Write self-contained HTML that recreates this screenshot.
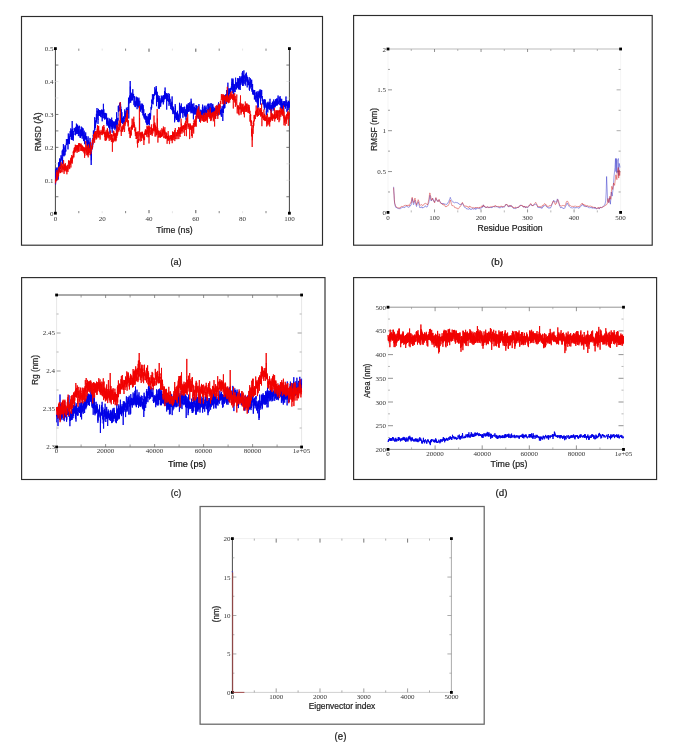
<!DOCTYPE html>
<html><head><meta charset="utf-8"><style>
html,body{margin:0;padding:0;background:#fff;}
body{width:685px;height:745px;overflow:hidden;font-family:"Liberation Sans",sans-serif;}
svg{display:block;will-change:transform;filter:blur(0.3px);}
</style></head><body>
<svg width="685" height="745" viewBox="0 0 685 745">
<rect x="21.5" y="16.5" width="301.0" height="228.7" fill="none" stroke="#2c2c2c" stroke-width="1.15"/>
<line x1="55.4" y1="48.6" x2="55.4" y2="213.2" stroke="#444" stroke-width="1"/>
<line x1="289.4" y1="48.6" x2="289.4" y2="213.2" stroke="#444" stroke-width="1"/>
<rect x="54.0" y="47.2" width="2.8" height="2.8" fill="#000"/>
<rect x="288.0" y="47.2" width="2.8" height="2.8" fill="#000"/>
<rect x="54.0" y="211.79999999999998" width="2.8" height="2.8" fill="#000"/>
<rect x="288.0" y="211.79999999999998" width="2.8" height="2.8" fill="#000"/>
<text x="53.4" y="215.7" font-family="Liberation Serif" font-size="7" text-anchor="end" fill="#333" font-weight="normal">0</text>
<text x="53.4" y="182.77999999999997" font-family="Liberation Serif" font-size="7" text-anchor="end" fill="#333" font-weight="normal">0.1</text>
<text x="53.4" y="149.85999999999999" font-family="Liberation Serif" font-size="7" text-anchor="end" fill="#333" font-weight="normal">0.2</text>
<text x="53.4" y="116.94" font-family="Liberation Serif" font-size="7" text-anchor="end" fill="#333" font-weight="normal">0.3</text>
<text x="53.4" y="84.01999999999998" font-family="Liberation Serif" font-size="7" text-anchor="end" fill="#333" font-weight="normal">0.4</text>
<text x="53.4" y="51.099999999999994" font-family="Liberation Serif" font-size="7" text-anchor="end" fill="#333" font-weight="normal">0.5</text>
<line x1="55.4" y1="196.73999999999998" x2="58.4" y2="196.73999999999998" stroke="#555" stroke-width="0.8"/>
<line x1="286.4" y1="196.73999999999998" x2="289.4" y2="196.73999999999998" stroke="#555" stroke-width="0.8"/>
<line x1="55.4" y1="180.27999999999997" x2="58.4" y2="180.27999999999997" stroke="#ddd" stroke-width="0.8"/>
<line x1="286.4" y1="180.27999999999997" x2="289.4" y2="180.27999999999997" stroke="#ddd" stroke-width="0.8"/>
<line x1="55.4" y1="163.82" x2="58.4" y2="163.82" stroke="#ddd" stroke-width="0.8"/>
<line x1="286.4" y1="163.82" x2="289.4" y2="163.82" stroke="#ddd" stroke-width="0.8"/>
<line x1="55.4" y1="147.35999999999999" x2="58.4" y2="147.35999999999999" stroke="#555" stroke-width="0.8"/>
<line x1="286.4" y1="147.35999999999999" x2="289.4" y2="147.35999999999999" stroke="#555" stroke-width="0.8"/>
<line x1="55.4" y1="130.89999999999998" x2="58.4" y2="130.89999999999998" stroke="#555" stroke-width="0.8"/>
<line x1="286.4" y1="130.89999999999998" x2="289.4" y2="130.89999999999998" stroke="#555" stroke-width="0.8"/>
<line x1="55.4" y1="114.44" x2="58.4" y2="114.44" stroke="#555" stroke-width="0.8"/>
<line x1="286.4" y1="114.44" x2="289.4" y2="114.44" stroke="#555" stroke-width="0.8"/>
<line x1="55.4" y1="97.97999999999999" x2="58.4" y2="97.97999999999999" stroke="#ddd" stroke-width="0.8"/>
<line x1="286.4" y1="97.97999999999999" x2="289.4" y2="97.97999999999999" stroke="#ddd" stroke-width="0.8"/>
<line x1="55.4" y1="81.51999999999998" x2="58.4" y2="81.51999999999998" stroke="#ddd" stroke-width="0.8"/>
<line x1="286.4" y1="81.51999999999998" x2="289.4" y2="81.51999999999998" stroke="#ddd" stroke-width="0.8"/>
<line x1="55.4" y1="65.06" x2="58.4" y2="65.06" stroke="#555" stroke-width="0.8"/>
<line x1="286.4" y1="65.06" x2="289.4" y2="65.06" stroke="#555" stroke-width="0.8"/>
<text x="55.4" y="220.5" font-family="Liberation Serif" font-size="7" text-anchor="middle" fill="#333" font-weight="normal">0</text>
<text x="102.19999999999999" y="220.5" font-family="Liberation Serif" font-size="7" text-anchor="middle" fill="#333" font-weight="normal">20</text>
<text x="149.0" y="220.5" font-family="Liberation Serif" font-size="7" text-anchor="middle" fill="#333" font-weight="normal">40</text>
<text x="195.79999999999998" y="220.5" font-family="Liberation Serif" font-size="7" text-anchor="middle" fill="#333" font-weight="normal">60</text>
<text x="242.6" y="220.5" font-family="Liberation Serif" font-size="7" text-anchor="middle" fill="#333" font-weight="normal">80</text>
<text x="289.3999999999999" y="220.5" font-family="Liberation Serif" font-size="7" text-anchor="middle" fill="#333" font-weight="normal">100</text>
<line x1="78.8" y1="213.2" x2="78.8" y2="211.0" stroke="#666" stroke-width="0.8"/>
<line x1="78.8" y1="48.6" x2="78.8" y2="50.800000000000004" stroke="#666" stroke-width="0.8"/>
<line x1="102.19999999999999" y1="213.2" x2="102.19999999999999" y2="211.2" stroke="#ddd" stroke-width="0.8"/>
<line x1="102.19999999999999" y1="48.6" x2="102.19999999999999" y2="50.6" stroke="#ddd" stroke-width="0.8"/>
<line x1="125.6" y1="213.2" x2="125.6" y2="211.0" stroke="#666" stroke-width="0.8"/>
<line x1="125.6" y1="48.6" x2="125.6" y2="50.800000000000004" stroke="#666" stroke-width="0.8"/>
<line x1="148.99999999999997" y1="213.2" x2="148.99999999999997" y2="210.0" stroke="#333" stroke-width="0.8"/>
<line x1="148.99999999999997" y1="48.6" x2="148.99999999999997" y2="51.800000000000004" stroke="#333" stroke-width="0.8"/>
<line x1="172.39999999999998" y1="213.2" x2="172.39999999999998" y2="211.2" stroke="#ddd" stroke-width="0.8"/>
<line x1="172.39999999999998" y1="48.6" x2="172.39999999999998" y2="50.6" stroke="#ddd" stroke-width="0.8"/>
<line x1="195.79999999999998" y1="213.2" x2="195.79999999999998" y2="210.0" stroke="#333" stroke-width="0.8"/>
<line x1="195.79999999999998" y1="48.6" x2="195.79999999999998" y2="51.800000000000004" stroke="#333" stroke-width="0.8"/>
<line x1="219.2" y1="213.2" x2="219.2" y2="211.0" stroke="#666" stroke-width="0.8"/>
<line x1="219.2" y1="48.6" x2="219.2" y2="50.800000000000004" stroke="#666" stroke-width="0.8"/>
<line x1="242.59999999999997" y1="213.2" x2="242.59999999999997" y2="211.2" stroke="#ddd" stroke-width="0.8"/>
<line x1="242.59999999999997" y1="48.6" x2="242.59999999999997" y2="50.6" stroke="#ddd" stroke-width="0.8"/>
<line x1="265.99999999999994" y1="213.2" x2="265.99999999999994" y2="211.0" stroke="#666" stroke-width="0.8"/>
<line x1="265.99999999999994" y1="48.6" x2="265.99999999999994" y2="50.800000000000004" stroke="#666" stroke-width="0.8"/>
<text x="174.5" y="232.8" font-family="Liberation Sans" font-size="8.8" text-anchor="middle" fill="#222" font-weight="normal" stroke="#222" stroke-width="0.22" textLength="36.4" lengthAdjust="spacingAndGlyphs">Time (ns)</text>
<text x="40.9" y="131.8" font-family="Liberation Sans" font-size="8.6" text-anchor="middle" fill="#222" font-weight="normal" stroke="#222" stroke-width="0.22" textLength="39" lengthAdjust="spacingAndGlyphs" transform="rotate(-90 40.9 131.8)">RMSD (Å)</text>
<text x="176" y="265.2" font-family="Liberation Sans" font-size="9.6" text-anchor="middle" fill="#222" font-weight="normal" stroke="#222" stroke-width="0.22" textLength="11.2" lengthAdjust="spacingAndGlyphs">(a)</text>
<polyline fill="none" stroke="#0000e6" stroke-width="0.9" stroke-opacity="1.0" stroke-linejoin="bevel" points="55.4,180.5 55.5,178.8 55.6,184.4 55.7,176.2 55.8,178.7 55.9,168.9 56.0,180.7 56.1,172.5 56.3,177.5 56.4,167.6 56.5,172.7 56.6,172.6 56.7,177.2 56.8,171.1 56.9,172.3 57.0,173.9 57.1,180.2 57.2,177.2 57.3,177.9 57.4,174.5 57.5,177.7 57.6,170.4 57.7,172.3 57.8,167.5 58.0,173.5 58.1,172.4 58.2,179.6 58.3,171.2 58.4,169.4 58.5,162.3 58.6,171.1 58.7,167.5 58.8,167.5 58.9,164.3 59.0,167.9 59.1,164.0 59.2,171.7 59.3,169.3 59.4,171.1 59.6,161.4 59.7,164.4 59.8,158.3 59.9,164.2 60.0,159.0 60.1,163.1 60.2,159.6 60.3,163.2 60.4,164.3 60.5,169.0 60.6,163.6 60.7,165.2 60.8,160.1 60.9,161.3 61.0,155.3 61.1,160.2 61.3,158.8 61.4,159.0 61.5,157.2 61.6,159.2 61.7,156.9 61.8,158.4 61.9,155.1 62.0,155.0 62.1,154.7 62.2,150.6 62.3,155.7 62.4,160.8 62.5,159.4 62.6,164.0 62.7,157.0 62.8,156.8 63.0,149.7 63.1,156.0 63.2,149.4 63.3,151.8 63.4,144.1 63.5,152.3 63.6,147.0 63.7,155.1 63.8,147.2 63.9,148.9 64.0,148.1 64.1,156.3 64.2,153.7 64.3,154.7 64.4,154.3 64.6,153.3 64.7,153.4 64.8,153.0 64.9,150.9 65.0,155.3 65.1,145.3 65.2,151.5 65.3,145.7 65.4,150.2 65.5,149.1 65.6,151.2 65.7,149.8 65.8,151.6 65.9,145.4 66.0,145.3 66.1,144.0 66.3,142.6 66.4,139.2 66.5,140.9 66.6,141.4 66.7,145.1 66.8,143.9 66.9,144.9 67.0,142.2 67.1,144.0 67.2,139.2 67.3,142.3 67.4,139.6 67.5,140.3 67.6,139.3 67.7,140.5 67.9,139.4 68.0,149.4 68.1,141.6 68.2,143.7 68.3,133.5 68.4,140.9 68.5,137.0 68.6,141.4 68.7,137.9 68.8,143.1 68.9,139.6 69.0,139.4 69.1,135.5 69.2,142.5 69.3,136.7 69.4,144.1 69.6,137.6 69.7,139.2 69.8,139.0 69.9,137.5 70.0,133.9 70.1,134.6 70.2,131.1 70.3,136.9 70.4,134.2 70.5,135.5 70.6,133.8 70.7,135.6 70.8,128.4 70.9,135.8 71.0,130.5 71.1,136.4 71.3,131.0 71.4,139.8 71.5,136.3 71.6,139.3 71.7,131.7 71.8,135.6 71.9,129.7 72.0,136.0 72.1,128.6 72.2,121.0 72.3,132.2 72.4,129.0 72.5,139.9 72.6,131.9 72.7,137.0 72.9,135.8 73.0,135.4 73.1,138.1 73.2,134.0 73.3,140.7 73.4,133.1 73.5,132.7 73.6,131.0 73.7,132.5 73.8,133.0 73.9,135.0 74.0,132.4 74.1,130.4 74.2,127.9 74.3,130.7 74.4,128.7 74.6,129.7 74.7,130.2 74.8,130.5 74.9,129.9 75.0,131.8 75.1,131.5 75.2,131.7 75.3,129.0 75.4,135.3 75.5,131.8 75.6,134.4 75.7,128.4 75.8,133.4 75.9,126.8 76.0,133.1 76.2,127.0 76.3,132.1 76.4,123.6 76.5,125.6 76.6,125.1 76.7,134.1 76.8,130.4 76.9,133.3 77.0,126.6 77.1,131.3 77.2,127.1 77.3,131.7 77.4,126.7 77.5,130.6 77.6,124.7 77.7,134.0 77.9,128.8 78.0,131.4 78.1,126.5 78.2,128.3 78.3,126.6 78.4,136.1 78.5,129.0 78.6,131.7 78.7,129.4 78.8,132.9 78.9,131.6 79.0,133.9 79.1,127.2 79.2,128.0 79.3,125.7 79.4,126.6 79.6,126.1 79.7,132.3 79.8,131.8 79.9,136.3 80.0,132.7 80.1,137.8 80.2,134.6 80.3,133.2 80.4,129.8 80.5,137.8 80.6,130.2 80.7,136.7 80.8,131.3 80.9,136.1 81.0,129.2 81.2,131.6 81.3,126.6 81.4,132.5 81.5,129.2 81.6,135.8 81.7,131.2 81.8,134.9 81.9,133.3 82.0,134.4 82.1,128.6 82.2,138.7 82.3,127.6 82.4,135.9 82.5,131.2 82.6,133.9 82.7,134.6 82.9,133.8 83.0,128.3 83.1,129.3 83.2,128.9 83.3,134.6 83.4,139.0 83.5,141.1 83.6,136.3 83.7,136.2 83.8,132.3 83.9,137.7 84.0,138.0 84.1,136.9 84.2,130.7 84.3,137.2 84.5,139.0 84.6,144.2 84.7,138.9 84.8,138.4 84.9,135.1 85.0,140.3 85.1,138.1 85.2,138.9 85.3,136.0 85.4,138.0 85.5,134.2 85.6,137.7 85.7,132.4 85.8,137.7 85.9,137.7 86.0,139.1 86.2,137.3 86.3,139.2 86.4,139.8 86.5,140.5 86.6,136.2 86.7,139.2 86.8,138.0 86.9,143.1 87.0,140.6 87.1,144.8 87.2,139.8 87.3,148.7 87.4,142.5 87.5,147.1 87.6,150.1 87.7,143.2 87.9,139.9 88.0,142.4 88.1,136.4 88.2,140.0 88.3,140.6 88.4,143.8 88.5,141.6 88.6,145.7 88.7,145.1 88.8,149.1 88.9,141.8 89.0,144.6 89.1,143.8 89.2,147.8 89.3,147.1 89.5,148.7 89.6,145.6 89.7,148.2 89.8,142.7 89.9,148.0 90.0,137.9 90.1,147.6 90.2,141.8 90.3,150.4 90.4,152.5 90.5,155.2 90.6,146.3 90.7,149.6 90.8,148.0 90.9,154.3 91.0,154.4 91.2,165.0 91.3,151.6 91.4,160.2 91.5,152.7 91.6,151.5 91.7,147.5 91.8,149.9 91.9,146.1 92.0,147.8 92.1,142.6 92.2,148.4 92.3,143.6 92.4,146.5 92.5,144.1 92.6,147.5 92.8,142.2 92.9,144.6 93.0,137.9 93.1,139.9 93.2,135.1 93.3,136.7 93.4,130.5 93.5,136.0 93.6,134.2 93.7,139.7 93.8,134.1 93.9,135.0 94.0,141.5 94.1,137.4 94.2,131.2 94.3,131.8 94.5,127.0 94.6,127.3 94.7,117.2 94.8,130.3 94.9,127.1 95.0,128.1 95.1,125.2 95.2,127.7 95.3,124.0 95.4,126.2 95.5,121.3 95.6,121.7 95.7,120.9 95.8,124.4 95.9,119.8 96.0,122.7 96.2,117.8 96.3,119.0 96.4,113.8 96.5,121.7 96.6,117.1 96.7,118.1 96.8,115.5 96.9,116.0 97.0,108.0 97.1,118.8 97.2,110.8 97.3,112.6 97.4,110.8 97.5,112.2 97.6,111.4 97.8,111.5 97.9,115.9 98.0,123.9 98.1,118.9 98.2,119.6 98.3,114.1 98.4,115.4 98.5,108.9 98.6,112.9 98.7,112.0 98.8,113.9 98.9,110.3 99.0,114.9 99.1,113.9 99.2,115.9 99.3,110.5 99.5,112.4 99.6,110.0 99.7,114.8 99.8,114.3 99.9,115.7 100.0,113.3 100.1,115.9 100.2,113.9 100.3,114.8 100.4,115.9 100.5,114.9 100.6,110.4 100.7,114.6 100.8,110.8 100.9,117.0 101.1,115.9 101.2,117.3 101.3,113.6 101.4,111.0 101.5,109.8 101.6,114.2 101.7,109.7 101.8,110.9 101.9,110.1 102.0,111.1 102.1,110.0 102.2,121.3 102.3,110.2 102.4,112.5 102.5,111.0 102.6,115.6 102.8,113.1 102.9,118.4 103.0,117.3 103.1,117.8 103.2,109.5 103.3,112.3 103.4,103.8 103.5,113.2 103.6,110.5 103.7,114.5 103.8,109.2 103.9,116.0 104.0,115.5 104.1,118.2 104.2,115.5 104.3,116.7 104.5,112.9 104.6,116.4 104.7,115.9 104.8,119.7 104.9,115.7 105.0,118.8 105.1,115.6 105.2,116.1 105.3,112.9 105.4,114.0 105.5,113.4 105.6,114.7 105.7,113.5 105.8,118.8 105.9,116.5 106.1,117.3 106.2,117.4 106.3,118.1 106.4,116.0 106.5,114.8 106.6,113.5 106.7,124.2 106.8,118.0 106.9,122.4 107.0,119.7 107.1,125.9 107.2,119.9 107.3,121.7 107.4,121.2 107.5,124.3 107.6,118.4 107.8,124.5 107.9,117.7 108.0,124.5 108.1,120.6 108.2,121.7 108.3,124.8 108.4,121.9 108.5,122.6 108.6,125.6 108.7,123.4 108.8,126.9 108.9,125.1 109.0,127.8 109.1,124.4 109.2,127.7 109.4,123.5 109.5,126.9 109.6,118.5 109.7,128.7 109.8,126.7 109.9,133.7 110.0,120.9 110.1,124.3 110.2,120.9 110.3,123.6 110.4,119.2 110.5,121.9 110.6,122.6 110.7,126.2 110.8,123.3 110.9,126.2 111.1,126.2 111.2,127.1 111.3,119.8 111.4,127.0 111.5,121.1 111.6,119.8 111.7,117.6 111.8,125.9 111.9,122.3 112.0,128.9 112.1,120.3 112.2,132.8 112.3,121.7 112.4,125.9 112.5,120.7 112.6,128.5 112.8,125.3 112.9,128.8 113.0,124.7 113.1,124.3 113.2,123.2 113.3,124.0 113.4,123.3 113.5,124.8 113.6,121.6 113.7,125.3 113.8,122.0 113.9,126.4 114.0,121.6 114.1,127.6 114.2,125.6 114.4,128.1 114.5,124.5 114.6,125.2 114.7,122.5 114.8,129.7 114.9,122.2 115.0,122.8 115.1,121.4 115.2,126.9 115.3,126.6 115.4,127.6 115.5,120.7 115.6,127.9 115.7,126.9 115.8,128.6 115.9,119.2 116.1,126.9 116.2,123.4 116.3,131.1 116.4,120.6 116.5,125.1 116.6,112.3 116.7,127.6 116.8,123.7 116.9,128.6 117.0,125.8 117.1,134.0 117.2,120.2 117.3,124.3 117.4,118.6 117.5,120.2 117.7,117.9 117.8,119.9 117.9,118.2 118.0,120.9 118.1,116.3 118.2,116.0 118.3,105.9 118.4,111.1 118.5,105.7 118.6,111.8 118.7,106.9 118.8,110.2 118.9,107.1 119.0,110.3 119.1,108.6 119.2,111.2 119.4,109.5 119.5,109.4 119.6,107.1 119.7,106.8 119.8,103.6 119.9,106.1 120.0,103.2 120.1,105.1 120.2,103.0 120.3,106.2 120.4,102.4 120.5,109.5 120.6,104.2 120.7,110.7 120.8,106.6 120.9,112.1 121.1,109.7 121.2,115.7 121.3,109.0 121.4,112.2 121.5,113.2 121.6,122.9 121.7,118.6 121.8,119.0 121.9,112.2 122.0,118.4 122.1,119.8 122.2,122.1 122.3,118.0 122.4,120.7 122.5,120.9 122.7,124.1 122.8,118.3 122.9,118.3 123.0,117.6 123.1,122.5 123.2,123.6 123.3,123.2 123.4,120.7 123.5,122.4 123.6,116.9 123.7,119.5 123.8,116.3 123.9,118.5 124.0,118.2 124.1,120.1 124.2,124.6 124.4,123.6 124.5,119.9 124.6,119.4 124.7,117.3 124.8,109.4 124.9,116.0 125.0,114.2 125.1,111.1 125.2,118.5 125.3,116.1 125.4,118.8 125.5,114.5 125.6,114.6 125.7,113.2 125.8,116.5 126.0,115.3 126.1,114.9 126.2,114.0 126.3,113.3 126.4,107.7 126.5,113.4 126.6,111.0 126.7,118.9 126.8,115.7 126.9,115.7 127.0,114.9 127.1,114.6 127.2,112.5 127.3,114.0 127.4,109.0 127.5,111.2 127.7,111.1 127.8,111.1 127.9,107.1 128.0,109.2 128.1,109.9 128.2,113.7 128.3,108.5 128.4,105.7 128.5,97.7 128.6,104.2 128.7,106.1 128.8,118.5 128.9,105.0 129.0,102.1 129.1,100.7 129.2,103.4 129.4,99.1 129.5,96.2 129.6,99.6 129.7,100.8 129.8,98.2 129.9,97.7 130.0,95.1 130.1,95.9 130.2,81.0 130.3,101.2 130.4,86.6 130.5,101.8 130.6,99.4 130.7,102.8 130.8,97.4 131.0,98.8 131.1,93.5 131.2,100.5 131.3,97.5 131.4,97.9 131.5,95.6 131.6,100.3 131.7,99.2 131.8,98.3 131.9,92.7 132.0,97.9 132.1,94.0 132.2,100.3 132.3,96.5 132.4,100.2 132.5,95.0 132.7,96.7 132.8,89.2 132.9,94.9 133.0,94.5 133.1,97.8 133.2,96.1 133.3,96.4 133.4,94.3 133.5,97.1 133.6,93.9 133.7,99.9 133.8,99.8 133.9,104.9 134.0,105.2 134.1,100.4 134.3,99.3 134.4,99.4 134.5,96.2 134.6,100.9 134.7,103.7 134.8,106.6 134.9,104.6 135.0,103.5 135.1,100.7 135.2,103.7 135.3,101.5 135.4,107.1 135.5,103.7 135.6,106.5 135.7,102.1 135.8,104.6 136.0,101.6 136.1,100.6 136.2,96.6 136.3,102.6 136.4,97.7 136.5,99.5 136.6,100.4 136.7,105.6 136.8,100.7 136.9,104.9 137.0,97.8 137.1,109.2 137.2,97.3 137.3,105.7 137.4,102.3 137.6,105.3 137.7,98.5 137.8,106.0 137.9,104.6 138.0,107.1 138.1,100.4 138.2,102.9 138.3,103.1 138.4,106.8 138.5,100.5 138.6,101.4 138.7,99.5 138.8,105.0 138.9,97.7 139.0,108.2 139.1,106.4 139.3,107.2 139.4,106.8 139.5,106.7 139.6,104.7 139.7,104.1 139.8,100.8 139.9,108.5 140.0,110.8 140.1,109.7 140.2,108.6 140.3,111.7 140.4,107.7 140.5,105.7 140.6,105.9 140.7,110.2 140.8,104.1 141.0,103.6 141.1,104.5 141.2,107.8 141.3,108.1 141.4,108.1 141.5,105.8 141.6,107.9 141.7,108.1 141.8,109.2 141.9,103.7 142.0,109.6 142.1,107.2 142.2,112.9 142.3,105.4 142.4,112.7 142.6,103.8 142.7,108.5 142.8,108.1 142.9,115.4 143.0,110.3 143.1,110.8 143.2,105.1 143.3,108.3 143.4,107.7 143.5,113.9 143.6,115.0 143.7,113.2 143.8,109.2 143.9,116.7 144.0,114.9 144.1,118.4 144.3,114.6 144.4,116.2 144.5,115.5 144.6,118.1 144.7,114.2 144.8,115.4 144.9,113.7 145.0,119.5 145.1,115.7 145.2,118.3 145.3,116.9 145.4,119.9 145.5,113.2 145.6,115.0 145.7,115.5 145.9,122.3 146.0,121.4 146.1,121.0 146.2,118.8 146.3,123.1 146.4,115.9 146.5,120.5 146.6,119.9 146.7,121.7 146.8,117.6 146.9,124.3 147.0,120.4 147.1,124.7 147.2,120.5 147.3,125.1 147.4,120.5 147.6,119.7 147.7,117.3 147.8,120.6 147.9,116.3 148.0,121.7 148.1,117.9 148.2,120.2 148.3,113.9 148.4,123.9 148.5,120.7 148.6,123.6 148.7,121.7 148.8,124.2 148.9,120.4 149.0,120.4 149.1,116.0 149.3,125.4 149.4,118.1 149.5,121.6 149.6,113.1 149.7,118.3 149.8,112.9 149.9,118.0 150.0,114.3 150.1,117.1 150.2,113.4 150.3,119.6 150.4,114.0 150.5,118.9 150.6,116.0 150.7,115.7 150.9,109.4 151.0,108.9 151.1,106.9 151.2,109.3 151.3,108.8 151.4,109.4 151.5,104.7 151.6,108.1 151.7,107.8 151.8,105.8 151.9,99.8 152.0,103.0 152.1,99.4 152.2,103.9 152.3,100.7 152.4,94.3 152.6,96.5 152.7,98.9 152.8,97.8 152.9,101.6 153.0,103.9 153.1,104.3 153.2,99.5 153.3,96.0 153.4,94.2 153.5,99.6 153.6,95.2 153.7,99.2 153.8,95.3 153.9,95.3 154.0,94.9 154.2,95.6 154.3,95.8 154.4,95.5 154.5,92.3 154.6,94.2 154.7,95.3 154.8,87.2 154.9,91.2 155.0,92.2 155.1,93.9 155.2,91.4 155.3,94.5 155.4,93.4 155.5,89.8 155.6,89.6 155.7,90.1 155.9,94.4 156.0,91.6 156.1,94.0 156.2,86.0 156.3,93.4 156.4,88.4 156.5,106.2 156.6,91.5 156.7,94.7 156.8,93.5 156.9,98.8 157.0,93.8 157.1,94.9 157.2,91.8 157.3,93.8 157.4,94.7 157.6,99.1 157.7,96.7 157.8,102.0 157.9,97.8 158.0,100.3 158.1,96.5 158.2,95.3 158.3,101.5 158.4,108.7 158.5,101.3 158.6,99.7 158.7,98.6 158.8,102.1 158.9,98.3 159.0,100.4 159.2,95.9 159.3,100.9 159.4,100.9 159.5,108.7 159.6,104.4 159.7,106.4 159.8,99.8 159.9,106.2 160.0,98.3 160.1,102.4 160.2,100.6 160.3,106.6 160.4,100.9 160.5,104.3 160.6,100.9 160.7,106.6 160.9,102.0 161.0,103.2 161.1,101.4 161.2,101.7 161.3,95.6 161.4,97.8 161.5,99.4 161.6,100.5 161.7,97.0 161.8,102.0 161.9,99.5 162.0,100.5 162.1,96.4 162.2,102.2 162.3,98.5 162.5,101.7 162.6,100.2 162.7,100.6 162.8,99.6 162.9,102.0 163.0,96.5 163.1,100.5 163.2,95.2 163.3,104.4 163.4,96.3 163.5,96.8 163.6,95.5 163.7,102.3 163.8,101.3 163.9,101.4 164.0,96.8 164.2,98.5 164.3,98.0 164.4,97.6 164.5,91.0 164.6,99.3 164.7,94.6 164.8,99.2 164.9,92.6 165.0,99.0 165.1,87.5 165.2,96.7 165.3,92.2 165.4,96.6 165.5,95.7 165.6,96.1 165.7,95.1 165.9,97.8 166.0,97.4 166.1,98.4 166.2,94.8 166.3,96.7 166.4,93.1 166.5,98.9 166.6,95.9 166.7,109.6 166.8,94.5 166.9,95.6 167.0,94.8 167.1,101.2 167.2,94.2 167.3,97.8 167.5,97.4 167.6,100.5 167.7,100.2 167.8,99.3 167.9,95.4 168.0,97.5 168.1,93.0 168.2,98.1 168.3,98.9 168.4,99.6 168.5,99.7 168.6,101.8 168.7,98.6 168.8,101.8 168.9,99.7 169.0,105.8 169.2,97.1 169.3,95.7 169.4,93.8 169.5,100.8 169.6,96.5 169.7,101.6 169.8,100.8 169.9,104.2 170.0,99.2 170.1,98.9 170.2,98.9 170.3,101.6 170.4,102.4 170.5,104.9 170.6,107.6 170.8,109.1 170.9,103.3 171.0,103.2 171.1,106.0 171.2,103.4 171.3,103.9 171.4,106.2 171.5,104.8 171.6,107.0 171.7,102.7 171.8,110.2 171.9,101.7 172.0,103.9 172.1,96.4 172.2,104.4 172.3,104.0 172.5,110.3 172.6,106.3 172.7,110.0 172.8,107.1 172.9,114.1 173.0,106.5 173.1,112.1 173.2,108.8 173.3,111.4 173.4,111.4 173.5,112.7 173.6,107.8 173.7,108.5 173.8,111.1 173.9,113.7 174.0,113.2 174.2,113.5 174.3,110.5 174.4,114.6 174.5,113.1 174.6,122.3 174.7,117.4 174.8,120.5 174.9,116.0 175.0,117.2 175.1,107.6 175.2,104.1 175.3,109.1 175.4,114.1 175.5,106.0 175.6,114.4 175.8,113.4 175.9,118.3 176.0,115.2 176.1,118.4 176.2,112.5 176.3,116.9 176.4,112.9 176.5,120.0 176.6,113.4 176.7,116.4 176.8,112.7 176.9,118.7 177.0,116.6 177.1,119.0 177.2,113.3 177.3,117.2 177.5,110.8 177.6,119.7 177.7,117.6 177.8,121.8 177.9,116.6 178.0,116.2 178.1,116.0 178.2,119.4 178.3,114.9 178.4,117.3 178.5,117.7 178.6,119.3 178.7,117.9 178.8,122.2 178.9,113.6 179.1,121.3 179.2,118.3 179.3,117.5 179.4,110.2 179.5,102.8 179.6,106.4 179.7,109.7 179.8,111.9 179.9,113.7 180.0,107.6 180.1,109.3 180.2,105.6 180.3,118.5 180.4,112.3 180.5,113.2 180.6,106.6 180.8,110.8 180.9,106.4 181.0,110.2 181.1,107.1 181.2,112.5 181.3,103.5 181.4,107.7 181.5,111.9 181.6,112.6 181.7,109.5 181.8,111.4 181.9,107.3 182.0,111.0 182.1,107.4 182.2,113.3 182.3,111.8 182.5,113.2 182.6,109.6 182.7,112.2 182.8,107.5 182.9,117.7 183.0,110.5 183.1,111.2 183.2,108.8 183.3,112.9 183.4,109.5 183.5,112.8 183.6,112.1 183.7,111.8 183.8,107.4 183.9,107.9 184.1,106.9 184.2,109.6 184.3,114.1 184.4,115.2 184.5,112.0 184.6,113.3 184.7,106.7 184.8,108.2 184.9,110.3 185.0,116.5 185.1,111.8 185.2,116.5 185.3,113.0 185.4,114.0 185.5,109.3 185.6,115.6 185.8,113.8 185.9,119.3 186.0,119.5 186.1,120.5 186.2,113.2 186.3,114.1 186.4,110.6 186.5,116.5 186.6,105.5 186.7,114.6 186.8,112.2 186.9,115.4 187.0,104.3 187.1,109.0 187.2,105.5 187.4,114.2 187.5,108.7 187.6,108.4 187.7,106.3 187.8,104.9 187.9,105.9 188.0,111.8 188.1,108.5 188.2,107.8 188.3,103.0 188.4,111.8 188.5,109.8 188.6,110.0 188.7,106.2 188.8,109.0 188.9,110.2 189.1,111.7 189.2,108.6 189.3,110.7 189.4,106.6 189.5,108.0 189.6,103.7 189.7,105.0 189.8,102.3 189.9,106.6 190.0,104.6 190.1,108.2 190.2,107.3 190.3,109.7 190.4,106.2 190.5,109.7 190.6,108.6 190.8,111.7 190.9,105.7 191.0,113.3 191.1,98.7 191.2,105.3 191.3,101.4 191.4,109.8 191.5,111.3 191.6,112.6 191.7,106.6 191.8,108.4 191.9,104.8 192.0,107.9 192.1,106.7 192.2,110.7 192.4,106.5 192.5,108.2 192.6,103.8 192.7,113.2 192.8,107.1 192.9,111.2 193.0,110.3 193.1,110.2 193.2,113.4 193.3,114.4 193.4,119.3 193.5,113.3 193.6,111.1 193.7,111.8 193.8,103.4 193.9,113.6 194.1,107.3 194.2,112.4 194.3,107.4 194.4,114.5 194.5,106.8 194.6,110.7 194.7,110.2 194.8,110.6 194.9,113.9 195.0,112.8 195.1,108.9 195.2,109.7 195.3,107.9 195.4,111.1 195.5,108.3 195.7,114.6 195.8,110.3 195.9,110.6 196.0,105.1 196.1,111.1 196.2,110.6 196.3,112.0 196.4,105.4 196.5,109.5 196.6,108.5 196.7,118.3 196.8,109.5 196.9,106.2 197.0,112.0 197.1,113.5 197.2,111.7 197.4,115.0 197.5,113.6 197.6,116.9 197.7,113.5 197.8,115.0 197.9,110.1 198.0,113.5 198.1,105.8 198.2,112.5 198.3,113.7 198.4,118.6 198.5,114.3 198.6,114.0 198.7,107.6 198.8,114.6 198.9,104.0 199.1,114.9 199.2,113.5 199.3,113.6 199.4,112.6 199.5,120.1 199.6,116.1 199.7,121.7 199.8,114.3 199.9,116.9 200.0,116.1 200.1,115.5 200.2,113.4 200.3,113.5 200.4,112.3 200.5,114.5 200.7,109.7 200.8,118.2 200.9,113.0 201.0,118.5 201.1,115.5 201.2,116.0 201.3,111.5 201.4,114.3 201.5,112.9 201.6,114.5 201.7,110.5 201.8,116.8 201.9,113.1 202.0,115.7 202.1,110.2 202.2,112.7 202.4,106.9 202.5,113.4 202.6,104.6 202.7,110.6 202.8,107.1 202.9,111.8 203.0,109.5 203.1,112.9 203.2,112.9 203.3,118.2 203.4,112.5 203.5,115.8 203.6,110.9 203.7,116.8 203.8,110.3 204.0,114.6 204.1,108.7 204.2,111.2 204.3,105.7 204.4,110.3 204.5,110.6 204.6,115.0 204.7,107.9 204.8,109.4 204.9,113.6 205.0,114.6 205.1,112.0 205.2,113.4 205.3,110.0 205.4,112.2 205.5,107.5 205.7,114.7 205.8,111.4 205.9,115.3 206.0,105.6 206.1,108.8 206.2,107.7 206.3,112.7 206.4,110.3 206.5,110.0 206.6,112.1 206.7,112.3 206.8,111.4 206.9,113.7 207.0,112.3 207.1,110.8 207.2,111.5 207.4,110.0 207.5,109.3 207.6,110.5 207.7,109.5 207.8,110.7 207.9,104.7 208.0,105.9 208.1,103.7 208.2,111.7 208.3,103.9 208.4,111.9 208.5,108.5 208.6,113.0 208.7,107.8 208.8,111.5 209.0,106.3 209.1,110.2 209.2,103.7 209.3,109.0 209.4,106.9 209.5,114.4 209.6,112.3 209.7,111.5 209.8,107.2 209.9,111.6 210.0,106.9 210.1,112.5 210.2,108.2 210.3,118.0 210.4,109.4 210.5,111.4 210.7,108.7 210.8,110.3 210.9,103.5 211.0,106.9 211.1,103.2 211.2,110.8 211.3,107.3 211.4,112.2 211.5,108.3 211.6,113.7 211.7,111.9 211.8,112.1 211.9,107.4 212.0,110.7 212.1,108.3 212.3,115.7 212.4,113.3 212.5,116.3 212.6,104.8 212.7,107.9 212.8,103.9 212.9,113.0 213.0,111.3 213.1,111.7 213.2,111.5 213.3,112.9 213.4,109.5 213.5,114.6 213.6,108.9 213.7,111.4 213.8,106.8 214.0,112.3 214.1,109.8 214.2,113.0 214.3,109.9 214.4,112.4 214.5,108.4 214.6,110.6 214.7,108.5 214.8,114.4 214.9,108.0 215.0,111.6 215.1,109.1 215.2,112.7 215.3,112.0 215.4,118.4 215.6,115.2 215.7,115.8 215.8,109.5 215.9,112.4 216.0,108.1 216.1,110.4 216.2,107.4 216.3,113.5 216.4,111.3 216.5,113.7 216.6,106.8 216.7,112.4 216.8,112.8 216.9,113.2 217.0,109.9 217.1,108.6 217.3,107.2 217.4,109.2 217.5,105.8 217.6,108.6 217.7,108.9 217.8,113.6 217.9,107.8 218.0,109.0 218.1,107.9 218.2,115.5 218.3,103.8 218.4,107.3 218.5,102.4 218.6,111.2 218.7,106.7 218.8,111.1 219.0,110.2 219.1,113.0 219.2,108.9 219.3,112.0 219.4,107.6 219.5,110.5 219.6,105.6 219.7,110.2 219.8,110.4 219.9,110.4 220.0,105.6 220.1,112.2 220.2,110.7 220.3,114.4 220.4,109.9 220.6,113.8 220.7,111.4 220.8,112.1 220.9,110.0 221.0,112.7 221.1,112.4 221.2,115.4 221.3,114.3 221.4,116.8 221.5,108.6 221.6,109.6 221.7,110.2 221.8,112.4 221.9,112.5 222.0,110.8 222.1,106.2 222.3,110.7 222.4,110.0 222.5,112.4 222.6,108.9 222.7,113.4 222.8,121.0 222.9,113.8 223.0,111.7 223.1,107.9 223.2,105.9 223.3,108.0 223.4,103.0 223.5,113.0 223.6,105.5 223.7,106.8 223.9,99.4 224.0,108.2 224.1,103.1 224.2,107.7 224.3,95.4 224.4,100.9 224.5,99.3 224.6,108.4 224.7,103.2 224.8,107.9 224.9,101.7 225.0,103.1 225.1,99.1 225.2,101.0 225.3,95.6 225.4,99.9 225.6,99.2 225.7,100.4 225.8,94.4 225.9,96.7 226.0,96.4 226.1,97.6 226.2,94.9 226.3,104.0 226.4,94.3 226.5,99.6 226.6,90.0 226.7,92.1 226.8,91.4 226.9,94.9 227.0,94.1 227.1,94.4 227.3,92.1 227.4,93.0 227.5,93.5 227.6,92.9 227.7,88.2 227.8,84.5 227.9,82.7 228.0,86.0 228.1,87.5 228.2,91.0 228.3,91.7 228.4,94.5 228.5,93.1 228.6,99.0 228.7,92.9 228.9,92.6 229.0,88.3 229.1,94.4 229.2,90.5 229.3,92.0 229.4,89.2 229.5,92.1 229.6,89.9 229.7,91.2 229.8,89.9 229.9,94.4 230.0,91.1 230.1,93.0 230.2,88.3 230.3,91.5 230.4,88.2 230.6,92.2 230.7,88.0 230.8,91.0 230.9,88.0 231.0,89.3 231.1,87.9 231.2,89.6 231.3,86.5 231.4,87.6 231.5,89.1 231.6,86.9 231.7,84.0 231.8,85.0 231.9,78.5 232.0,87.4 232.2,81.9 232.3,87.4 232.4,87.2 232.5,92.7 232.6,84.9 232.7,79.8 232.8,82.4 232.9,85.0 233.0,78.6 233.1,82.1 233.2,82.9 233.3,85.1 233.4,83.9 233.5,91.5 233.6,99.4 233.7,90.2 233.9,85.9 234.0,91.3 234.1,85.2 234.2,92.2 234.3,84.1 234.4,87.2 234.5,86.2 234.6,87.8 234.7,87.2 234.8,88.6 234.9,87.7 235.0,88.5 235.1,90.4 235.2,92.1 235.3,85.6 235.4,83.2 235.6,77.7 235.7,79.4 235.8,80.3 235.9,85.7 236.0,83.0 236.1,89.5 236.2,82.1 236.3,89.1 236.4,84.6 236.5,83.9 236.6,83.4 236.7,86.0 236.8,86.8 236.9,86.0 237.0,84.3 237.2,87.9 237.3,84.8 237.4,86.1 237.5,84.7 237.6,86.1 237.7,78.0 237.8,83.2 237.9,82.0 238.0,87.3 238.1,81.4 238.2,85.3 238.3,78.7 238.4,89.3 238.5,86.6 238.6,86.3 238.7,84.6 238.9,83.3 239.0,78.6 239.1,81.8 239.2,78.6 239.3,87.6 239.4,89.5 239.5,88.1 239.6,79.6 239.7,77.4 239.8,76.1 239.9,81.1 240.0,84.5 240.1,88.3 240.2,88.7 240.3,89.9 240.5,81.8 240.6,85.0 240.7,77.5 240.8,81.4 240.9,79.4 241.0,81.3 241.1,80.1 241.2,82.8 241.3,76.3 241.4,78.2 241.5,81.4 241.6,81.6 241.7,78.6 241.8,80.5 241.9,80.0 242.0,84.5 242.2,72.7 242.3,82.1 242.4,79.0 242.5,86.0 242.6,71.1 242.7,82.2 242.8,78.1 242.9,82.4 243.0,75.4 243.1,82.6 243.2,79.0 243.3,85.8 243.4,75.9 243.5,82.4 243.6,74.4 243.7,74.8 243.9,70.4 244.0,76.4 244.1,75.2 244.2,78.4 244.3,75.8 244.4,79.9 244.5,80.1 244.6,81.3 244.7,80.6 244.8,83.8 244.9,79.7 245.0,79.7 245.1,76.3 245.2,83.2 245.3,85.5 245.5,81.5 245.6,76.9 245.7,73.7 245.8,77.6 245.9,81.1 246.0,78.9 246.1,81.8 246.2,79.2 246.3,78.2 246.4,72.6 246.5,78.2 246.6,78.2 246.7,78.5 246.8,75.4 246.9,80.1 247.0,83.5 247.2,87.4 247.3,83.7 247.4,82.7 247.5,76.9 247.6,82.7 247.7,78.8 247.8,81.2 247.9,79.8 248.0,84.8 248.1,84.1 248.2,85.1 248.3,80.7 248.4,84.8 248.5,81.1 248.6,84.8 248.8,82.7 248.9,83.8 249.0,82.4 249.1,85.3 249.2,77.2 249.3,89.9 249.4,84.4 249.5,90.7 249.6,86.6 249.7,85.8 249.8,86.0 249.9,88.8 250.0,82.2 250.1,87.7 250.2,82.4 250.3,84.5 250.5,78.4 250.6,80.6 250.7,83.4 250.8,84.2 250.9,81.5 251.0,82.7 251.1,80.7 251.2,86.8 251.3,84.6 251.4,85.7 251.5,80.5 251.6,87.2 251.7,79.7 251.8,90.1 251.9,88.6 252.0,91.7 252.2,87.4 252.3,89.3 252.4,88.6 252.5,91.7 252.6,84.0 252.7,93.7 252.8,89.5 252.9,90.7 253.0,90.9 253.1,94.6 253.2,90.7 253.3,94.8 253.4,93.2 253.5,93.5 253.6,90.7 253.8,91.8 253.9,90.1 254.0,93.3 254.1,90.1 254.2,93.3 254.3,94.3 254.4,99.5 254.5,93.8 254.6,94.8 254.7,90.0 254.8,95.0 254.9,92.7 255.0,98.4 255.1,99.0 255.2,97.2 255.3,96.4 255.5,96.7 255.6,96.3 255.7,101.6 255.8,95.2 255.9,96.7 256.0,96.5 256.1,97.0 256.2,92.5 256.3,94.7 256.4,91.7 256.5,97.7 256.6,93.3 256.7,98.0 256.8,95.2 256.9,102.1 257.1,97.2 257.2,103.4 257.3,98.8 257.4,97.7 257.5,94.8 257.6,101.1 257.7,110.4 257.8,97.6 257.9,91.2 258.0,96.3 258.1,92.8 258.2,100.3 258.3,98.7 258.4,107.3 258.5,97.6 258.6,97.4 258.8,95.1 258.9,97.0 259.0,92.0 259.1,97.4 259.2,90.7 259.3,95.0 259.4,91.7 259.5,94.8 259.6,92.8 259.7,95.9 259.8,98.3 259.9,97.3 260.0,89.4 260.1,94.1 260.2,92.7 260.3,96.8 260.5,104.5 260.6,97.5 260.7,91.4 260.8,92.2 260.9,89.8 261.0,96.8 261.1,93.3 261.2,97.7 261.3,93.2 261.4,95.5 261.5,90.2 261.6,94.6 261.7,90.0 261.8,97.8 261.9,98.5 262.1,98.6 262.2,96.0 262.3,101.1 262.4,98.6 262.5,99.3 262.6,99.8 262.7,99.8 262.8,102.1 262.9,104.4 263.0,102.0 263.1,102.3 263.2,99.4 263.3,104.1 263.4,100.2 263.5,103.6 263.6,102.1 263.8,103.8 263.9,101.0 264.0,105.4 264.1,104.0 264.2,107.6 264.3,104.3 264.4,109.6 264.5,99.3 264.6,107.9 264.7,104.5 264.8,106.1 264.9,100.1 265.0,103.1 265.1,101.6 265.2,99.5 265.4,102.0 265.5,102.7 265.6,104.9 265.7,107.5 265.8,106.4 265.9,102.7 266.0,103.1 266.1,103.8 266.2,104.2 266.3,114.5 266.4,111.1 266.5,115.1 266.6,106.2 266.7,108.1 266.8,104.6 266.9,106.3 267.1,106.6 267.2,103.2 267.3,102.5 267.4,108.3 267.5,107.5 267.6,111.1 267.7,110.4 267.8,112.5 267.9,103.5 268.0,107.5 268.1,101.7 268.2,109.3 268.3,106.5 268.4,107.8 268.5,103.8 268.6,107.8 268.8,103.1 268.9,104.3 269.0,103.9 269.1,106.8 269.2,107.0 269.3,108.5 269.4,108.1 269.5,109.2 269.6,104.6 269.7,109.7 269.8,102.1 269.9,106.0 270.0,98.8 270.1,107.7 270.2,108.3 270.4,109.9 270.5,110.8 270.6,110.2 270.7,107.0 270.8,107.6 270.9,105.2 271.0,108.1 271.1,105.9 271.2,113.0 271.3,108.5 271.4,110.3 271.5,106.6 271.6,111.3 271.7,105.0 271.8,110.6 271.9,103.2 272.1,103.5 272.2,103.1 272.3,108.7 272.4,101.8 272.5,104.5 272.6,101.8 272.7,106.6 272.8,103.7 272.9,102.7 273.0,104.7 273.1,107.7 273.2,103.5 273.3,108.2 273.4,104.0 273.5,109.5 273.7,99.5 273.8,106.9 273.9,108.4 274.0,110.8 274.1,106.0 274.2,106.5 274.3,103.4 274.4,106.0 274.5,102.6 274.6,107.2 274.7,101.2 274.8,106.8 274.9,102.1 275.0,107.3 275.1,105.5 275.2,103.7 275.4,99.5 275.5,101.0 275.6,100.0 275.7,106.0 275.8,100.6 275.9,104.4 276.0,99.0 276.1,104.1 276.2,100.4 276.3,105.6 276.4,101.5 276.5,105.1 276.6,101.3 276.7,101.3 276.8,98.4 276.9,102.5 277.1,99.2 277.2,104.6 277.3,98.8 277.4,105.4 277.5,99.9 277.6,103.8 277.7,100.2 277.8,102.5 277.9,98.1 278.0,98.2 278.1,95.5 278.2,103.1 278.3,102.5 278.4,103.8 278.5,101.5 278.7,104.1 278.8,104.2 278.9,104.4 279.0,100.9 279.1,99.9 279.2,97.2 279.3,98.6 279.4,99.1 279.5,101.9 279.6,100.4 279.7,103.6 279.8,105.1 279.9,104.8 280.0,101.4 280.1,96.1 280.2,99.9 280.4,102.7 280.5,98.7 280.6,105.4 280.7,99.1 280.8,103.3 280.9,102.2 281.0,108.2 281.1,106.5 281.2,109.0 281.3,99.7 281.4,107.8 281.5,100.4 281.6,102.4 281.7,98.8 281.8,103.3 282.0,103.0 282.1,107.0 282.2,103.8 282.3,108.7 282.4,106.0 282.5,111.8 282.6,105.7 282.7,106.1 282.8,102.9 282.9,103.7 283.0,101.1 283.1,105.2 283.2,103.2 283.3,105.1 283.4,103.2 283.5,107.5 283.7,105.2 283.8,111.6 283.9,101.4 284.0,106.0 284.1,102.5 284.2,102.3 284.3,101.4 284.4,101.3 284.5,104.3 284.6,106.5 284.7,103.6 284.8,106.7 284.9,101.2 285.0,103.1 285.1,101.8 285.2,105.6 285.4,104.2 285.5,108.6 285.6,104.2 285.7,104.0 285.8,99.3 285.9,98.2 286.0,96.5 286.1,102.8 286.2,103.0 286.3,104.4 286.4,105.8 286.5,105.7 286.6,103.7 286.7,100.3 286.8,101.0 287.0,112.1 287.1,109.4 287.2,110.7 287.3,103.9 287.4,107.4 287.5,103.6 287.6,107.3 287.7,108.0 287.8,108.1 287.9,102.0 288.0,107.6 288.1,105.5 288.2,110.0 288.3,101.8 288.4,104.9 288.5,100.8 288.7,106.0 288.8,104.2 288.9,105.5 289.0,105.1 289.1,108.0 289.2,101.6 289.3,106.7 289.4,102.0"/>
<polyline fill="none" stroke="#f00000" stroke-width="0.8" stroke-opacity="1.0" stroke-linejoin="bevel" points="55.4,183.8 55.5,180.0 55.6,181.6 55.7,181.1 55.8,182.3 55.9,178.8 56.0,180.6 56.1,177.2 56.3,177.5 56.4,172.3 56.5,177.3 56.6,175.8 56.7,180.3 56.8,178.7 56.9,180.3 57.0,169.9 57.1,178.8 57.2,172.7 57.3,179.9 57.4,176.3 57.5,178.5 57.6,174.2 57.7,178.3 57.8,171.7 58.0,176.3 58.1,173.7 58.2,174.7 58.3,175.3 58.4,175.4 58.5,173.1 58.6,176.2 58.7,171.0 58.8,173.7 58.9,167.6 59.0,172.1 59.1,167.5 59.2,170.8 59.3,170.7 59.4,171.0 59.6,171.4 59.7,172.5 59.8,166.2 59.9,167.8 60.0,167.4 60.1,171.5 60.2,170.2 60.3,171.8 60.4,171.3 60.5,173.1 60.6,171.6 60.7,172.8 60.8,165.7 60.9,167.2 61.0,163.6 61.1,162.2 61.3,167.9 61.4,172.2 61.5,170.2 61.6,168.9 61.7,167.8 61.8,167.4 61.9,164.2 62.0,167.5 62.1,163.6 62.2,167.8 62.3,166.7 62.4,169.2 62.5,166.6 62.6,168.0 62.7,167.2 62.8,172.3 63.0,165.6 63.1,169.5 63.2,166.9 63.3,169.5 63.4,166.2 63.5,166.1 63.6,160.1 63.7,164.8 63.8,165.5 63.9,169.7 64.0,169.3 64.1,173.9 64.2,167.7 64.3,169.5 64.4,164.8 64.6,170.6 64.7,165.1 64.8,171.3 64.9,164.0 65.0,167.1 65.1,165.7 65.2,165.7 65.3,163.1 65.4,168.5 65.5,165.6 65.6,169.9 65.7,166.7 65.8,170.6 65.9,166.7 66.0,168.3 66.1,170.3 66.3,171.8 66.4,169.8 66.5,168.0 66.6,165.7 66.7,167.3 66.8,169.9 66.9,174.3 67.0,168.5 67.1,169.4 67.2,167.1 67.3,170.3 67.4,171.3 67.5,171.0 67.6,164.9 67.7,169.0 67.9,170.3 68.0,171.9 68.1,168.3 68.2,169.5 68.3,164.0 68.4,164.3 68.5,160.3 68.6,163.7 68.7,161.7 68.8,163.8 68.9,163.0 69.0,168.1 69.1,164.8 69.2,168.1 69.3,160.7 69.4,161.5 69.6,161.8 69.7,169.1 69.8,160.8 69.9,161.0 70.0,162.3 70.1,164.3 70.2,161.7 70.3,162.8 70.4,164.7 70.5,162.8 70.6,161.3 70.7,158.1 70.8,157.7 70.9,167.5 71.0,159.2 71.1,161.4 71.3,158.6 71.4,163.1 71.5,157.3 71.6,160.8 71.7,155.0 71.8,158.6 71.9,159.4 72.0,162.5 72.1,160.6 72.2,163.7 72.3,157.3 72.4,161.1 72.5,155.9 72.6,157.8 72.7,156.6 72.9,158.5 73.0,154.6 73.1,154.0 73.2,151.7 73.3,152.7 73.4,151.3 73.5,156.6 73.6,153.4 73.7,154.7 73.8,151.4 73.9,157.4 74.0,150.0 74.1,151.9 74.2,147.8 74.3,152.9 74.4,149.4 74.6,151.5 74.7,148.1 74.8,150.3 74.9,147.0 75.0,151.1 75.1,149.2 75.2,148.9 75.3,144.7 75.4,150.6 75.5,149.8 75.6,151.3 75.7,149.8 75.8,152.3 75.9,145.0 76.0,148.4 76.2,145.8 76.3,148.7 76.4,148.9 76.5,150.5 76.6,148.1 76.7,149.3 76.8,145.1 76.9,149.8 77.0,149.9 77.1,152.9 77.2,150.2 77.3,150.3 77.4,145.4 77.5,149.4 77.6,145.0 77.7,150.9 77.9,151.3 78.0,151.7 78.1,145.6 78.2,150.2 78.3,145.4 78.4,146.9 78.5,143.3 78.6,148.2 78.7,145.7 78.8,152.0 78.9,147.2 79.0,151.1 79.1,145.2 79.2,144.8 79.3,143.0 79.4,145.7 79.6,144.6 79.7,145.1 79.8,143.5 79.9,147.1 80.0,144.8 80.1,145.7 80.2,144.2 80.3,147.8 80.4,148.0 80.5,150.7 80.6,149.7 80.7,149.5 80.8,144.3 80.9,147.0 81.0,143.5 81.2,146.1 81.3,145.5 81.4,150.6 81.5,146.7 81.6,149.2 81.7,147.1 81.8,150.9 81.9,145.3 82.0,149.6 82.1,146.4 82.2,150.3 82.3,148.8 82.4,150.9 82.5,145.7 82.6,148.3 82.7,146.8 82.9,151.6 83.0,149.9 83.1,149.9 83.2,146.9 83.3,150.1 83.4,146.8 83.5,151.1 83.6,149.3 83.7,151.1 83.8,148.6 83.9,150.6 84.0,150.8 84.1,152.9 84.2,147.9 84.3,153.7 84.5,147.4 84.6,157.9 84.7,150.9 84.8,155.8 84.9,152.5 85.0,153.7 85.1,148.4 85.2,150.3 85.3,148.5 85.4,149.0 85.5,147.9 85.6,148.3 85.7,141.1 85.8,150.5 85.9,148.8 86.0,152.7 86.2,149.5 86.3,151.7 86.4,147.4 86.5,151.6 86.6,148.9 86.7,155.2 86.8,144.8 86.9,150.8 87.0,150.0 87.1,149.1 87.2,146.1 87.3,150.6 87.4,148.4 87.5,155.4 87.6,151.7 87.7,154.5 87.9,151.7 88.0,151.5 88.1,149.9 88.2,157.4 88.3,150.6 88.4,154.3 88.5,144.3 88.6,152.6 88.7,145.6 88.8,149.2 88.9,152.9 89.0,150.7 89.1,148.8 89.2,152.7 89.3,150.7 89.5,148.1 89.6,148.7 89.7,149.3 89.8,153.4 89.9,153.6 90.0,155.2 90.1,152.5 90.2,146.9 90.3,145.7 90.4,142.0 90.5,146.9 90.6,145.0 90.7,146.1 90.8,148.9 90.9,154.0 91.0,150.3 91.2,151.3 91.3,145.7 91.4,150.6 91.5,146.8 91.6,149.8 91.7,147.4 91.8,148.9 91.9,147.4 92.0,148.0 92.1,148.9 92.2,146.5 92.3,139.8 92.4,143.2 92.5,142.1 92.6,146.8 92.8,139.6 92.9,143.7 93.0,143.4 93.1,141.4 93.2,138.1 93.3,139.2 93.4,138.2 93.5,137.3 93.6,134.4 93.7,141.4 93.8,136.5 93.9,139.8 94.0,134.4 94.1,138.1 94.2,134.5 94.3,139.8 94.5,132.0 94.6,142.8 94.7,138.7 94.8,137.0 94.9,131.8 95.0,139.7 95.1,134.2 95.2,138.0 95.3,134.1 95.4,137.3 95.5,131.0 95.6,132.9 95.7,132.8 95.8,137.4 95.9,131.0 96.0,132.1 96.2,135.8 96.3,137.2 96.4,136.8 96.5,139.4 96.6,133.0 96.7,136.9 96.8,130.8 96.9,138.4 97.0,136.2 97.1,133.9 97.2,128.6 97.3,132.3 97.4,125.2 97.5,129.1 97.6,125.6 97.8,133.8 97.9,129.2 98.0,137.4 98.1,131.4 98.2,133.7 98.3,126.4 98.4,134.2 98.5,137.1 98.6,136.4 98.7,125.9 98.8,133.2 98.9,129.9 99.0,137.7 99.1,132.9 99.2,134.9 99.3,131.6 99.5,134.1 99.6,131.1 99.7,132.6 99.8,132.0 99.9,134.9 100.0,133.8 100.1,139.6 100.2,134.3 100.3,132.0 100.4,132.0 100.5,132.8 100.6,134.0 100.7,131.6 100.8,131.3 100.9,131.5 101.1,129.9 101.2,132.9 101.3,132.2 101.4,131.4 101.5,132.3 101.6,132.9 101.7,132.0 101.8,134.9 101.9,132.4 102.0,132.3 102.1,133.3 102.2,135.2 102.3,130.3 102.4,128.1 102.5,126.5 102.6,134.0 102.8,126.9 102.9,129.8 103.0,129.2 103.1,131.6 103.2,129.2 103.3,131.0 103.4,131.9 103.5,133.6 103.6,130.7 103.7,132.8 103.8,125.0 103.9,131.2 104.0,127.1 104.1,134.4 104.2,132.9 104.3,133.6 104.5,132.1 104.6,133.0 104.7,132.9 104.8,136.9 104.9,133.1 105.0,140.5 105.1,131.4 105.2,134.8 105.3,132.0 105.4,136.5 105.5,135.9 105.6,140.7 105.7,137.7 105.8,139.1 105.9,132.8 106.1,140.5 106.2,129.8 106.3,136.3 106.4,132.8 106.5,140.0 106.6,136.8 106.7,136.6 106.8,131.6 106.9,132.9 107.0,134.0 107.1,138.4 107.2,134.8 107.3,137.1 107.4,128.1 107.5,135.6 107.6,129.1 107.8,135.7 107.9,132.6 108.0,134.6 108.1,133.2 108.2,135.0 108.3,136.9 108.4,137.8 108.5,132.8 108.6,136.1 108.7,131.6 108.8,137.0 108.9,133.2 109.0,138.5 109.1,134.9 109.2,140.9 109.4,135.2 109.5,137.2 109.6,135.8 109.7,136.5 109.8,135.4 109.9,136.2 110.0,136.3 110.1,136.3 110.2,134.1 110.3,133.1 110.4,130.6 110.5,134.3 110.6,136.8 110.7,140.2 110.8,137.5 110.9,138.7 111.1,134.2 111.2,137.5 111.3,134.5 111.4,142.0 111.5,138.1 111.6,137.8 111.7,134.6 111.8,135.5 111.9,135.3 112.0,137.3 112.1,134.6 112.2,137.5 112.3,140.6 112.4,151.8 112.5,137.7 112.6,142.0 112.8,139.9 112.9,142.1 113.0,138.9 113.1,142.5 113.2,133.6 113.3,132.8 113.4,131.3 113.5,136.1 113.6,133.6 113.7,135.6 113.8,130.7 113.9,135.3 114.0,134.8 114.1,141.4 114.2,138.0 114.4,140.5 114.5,134.3 114.6,138.4 114.7,132.8 114.8,136.2 114.9,135.1 115.0,139.4 115.1,133.7 115.2,135.7 115.3,133.2 115.4,138.2 115.5,139.0 115.6,140.2 115.7,134.7 115.8,141.4 115.9,135.1 116.1,140.5 116.2,134.5 116.3,135.7 116.4,130.8 116.5,135.5 116.6,133.7 116.7,138.0 116.8,132.7 116.9,124.9 117.0,131.1 117.1,133.7 117.2,131.8 117.3,131.7 117.4,129.1 117.5,135.6 117.7,134.3 117.8,133.4 117.9,133.4 118.0,132.6 118.1,126.9 118.2,130.2 118.3,126.8 118.4,130.6 118.5,127.5 118.6,130.6 118.7,127.9 118.8,131.9 118.9,123.7 119.0,125.7 119.1,120.4 119.2,126.7 119.4,127.5 119.5,130.2 119.6,127.3 119.7,125.5 119.8,124.6 119.9,127.3 120.0,126.8 120.1,126.2 120.2,102.0 120.3,123.4 120.4,113.4 120.5,125.7 120.6,122.9 120.7,123.6 120.8,125.9 120.9,131.4 121.1,130.2 121.2,134.6 121.3,136.0 121.4,129.7 121.5,132.1 121.6,128.1 121.7,127.3 121.8,131.1 121.9,128.1 122.0,126.7 122.1,126.0 122.2,128.6 122.3,129.5 122.4,130.9 122.5,128.6 122.7,131.9 122.8,127.7 122.9,129.0 123.0,125.0 123.1,128.4 123.2,126.3 123.3,127.4 123.4,124.1 123.5,127.7 123.6,125.5 123.7,129.0 123.8,128.4 123.9,129.7 124.0,122.4 124.1,127.0 124.2,126.7 124.4,132.0 124.5,130.9 124.6,131.1 124.7,128.2 124.8,126.5 124.9,122.7 125.0,125.9 125.1,125.6 125.2,125.4 125.3,121.2 125.4,122.7 125.5,121.1 125.6,123.7 125.7,118.9 125.8,121.4 126.0,117.1 126.1,120.2 126.2,118.6 126.3,122.1 126.4,119.8 126.5,121.5 126.6,114.7 126.7,117.9 126.8,118.2 126.9,120.2 127.0,112.9 127.1,117.9 127.2,110.0 127.3,121.2 127.4,114.8 127.5,118.7 127.7,120.5 127.8,122.8 127.9,120.3 128.0,126.4 128.1,120.1 128.2,122.7 128.3,121.0 128.4,124.6 128.5,123.6 128.6,126.3 128.7,127.9 128.8,130.5 128.9,127.8 129.0,131.4 129.1,128.0 129.2,133.8 129.4,133.2 129.5,132.3 129.6,127.5 129.7,129.6 129.8,130.0 129.9,134.1 130.0,130.4 130.1,138.1 130.2,134.3 130.3,137.7 130.4,130.9 130.5,134.4 130.6,131.7 130.7,136.0 130.8,132.6 131.0,135.6 131.1,127.1 131.2,134.7 131.3,126.4 131.4,128.1 131.5,126.7 131.6,128.8 131.7,125.5 131.8,128.1 131.9,125.6 132.0,128.6 132.1,118.6 132.2,129.4 132.3,127.4 132.4,129.5 132.5,125.1 132.7,126.9 132.8,125.4 132.9,125.5 133.0,119.1 133.1,123.7 133.2,123.3 133.3,126.1 133.4,124.1 133.5,126.5 133.6,123.0 133.7,125.3 133.8,116.7 133.9,127.7 134.0,122.1 134.1,127.1 134.3,124.0 134.4,127.4 134.5,125.2 134.6,126.6 134.7,125.4 134.8,130.4 134.9,128.9 135.0,131.5 135.1,129.6 135.2,133.7 135.3,134.2 135.4,136.1 135.5,132.0 135.6,133.0 135.7,127.4 135.8,134.1 136.0,132.8 136.1,138.8 136.2,138.1 136.3,138.8 136.4,132.1 136.5,135.3 136.6,135.6 136.7,138.7 136.8,132.8 136.9,134.2 137.0,131.8 137.1,138.6 137.2,138.7 137.3,143.5 137.4,140.6 137.6,147.5 137.7,137.1 137.8,138.0 137.9,131.9 138.0,136.7 138.1,132.5 138.2,131.2 138.3,134.3 138.4,142.9 138.5,140.7 138.6,141.4 138.7,139.2 138.8,140.8 138.9,138.6 139.0,140.4 139.1,134.5 139.3,132.8 139.4,106.0 139.5,130.1 139.6,117.9 139.7,135.4 139.8,135.4 139.9,135.8 140.0,133.0 140.1,137.4 140.2,136.3 140.3,141.5 140.4,136.7 140.5,136.3 140.6,132.5 140.7,134.1 140.8,132.9 141.0,135.3 141.1,132.2 141.2,137.2 141.3,133.0 141.4,138.6 141.5,139.3 141.6,141.0 141.7,137.3 141.8,136.8 141.9,136.8 142.0,137.8 142.1,131.6 142.2,135.4 142.3,132.1 142.4,136.4 142.6,132.8 142.7,135.0 142.8,134.8 142.9,136.2 143.0,135.0 143.1,138.5 143.2,135.9 143.3,137.4 143.4,136.3 143.5,139.7 143.6,136.8 143.7,138.5 143.8,133.8 143.9,145.0 144.0,136.8 144.1,139.0 144.3,137.6 144.4,140.2 144.5,139.1 144.6,139.7 144.7,133.0 144.8,134.4 144.9,132.8 145.0,134.9 145.1,131.2 145.2,134.5 145.3,129.7 145.4,132.3 145.5,131.8 145.6,134.6 145.7,129.4 145.9,134.9 146.0,130.5 146.1,132.0 146.2,131.7 146.3,133.6 146.4,130.8 146.5,132.3 146.6,133.7 146.7,136.1 146.8,136.8 146.9,129.9 147.0,125.7 147.1,134.1 147.2,130.2 147.3,131.6 147.4,126.6 147.6,128.7 147.7,127.4 147.8,131.2 147.9,131.2 148.0,137.4 148.1,129.5 148.2,134.0 148.3,128.0 148.4,129.2 148.5,125.7 148.6,129.4 148.7,127.5 148.8,136.9 148.9,130.8 149.0,143.5 149.1,128.5 149.3,129.8 149.4,127.5 149.5,130.4 149.6,125.9 149.7,131.7 149.8,129.7 149.9,133.1 150.0,130.4 150.1,132.0 150.2,132.8 150.3,134.8 150.4,134.0 150.5,134.5 150.6,133.8 150.7,132.3 150.9,127.6 151.0,129.0 151.1,127.0 151.2,134.3 151.3,132.3 151.4,124.4 151.5,129.9 151.6,131.1 151.7,129.6 151.8,134.4 151.9,128.3 152.0,131.1 152.1,133.1 152.2,135.9 152.3,133.9 152.4,131.6 152.6,129.6 152.7,131.4 152.8,128.5 152.9,133.4 153.0,128.6 153.1,130.4 153.2,129.1 153.3,127.3 153.4,123.8 153.5,129.2 153.6,128.9 153.7,131.2 153.8,126.1 153.9,123.8 154.0,115.5 154.2,128.6 154.3,129.8 154.4,130.6 154.5,124.6 154.6,126.5 154.7,122.4 154.8,124.7 154.9,123.4 155.0,136.6 155.1,126.0 155.2,131.8 155.3,124.9 155.4,131.4 155.5,126.2 155.6,131.9 155.7,131.9 155.9,136.4 156.0,129.5 156.1,130.7 156.2,126.7 156.3,133.3 156.4,132.0 156.5,135.1 156.6,133.3 156.7,134.7 156.8,131.9 156.9,133.5 157.0,129.7 157.1,132.1 157.2,109.0 157.3,132.5 157.4,118.5 157.6,131.9 157.7,128.2 157.8,135.8 157.9,142.6 158.0,138.7 158.1,131.7 158.2,134.8 158.3,130.6 158.4,135.8 158.5,135.7 158.6,137.4 158.7,135.9 158.8,137.4 158.9,130.5 159.0,133.8 159.2,131.0 159.3,131.6 159.4,132.8 159.5,134.1 159.6,135.0 159.7,137.3 159.8,133.2 159.9,135.4 160.0,135.4 160.1,137.5 160.2,132.2 160.3,135.3 160.4,132.5 160.5,137.6 160.6,131.6 160.7,134.3 160.9,129.8 161.0,134.0 161.1,133.2 161.2,137.1 161.3,135.0 161.4,135.7 161.5,134.6 161.6,137.0 161.7,134.5 161.8,134.8 161.9,128.2 162.0,131.7 162.1,133.0 162.2,136.4 162.3,134.5 162.5,134.1 162.6,131.5 162.7,135.7 162.8,129.6 162.9,132.5 163.0,134.8 163.1,133.0 163.2,129.2 163.3,132.6 163.4,126.5 163.5,131.4 163.6,128.5 163.7,132.6 163.8,130.2 163.9,138.2 164.0,135.5 164.2,137.8 164.3,133.2 164.4,134.7 164.5,129.7 164.6,133.0 164.7,129.1 164.8,129.0 164.9,127.2 165.0,133.8 165.1,131.6 165.2,134.1 165.3,133.4 165.4,138.8 165.5,136.0 165.6,137.6 165.7,134.9 165.9,136.3 166.0,134.5 166.1,138.3 166.2,132.3 166.3,138.5 166.4,133.9 166.5,137.9 166.6,136.4 166.7,136.6 166.8,133.1 166.9,136.9 167.0,137.2 167.1,143.8 167.2,141.0 167.3,140.1 167.5,136.0 167.6,139.3 167.7,136.5 167.8,140.8 167.9,136.1 168.0,138.7 168.1,133.6 168.2,131.1 168.3,138.2 168.4,138.8 168.5,136.9 168.6,139.0 168.7,134.9 168.8,140.8 168.9,138.5 169.0,140.1 169.2,138.7 169.3,140.7 169.4,143.5 169.5,144.1 169.6,142.1 169.7,140.4 169.8,136.1 169.9,138.7 170.0,138.0 170.1,138.8 170.2,137.3 170.3,137.0 170.4,135.2 170.5,138.3 170.6,137.9 170.8,137.9 170.9,137.2 171.0,140.8 171.1,138.0 171.2,139.5 171.3,135.2 171.4,139.5 171.5,135.0 171.6,138.1 171.7,136.7 171.8,139.4 171.9,137.5 172.0,140.4 172.1,137.4 172.2,143.2 172.3,137.8 172.5,139.8 172.6,131.5 172.7,138.1 172.8,133.7 172.9,134.4 173.0,131.9 173.1,137.7 173.2,133.7 173.3,135.6 173.4,132.2 173.5,137.9 173.6,138.4 173.7,140.2 173.8,133.1 173.9,137.1 174.0,136.1 174.2,138.7 174.3,134.2 174.4,136.5 174.5,130.1 174.6,135.5 174.7,134.6 174.8,141.1 174.9,137.9 175.0,136.4 175.1,133.0 175.2,131.8 175.3,128.0 175.4,132.4 175.5,134.3 175.6,138.8 175.8,138.1 175.9,139.2 176.0,134.8 176.1,132.2 176.2,132.0 176.3,135.2 176.4,136.1 176.5,134.8 176.6,133.8 176.7,132.7 176.8,133.5 176.9,137.7 177.0,137.5 177.1,139.2 177.2,134.4 177.3,136.4 177.5,129.9 177.6,134.4 177.7,132.2 177.8,133.3 177.9,131.7 178.0,132.7 178.1,133.6 178.2,134.1 178.3,133.7 178.4,134.2 178.5,131.4 178.6,132.3 178.7,127.0 178.8,139.1 178.9,133.0 179.1,136.2 179.2,127.6 179.3,133.3 179.4,130.0 179.5,130.6 179.6,129.8 179.7,131.0 179.8,129.1 179.9,133.9 180.0,128.5 180.1,137.0 180.2,129.8 180.3,132.6 180.4,127.3 180.5,128.7 180.6,127.5 180.8,133.8 180.9,125.8 181.0,120.4 181.1,118.7 181.2,121.9 181.3,123.7 181.4,125.5 181.5,123.6 181.6,131.4 181.7,126.3 181.8,130.7 181.9,126.4 182.0,133.5 182.1,130.9 182.2,131.4 182.3,129.8 182.5,130.9 182.6,128.0 182.7,129.1 182.8,126.3 182.9,129.4 183.0,125.6 183.1,128.9 183.2,125.8 183.3,128.3 183.4,125.2 183.5,126.7 183.6,126.3 183.7,132.0 183.8,132.5 183.9,132.4 184.1,129.8 184.2,128.3 184.3,125.7 184.4,129.1 184.5,129.5 184.6,131.5 184.7,136.0 184.8,127.4 184.9,124.3 185.0,128.1 185.1,122.8 185.2,126.7 185.3,122.8 185.4,130.0 185.5,120.8 185.6,123.3 185.8,122.9 185.9,122.8 186.0,123.7 186.1,124.7 186.2,124.0 186.3,127.3 186.4,126.8 186.5,136.2 186.6,124.2 186.7,126.4 186.8,118.4 186.9,122.7 187.0,117.6 187.1,120.4 187.2,118.1 187.4,123.6 187.5,118.9 187.6,122.0 187.7,114.2 187.8,123.7 187.9,123.5 188.0,128.8 188.1,123.7 188.2,124.9 188.3,124.1 188.4,126.9 188.5,123.9 188.6,123.6 188.7,124.0 188.8,125.6 188.9,126.9 189.1,127.7 189.2,128.5 189.3,129.5 189.4,127.3 189.5,127.7 189.6,127.7 189.7,139.1 189.8,124.4 189.9,127.2 190.0,123.2 190.1,125.1 190.2,125.1 190.3,128.6 190.4,124.4 190.5,126.9 190.6,127.1 190.8,129.9 190.9,126.8 191.0,129.5 191.1,126.6 191.2,128.7 191.3,125.8 191.4,125.5 191.5,127.5 191.6,136.0 191.7,128.4 191.8,132.8 191.9,132.0 192.0,136.0 192.1,134.0 192.2,137.8 192.4,128.7 192.5,128.9 192.6,125.4 192.7,128.1 192.8,126.7 192.9,128.1 193.0,129.2 193.1,131.6 193.2,126.8 193.3,126.8 193.4,122.9 193.5,127.5 193.6,126.4 193.7,133.6 193.8,127.9 193.9,127.0 194.1,120.7 194.2,122.0 194.3,119.5 194.4,123.7 194.5,122.8 194.6,125.2 194.7,124.9 194.8,127.0 194.9,121.4 195.0,124.6 195.1,121.5 195.2,125.0 195.3,121.1 195.4,126.2 195.5,119.3 195.7,118.8 195.8,115.7 195.9,121.9 196.0,117.8 196.1,120.8 196.2,122.4 196.3,126.7 196.4,120.6 196.5,120.4 196.6,116.0 196.7,114.5 196.8,114.9 196.9,118.5 197.0,112.5 197.1,114.8 197.2,110.3 197.4,115.4 197.5,108.7 197.6,114.9 197.7,113.2 197.8,113.9 197.9,110.2 198.0,115.6 198.1,110.7 198.2,118.5 198.3,113.0 198.4,112.5 198.5,109.8 198.6,109.2 198.7,106.5 198.8,113.5 198.9,110.0 199.1,114.4 199.2,113.3 199.3,114.1 199.4,116.0 199.5,118.4 199.6,119.5 199.7,119.2 199.8,112.0 199.9,114.5 200.0,115.6 200.1,119.6 200.2,116.6 200.3,116.9 200.4,111.5 200.5,122.7 200.7,118.1 200.8,114.8 200.9,116.6 201.0,119.9 201.1,115.9 201.2,116.1 201.3,115.2 201.4,115.3 201.5,116.5 201.6,116.3 201.7,114.8 201.8,116.5 201.9,116.6 202.0,121.1 202.1,117.4 202.2,118.1 202.4,115.9 202.5,119.3 202.6,116.9 202.7,117.2 202.8,115.3 202.9,120.6 203.0,119.3 203.1,120.2 203.2,118.1 203.3,120.9 203.4,120.0 203.5,121.7 203.6,117.1 203.7,118.6 203.8,113.1 204.0,118.1 204.1,115.5 204.2,120.2 204.3,121.8 204.4,119.0 204.5,115.6 204.6,115.8 204.7,115.2 204.8,120.4 204.9,119.7 205.0,120.0 205.1,117.7 205.2,117.4 205.3,112.6 205.4,120.8 205.5,114.9 205.7,114.1 205.8,113.5 205.9,121.4 206.0,117.7 206.1,118.3 206.2,116.2 206.3,119.7 206.4,114.5 206.5,114.5 206.6,112.9 206.7,117.4 206.8,114.8 206.9,120.4 207.0,114.5 207.1,118.5 207.2,117.2 207.4,122.8 207.5,116.3 207.6,116.3 207.7,113.2 207.8,117.1 207.9,109.5 208.0,115.5 208.1,113.2 208.2,115.3 208.3,113.0 208.4,115.5 208.5,116.8 208.6,111.9 208.7,110.4 208.8,114.5 209.0,112.4 209.1,117.1 209.2,113.9 209.3,118.7 209.4,113.5 209.5,115.4 209.6,112.1 209.7,112.5 209.8,112.4 209.9,113.7 210.0,117.0 210.1,112.5 210.2,107.7 210.3,116.9 210.4,111.7 210.5,113.9 210.7,113.4 210.8,121.1 210.9,114.9 211.0,120.7 211.1,115.0 211.2,115.8 211.3,112.8 211.4,116.4 211.5,115.9 211.6,119.6 211.7,116.3 211.8,115.9 211.9,113.9 212.0,116.2 212.1,115.8 212.3,114.4 212.4,113.3 212.5,115.1 212.6,112.1 212.7,114.4 212.8,113.3 212.9,117.9 213.0,112.4 213.1,116.6 213.2,113.3 213.3,121.3 213.4,118.1 213.5,119.6 213.6,112.8 213.7,114.0 213.8,113.2 214.0,114.5 214.1,111.8 214.2,112.7 214.3,111.0 214.4,117.7 214.5,114.1 214.6,126.5 214.7,111.9 214.8,112.2 214.9,112.2 215.0,114.7 215.1,114.7 215.2,115.5 215.3,110.5 215.4,110.8 215.6,112.7 215.7,119.0 215.8,106.2 215.9,113.0 216.0,113.5 216.1,116.1 216.2,110.6 216.3,110.8 216.4,105.6 216.5,107.2 216.6,105.5 216.7,107.5 216.8,106.4 216.9,113.8 217.0,112.8 217.1,114.4 217.3,111.8 217.4,113.0 217.5,109.2 217.6,115.3 217.7,112.9 217.8,118.9 217.9,109.8 218.0,109.9 218.1,105.3 218.2,113.0 218.3,106.5 218.4,109.6 218.5,105.5 218.6,111.8 218.7,108.9 218.8,108.3 219.0,103.6 219.1,108.5 219.2,105.6 219.3,110.1 219.4,106.6 219.5,114.7 219.6,104.5 219.7,106.9 219.8,104.2 219.9,107.4 220.0,105.5 220.1,108.4 220.2,104.8 220.3,103.8 220.4,100.9 220.6,103.7 220.7,103.3 220.8,104.1 220.9,102.7 221.0,100.6 221.1,99.8 221.2,100.0 221.3,95.0 221.4,94.2 221.5,95.9 221.6,98.5 221.7,99.6 221.8,99.9 221.9,96.2 222.0,97.2 222.1,94.0 222.3,95.9 222.4,103.8 222.5,97.4 222.6,98.6 222.7,100.4 222.8,95.1 222.9,98.1 223.0,96.4 223.1,97.9 223.2,97.3 223.3,98.8 223.4,95.4 223.5,104.5 223.6,94.4 223.7,101.4 223.9,96.7 224.0,100.4 224.1,96.4 224.2,96.3 224.3,95.5 224.4,99.4 224.5,95.3 224.6,99.6 224.7,98.4 224.8,99.6 224.9,96.1 225.0,100.0 225.1,97.1 225.2,104.1 225.3,97.7 225.4,100.4 225.6,97.9 225.7,100.0 225.8,95.8 225.9,98.0 226.0,96.5 226.1,101.5 226.2,98.8 226.3,97.7 226.4,95.7 226.5,96.1 226.6,95.4 226.7,101.8 226.8,95.1 226.9,98.8 227.0,96.4 227.1,100.0 227.3,86.8 227.4,98.9 227.5,95.2 227.6,102.3 227.7,98.6 227.8,101.5 227.9,99.9 228.0,100.5 228.1,100.5 228.2,101.3 228.3,101.0 228.4,103.2 228.5,97.6 228.6,102.2 228.7,98.4 228.9,98.4 229.0,95.8 229.1,100.6 229.2,99.5 229.3,99.9 229.4,95.0 229.5,99.6 229.6,99.8 229.7,102.7 229.8,100.1 229.9,99.7 230.0,99.9 230.1,99.7 230.2,93.8 230.3,99.9 230.4,94.2 230.6,95.5 230.7,92.2 230.8,96.4 230.9,94.8 231.0,98.7 231.1,95.6 231.2,96.5 231.3,94.7 231.4,94.9 231.5,94.3 231.6,97.9 231.7,95.8 231.8,97.1 231.9,91.2 232.0,99.0 232.2,95.5 232.3,96.7 232.4,94.5 232.5,99.8 232.6,99.7 232.7,99.2 232.8,94.9 232.9,98.6 233.0,96.7 233.1,99.9 233.2,97.7 233.3,108.5 233.4,94.0 233.5,94.4 233.6,94.6 233.7,99.5 233.9,96.2 234.0,99.9 234.1,97.2 234.2,101.3 234.3,100.9 234.4,101.4 234.5,100.6 234.6,97.5 234.7,93.2 234.8,97.8 234.9,100.1 235.0,102.8 235.1,99.6 235.2,99.2 235.3,96.1 235.4,106.8 235.6,99.7 235.7,100.6 235.8,99.2 235.9,101.6 236.0,104.1 236.1,104.2 236.2,105.2 236.3,104.5 236.4,101.6 236.5,100.1 236.6,98.2 236.7,98.1 236.8,94.5 236.9,103.0 237.0,104.1 237.2,113.4 237.3,109.6 237.4,105.5 237.5,106.1 237.6,107.9 237.7,108.1 237.8,109.1 237.9,105.8 238.0,109.5 238.1,105.4 238.2,109.6 238.3,105.7 238.4,114.1 238.5,107.9 238.6,107.1 238.7,106.5 238.9,111.4 239.0,112.5 239.1,115.3 239.2,109.8 239.3,109.0 239.4,107.3 239.5,108.8 239.6,107.4 239.7,109.5 239.8,107.1 239.9,108.3 240.0,102.4 240.1,108.0 240.2,103.7 240.3,106.5 240.5,95.4 240.6,109.3 240.7,103.5 240.8,107.3 240.9,103.5 241.0,114.7 241.1,106.9 241.2,113.1 241.3,108.0 241.4,108.4 241.5,107.6 241.6,111.5 241.7,109.4 241.8,111.3 241.9,103.7 242.0,111.1 242.2,107.8 242.3,111.6 242.4,104.5 242.5,108.7 242.6,105.1 242.7,108.2 242.8,108.7 242.9,111.5 243.0,109.4 243.1,109.2 243.2,103.8 243.3,107.7 243.4,107.3 243.5,114.2 243.6,107.2 243.7,110.2 243.9,108.8 244.0,111.9 244.1,107.0 244.2,108.7 244.3,106.8 244.4,117.3 244.5,108.2 244.6,110.0 244.7,105.6 244.8,107.4 244.9,106.2 245.0,109.1 245.1,107.3 245.2,106.4 245.3,101.5 245.5,107.0 245.6,105.9 245.7,112.0 245.8,106.6 245.9,108.9 246.0,107.6 246.1,110.6 246.2,104.1 246.3,110.5 246.4,103.7 246.5,111.7 246.6,106.9 246.7,111.3 246.8,107.2 246.9,108.4 247.0,103.4 247.2,104.5 247.3,105.0 247.4,104.7 247.5,106.1 247.6,109.9 247.7,112.5 247.8,112.0 247.9,107.1 248.0,107.8 248.1,104.8 248.2,110.7 248.3,108.9 248.4,113.1 248.5,112.3 248.6,104.8 248.8,104.8 248.9,109.4 249.0,105.0 249.1,109.5 249.2,106.8 249.3,113.1 249.4,108.3 249.5,110.2 249.6,109.8 249.7,113.8 249.8,112.9 249.9,113.3 250.0,110.8 250.1,121.7 250.2,115.0 250.3,121.4 250.5,113.9 250.6,115.8 250.7,114.7 250.8,120.0 250.9,121.2 251.0,126.0 251.1,120.5 251.2,123.1 251.3,120.6 251.4,122.7 251.5,126.1 251.6,136.4 251.7,128.7 251.8,133.1 251.9,128.7 252.0,134.6 252.2,147.0 252.3,134.4 252.4,140.2 252.5,138.6 252.6,132.8 252.7,129.9 252.8,125.1 252.9,125.9 253.0,127.6 253.1,133.9 253.2,122.7 253.3,123.7 253.4,120.9 253.5,127.5 253.6,123.0 253.8,125.7 253.9,119.9 254.0,119.8 254.1,115.0 254.2,118.3 254.3,117.4 254.4,121.4 254.5,115.6 254.6,116.3 254.7,117.0 254.8,119.1 254.9,115.8 255.0,114.8 255.1,114.7 255.2,116.5 255.3,119.1 255.5,113.8 255.6,112.1 255.7,114.1 255.8,111.7 255.9,115.3 256.0,111.2 256.1,113.3 256.2,105.5 256.3,112.7 256.4,110.1 256.5,115.2 256.6,111.6 256.7,109.8 256.8,110.1 256.9,113.6 257.1,112.5 257.2,117.0 257.3,113.8 257.4,115.8 257.5,108.3 257.6,112.2 257.7,109.7 257.8,109.0 257.9,107.8 258.0,109.8 258.1,113.4 258.2,115.0 258.3,111.6 258.4,112.5 258.5,116.0 258.6,115.3 258.8,113.6 258.9,112.4 259.0,107.6 259.1,110.5 259.2,111.6 259.3,111.0 259.4,109.3 259.5,111.4 259.6,113.7 259.7,114.9 259.8,114.5 259.9,113.4 260.0,113.8 260.1,114.6 260.2,111.0 260.3,112.2 260.5,108.0 260.6,112.7 260.7,112.4 260.8,116.7 260.9,112.1 261.0,115.8 261.1,110.4 261.2,115.6 261.3,110.0 261.4,112.4 261.5,109.6 261.6,103.5 261.7,115.0 261.8,120.5 261.9,126.2 262.1,116.0 262.2,113.6 262.3,114.9 262.4,112.1 262.5,114.2 262.6,114.4 262.7,118.3 262.8,115.0 262.9,117.6 263.0,115.4 263.1,117.7 263.2,116.3 263.3,118.7 263.4,119.4 263.5,119.9 263.6,115.9 263.8,115.3 263.9,109.5 264.0,114.6 264.1,113.9 264.2,120.3 264.3,118.1 264.4,120.1 264.5,115.0 264.6,117.4 264.7,113.8 264.8,119.4 264.9,118.3 265.0,121.1 265.1,118.4 265.2,120.6 265.4,119.7 265.5,120.7 265.6,117.1 265.7,119.8 265.8,117.1 265.9,119.5 266.0,115.3 266.1,119.7 266.2,115.4 266.3,119.0 266.4,117.7 266.5,119.6 266.6,117.7 266.7,126.5 266.8,119.5 266.9,123.0 267.1,122.6 267.2,123.8 267.3,117.6 267.4,117.3 267.5,113.6 267.6,121.0 267.7,120.4 267.8,125.5 267.9,121.7 268.0,122.2 268.1,121.5 268.2,121.3 268.3,120.0 268.4,120.0 268.5,117.8 268.6,121.8 268.8,120.2 268.9,124.5 269.0,116.8 269.1,119.5 269.2,117.7 269.3,123.9 269.4,121.1 269.5,121.7 269.6,118.4 269.7,126.5 269.8,120.7 269.9,122.2 270.0,117.4 270.1,120.6 270.2,118.9 270.4,121.6 270.5,117.2 270.6,116.9 270.7,118.6 270.8,119.6 270.9,114.0 271.0,109.4 271.1,114.8 271.2,117.5 271.3,112.9 271.4,118.9 271.5,117.7 271.6,119.5 271.7,113.1 271.8,115.9 271.9,114.7 272.1,120.9 272.2,116.1 272.3,117.6 272.4,113.6 272.5,119.2 272.6,118.3 272.7,120.7 272.8,118.5 272.9,116.2 273.0,115.3 273.1,116.9 273.2,117.4 273.3,118.2 273.4,116.7 273.5,117.1 273.7,116.0 273.8,117.4 273.9,114.5 274.0,119.0 274.1,114.2 274.2,118.2 274.3,116.1 274.4,108.1 274.5,114.4 274.6,116.8 274.7,121.5 274.8,118.3 274.9,112.9 275.0,116.3 275.1,113.7 275.2,118.5 275.4,116.5 275.5,119.1 275.6,117.2 275.7,118.7 275.8,111.5 275.9,112.9 276.0,110.1 276.1,112.4 276.2,113.7 276.3,113.8 276.4,113.7 276.5,118.1 276.6,110.7 276.7,115.8 276.8,114.1 276.9,117.0 277.1,113.9 277.2,115.5 277.3,110.2 277.4,114.6 277.5,115.3 277.6,120.0 277.7,110.9 277.8,114.6 277.9,115.2 278.0,119.1 278.1,115.5 278.2,116.0 278.3,115.5 278.4,114.8 278.5,110.7 278.7,112.2 278.8,112.0 278.9,111.5 279.0,122.2 279.1,114.4 279.2,109.9 279.3,112.1 279.4,110.3 279.5,116.4 279.6,115.9 279.7,120.4 279.8,118.9 279.9,116.8 280.0,112.0 280.1,113.0 280.2,107.3 280.4,112.1 280.5,110.9 280.6,112.5 280.7,112.7 280.8,116.9 280.9,112.4 281.0,111.4 281.1,115.2 281.2,114.0 281.3,108.2 281.4,111.2 281.5,109.1 281.6,113.5 281.7,113.9 281.8,112.4 282.0,109.6 282.1,114.1 282.2,110.5 282.3,114.1 282.4,109.0 282.5,115.4 282.6,109.8 282.7,113.4 282.8,110.2 282.9,116.1 283.0,115.9 283.1,115.3 283.2,114.7 283.3,113.7 283.4,113.4 283.5,105.6 283.7,114.5 283.8,118.4 283.9,115.1 284.0,125.3 284.1,111.5 284.2,115.5 284.3,115.9 284.4,119.9 284.5,122.6 284.6,121.9 284.7,118.2 284.8,119.1 284.9,116.4 285.0,119.6 285.1,118.7 285.2,125.7 285.4,117.4 285.5,119.6 285.6,118.6 285.7,118.3 285.8,118.0 285.9,119.8 286.0,115.3 286.1,121.2 286.2,117.2 286.3,123.9 286.4,119.1 286.5,121.3 286.6,115.0 286.7,116.1 286.8,113.9 287.0,118.0 287.1,116.9 287.2,119.5 287.3,116.0 287.4,116.1 287.5,112.1 287.6,114.3 287.7,112.5 287.8,116.4 287.9,114.5 288.0,116.1 288.1,110.6 288.2,118.1 288.3,125.8 288.4,123.3 288.5,114.2 288.7,114.8 288.8,112.6 288.9,118.9 289.0,113.2 289.1,115.0 289.2,112.8 289.3,115.4 289.4,112.3"/>
<rect x="353.6" y="15.5" width="298.6" height="229.7" fill="none" stroke="#2c2c2c" stroke-width="1.15"/>
<line x1="388.0" y1="49.0" x2="620.6" y2="49.0" stroke="#aaa" stroke-width="0.8"/>
<line x1="388.0" y1="49.0" x2="388.0" y2="212.4" stroke="#eee" stroke-width="0.6"/>
<line x1="620.6" y1="49.0" x2="620.6" y2="212.4" stroke="#eee" stroke-width="0.6"/>
<rect x="386.6" y="47.6" width="2.8" height="2.8" fill="#000"/>
<rect x="619.2" y="47.6" width="2.8" height="2.8" fill="#000"/>
<rect x="386.6" y="211.0" width="2.8" height="2.8" fill="#000"/>
<rect x="619.2" y="211.0" width="2.8" height="2.8" fill="#000"/>
<text x="386.0" y="214.9" font-family="Liberation Serif" font-size="7" text-anchor="end" fill="#333" font-weight="normal">0</text>
<line x1="388.0" y1="191.975" x2="390.0" y2="191.975" stroke="#777" stroke-width="0.7"/>
<line x1="618.6" y1="191.975" x2="620.6" y2="191.975" stroke="#777" stroke-width="0.7"/>
<text x="386.0" y="174.05" font-family="Liberation Serif" font-size="7" text-anchor="end" fill="#333" font-weight="normal">0.5</text>
<line x1="388.0" y1="171.55" x2="392.0" y2="171.55" stroke="#666" stroke-width="0.7"/>
<line x1="616.6" y1="171.55" x2="620.6" y2="171.55" stroke="#888" stroke-width="0.7"/>
<line x1="388.0" y1="151.125" x2="390.0" y2="151.125" stroke="#777" stroke-width="0.7"/>
<line x1="618.6" y1="151.125" x2="620.6" y2="151.125" stroke="#777" stroke-width="0.7"/>
<text x="386.0" y="133.2" font-family="Liberation Serif" font-size="7" text-anchor="end" fill="#333" font-weight="normal">1</text>
<line x1="388.0" y1="130.7" x2="392.0" y2="130.7" stroke="#666" stroke-width="0.7"/>
<line x1="616.6" y1="130.7" x2="620.6" y2="130.7" stroke="#888" stroke-width="0.7"/>
<line x1="388.0" y1="110.27499999999999" x2="390.0" y2="110.27499999999999" stroke="#777" stroke-width="0.7"/>
<line x1="618.6" y1="110.27499999999999" x2="620.6" y2="110.27499999999999" stroke="#777" stroke-width="0.7"/>
<text x="386.0" y="92.35" font-family="Liberation Serif" font-size="7" text-anchor="end" fill="#333" font-weight="normal">1.5</text>
<line x1="388.0" y1="89.85" x2="392.0" y2="89.85" stroke="#666" stroke-width="0.7"/>
<line x1="616.6" y1="89.85" x2="620.6" y2="89.85" stroke="#888" stroke-width="0.7"/>
<line x1="388.0" y1="69.425" x2="390.0" y2="69.425" stroke="#777" stroke-width="0.7"/>
<line x1="618.6" y1="69.425" x2="620.6" y2="69.425" stroke="#777" stroke-width="0.7"/>
<text x="386.0" y="51.5" font-family="Liberation Serif" font-size="7" text-anchor="end" fill="#333" font-weight="normal">2</text>
<text x="388.0" y="219.5" font-family="Liberation Serif" font-size="7" text-anchor="middle" fill="#333" font-weight="normal">0</text>
<line x1="411.26" y1="212.4" x2="411.26" y2="210.4" stroke="#888" stroke-width="0.6"/>
<line x1="411.26" y1="49.0" x2="411.26" y2="51.0" stroke="#888" stroke-width="0.6"/>
<text x="434.52" y="219.5" font-family="Liberation Serif" font-size="7" text-anchor="middle" fill="#333" font-weight="normal">100</text>
<line x1="434.52" y1="212.4" x2="434.52" y2="209.4" stroke="#666" stroke-width="0.7"/>
<line x1="434.52" y1="49.0" x2="434.52" y2="52.0" stroke="#666" stroke-width="0.7"/>
<line x1="457.78" y1="212.4" x2="457.78" y2="210.4" stroke="#888" stroke-width="0.6"/>
<line x1="457.78" y1="49.0" x2="457.78" y2="51.0" stroke="#888" stroke-width="0.6"/>
<text x="481.04" y="219.5" font-family="Liberation Serif" font-size="7" text-anchor="middle" fill="#333" font-weight="normal">200</text>
<line x1="481.04" y1="212.4" x2="481.04" y2="209.4" stroke="#666" stroke-width="0.7"/>
<line x1="481.04" y1="49.0" x2="481.04" y2="52.0" stroke="#666" stroke-width="0.7"/>
<line x1="504.3" y1="212.4" x2="504.3" y2="210.4" stroke="#888" stroke-width="0.6"/>
<line x1="504.3" y1="49.0" x2="504.3" y2="51.0" stroke="#888" stroke-width="0.6"/>
<text x="527.56" y="219.5" font-family="Liberation Serif" font-size="7" text-anchor="middle" fill="#333" font-weight="normal">300</text>
<line x1="527.56" y1="212.4" x2="527.56" y2="209.4" stroke="#666" stroke-width="0.7"/>
<line x1="527.56" y1="49.0" x2="527.56" y2="52.0" stroke="#666" stroke-width="0.7"/>
<line x1="550.8199999999999" y1="212.4" x2="550.8199999999999" y2="210.4" stroke="#888" stroke-width="0.6"/>
<line x1="550.8199999999999" y1="49.0" x2="550.8199999999999" y2="51.0" stroke="#888" stroke-width="0.6"/>
<text x="574.08" y="219.5" font-family="Liberation Serif" font-size="7" text-anchor="middle" fill="#333" font-weight="normal">400</text>
<line x1="574.08" y1="212.4" x2="574.08" y2="209.4" stroke="#666" stroke-width="0.7"/>
<line x1="574.08" y1="49.0" x2="574.08" y2="52.0" stroke="#666" stroke-width="0.7"/>
<line x1="597.34" y1="212.4" x2="597.34" y2="210.4" stroke="#888" stroke-width="0.6"/>
<line x1="597.34" y1="49.0" x2="597.34" y2="51.0" stroke="#888" stroke-width="0.6"/>
<text x="620.6" y="219.5" font-family="Liberation Serif" font-size="7" text-anchor="middle" fill="#333" font-weight="normal">500</text>
<text x="510" y="230.6" font-family="Liberation Sans" font-size="8.8" text-anchor="middle" fill="#222" font-weight="normal" stroke="#222" stroke-width="0.22" textLength="65.2" lengthAdjust="spacingAndGlyphs">Residue Position</text>
<text x="377.2" y="129.5" font-family="Liberation Sans" font-size="9" text-anchor="middle" fill="#222" font-weight="normal" stroke="#222" stroke-width="0.22" textLength="43.2" lengthAdjust="spacingAndGlyphs" transform="rotate(-90 377.2 129.5)">RMSF (nm)</text>
<text x="497" y="265.2" font-family="Liberation Sans" font-size="9.6" text-anchor="middle" fill="#222" font-weight="normal" stroke="#222" stroke-width="0.22" textLength="12" lengthAdjust="spacingAndGlyphs">(b)</text>
<polyline fill="none" stroke="#3030c8" stroke-width="0.6" stroke-opacity="0.8" stroke-linejoin="bevel" points="393.6,186.8 393.8,190.7 394.1,195.0 394.3,199.6 394.6,203.3 394.8,204.1 395.1,205.2 395.3,206.0 395.6,207.1 395.8,207.0 396.1,207.4 396.3,207.1 396.6,207.7 396.9,208.0 397.1,208.3 397.4,208.2 397.6,208.2 397.9,208.3 398.1,208.3 398.4,208.4 398.6,208.6 398.9,208.7 399.1,208.6 399.4,208.6 399.6,208.9 399.9,208.8 400.1,208.6 400.4,208.7 400.6,208.6 400.9,208.1 401.1,207.8 401.4,207.9 401.6,208.0 401.9,207.7 402.1,207.6 402.4,207.5 402.6,207.3 402.9,207.2 403.1,207.4 403.4,207.5 403.6,207.3 403.9,206.8 404.1,207.1 404.4,207.2 404.6,207.6 404.9,207.6 405.1,207.3 405.4,207.0 405.6,206.7 405.9,206.3 406.2,206.2 406.4,205.8 406.7,206.0 406.9,206.0 407.2,206.5 407.4,206.6 407.7,206.8 407.9,207.0 408.2,207.1 408.4,207.4 408.7,206.9 408.9,207.2 409.2,206.9 409.4,206.8 409.7,206.6 409.9,206.2 410.2,206.1 410.4,205.5 410.7,205.5 410.9,205.0 411.2,204.7 411.4,203.5 411.7,202.1 411.9,200.4 412.2,198.4 412.4,199.9 412.7,201.0 412.9,202.3 413.2,203.1 413.4,204.5 413.7,204.6 413.9,203.9 414.2,202.7 414.4,201.8 414.7,201.0 415.0,200.3 415.2,201.9 415.5,202.6 415.7,203.4 416.0,203.9 416.2,205.5 416.5,206.5 416.7,206.1 417.0,204.7 417.2,203.8 417.5,203.5 417.7,203.1 418.0,202.5 418.2,201.7 418.5,202.8 418.7,203.7 419.0,204.6 419.2,205.5 419.5,206.6 419.7,207.6 420.0,207.8 420.2,207.5 420.5,207.3 420.7,207.6 421.0,207.6 421.2,207.5 421.5,206.8 421.7,207.1 422.0,207.4 422.2,208.2 422.5,208.0 422.7,207.3 423.0,207.2 423.2,207.4 423.5,207.6 423.8,207.4 424.0,207.2 424.3,207.2 424.5,206.8 424.8,206.3 425.0,206.0 425.3,205.7 425.5,206.1 425.8,206.1 426.0,206.9 426.3,207.2 426.5,207.1 426.8,206.9 427.0,206.5 427.3,206.6 427.5,206.3 427.8,205.4 428.0,204.4 428.3,203.8 428.5,203.3 428.8,202.7 429.0,201.5 429.3,199.6 429.5,197.6 429.8,195.5 430.0,195.3 430.3,196.5 430.5,198.2 430.8,199.5 431.0,200.6 431.3,201.0 431.5,200.5 431.8,200.3 432.0,200.3 432.3,199.6 432.5,198.9 432.8,198.4 433.1,198.9 433.3,199.7 433.6,200.4 433.8,201.3 434.1,201.4 434.3,201.9 434.6,202.2 434.8,201.4 435.1,201.0 435.3,200.3 435.6,199.6 435.8,198.4 436.1,198.6 436.3,198.9 436.6,199.4 436.8,199.8 437.1,200.5 437.3,201.3 437.6,201.3 437.8,201.2 438.1,201.2 438.3,200.8 438.6,200.6 438.8,200.2 439.1,200.4 439.3,200.4 439.6,201.1 439.8,201.3 440.1,202.0 440.3,202.3 440.6,202.5 440.8,203.0 441.1,203.4 441.3,203.7 441.6,203.4 441.9,203.2 442.1,203.3 442.4,203.7 442.6,204.1 442.9,203.5 443.1,203.9 443.4,203.6 443.6,203.9 443.9,204.0 444.1,204.1 444.4,204.1 444.6,203.8 444.9,203.8 445.1,203.9 445.4,204.1 445.6,204.2 445.9,204.5 446.1,204.4 446.4,204.5 446.6,204.1 446.9,204.1 447.1,204.0 447.4,203.8 447.6,203.1 447.9,202.5 448.1,202.4 448.4,202.4 448.6,202.1 448.9,201.2 449.1,200.5 449.4,200.1 449.6,199.2 449.9,198.7 450.1,197.5 450.4,197.5 450.6,198.4 450.9,199.3 451.2,199.6 451.4,199.8 451.7,200.4 451.9,200.7 452.2,201.3 452.4,201.8 452.7,202.1 452.9,202.1 453.2,201.9 453.4,202.0 453.7,202.1 453.9,202.4 454.2,202.8 454.4,203.1 454.7,203.0 454.9,202.8 455.2,202.6 455.4,202.3 455.7,202.4 455.9,202.5 456.2,202.7 456.4,202.5 456.7,202.5 456.9,202.9 457.2,203.0 457.4,202.8 457.7,202.6 457.9,203.0 458.2,203.5 458.4,203.5 458.7,203.4 458.9,203.8 459.2,203.9 459.4,204.4 459.7,204.3 460.0,204.7 460.2,204.7 460.5,204.5 460.7,204.2 461.0,204.1 461.2,204.1 461.5,204.1 461.7,204.2 462.0,204.3 462.2,204.0 462.5,203.4 462.7,203.8 463.0,204.4 463.2,204.9 463.5,205.5 463.7,205.8 464.0,206.4 464.2,206.8 464.5,207.2 464.7,207.6 465.0,207.9 465.2,207.9 465.5,207.7 465.7,207.7 466.0,208.1 466.2,208.4 466.5,208.4 466.7,208.7 467.0,208.7 467.2,209.2 467.5,208.8 467.7,208.9 468.0,209.0 468.2,209.3 468.5,209.3 468.8,209.0 469.0,209.2 469.3,209.0 469.5,208.3 469.8,208.4 470.0,208.4 470.3,209.3 470.5,209.0 470.8,209.5 471.0,209.7 471.3,209.6 471.5,209.3 471.8,208.7 472.0,208.9 472.3,208.8 472.5,208.5 472.8,208.5 473.0,208.7 473.3,209.4 473.5,209.2 473.8,208.8 474.0,208.7 474.3,208.9 474.5,209.0 474.8,208.4 475.0,207.9 475.3,208.6 475.5,209.2 475.8,209.6 476.0,208.8 476.3,208.8 476.5,208.2 476.8,208.1 477.0,207.8 477.3,208.2 477.5,208.4 477.8,208.5 478.1,208.2 478.3,208.1 478.6,208.2 478.8,208.2 479.1,208.2 479.3,208.2 479.6,208.6 479.8,208.7 480.1,208.8 480.3,209.2 480.6,208.9 480.8,208.6 481.1,208.0 481.3,207.7 481.6,207.5 481.8,207.1 482.1,207.6 482.3,207.5 482.6,207.2 482.8,206.0 483.1,205.3 483.3,204.8 483.6,205.6 483.8,206.6 484.1,207.0 484.3,206.9 484.6,206.4 484.8,206.7 485.1,206.8 485.3,207.6 485.6,207.6 485.8,207.8 486.1,207.4 486.3,207.4 486.6,207.3 486.9,207.4 487.1,207.5 487.4,207.3 487.6,207.2 487.9,207.3 488.1,207.6 488.4,207.4 488.6,207.3 488.9,206.9 489.1,207.2 489.4,207.3 489.6,207.7 489.9,207.8 490.1,207.6 490.4,207.3 490.6,207.5 490.9,207.7 491.1,207.8 491.4,207.1 491.6,207.5 491.9,207.3 492.1,207.7 492.4,207.1 492.6,207.2 492.9,207.0 493.1,206.7 493.4,206.5 493.6,206.4 493.9,206.6 494.1,206.8 494.4,206.8 494.6,206.8 494.9,206.8 495.1,206.9 495.4,207.0 495.7,206.7 495.9,206.7 496.2,206.8 496.4,206.7 496.7,206.6 496.9,206.2 497.2,206.4 497.4,206.7 497.7,207.1 497.9,207.4 498.2,207.2 498.4,207.1 498.7,207.4 498.9,207.7 499.2,208.1 499.4,207.7 499.7,208.0 499.9,208.0 500.2,207.9 500.4,207.6 500.7,207.7 500.9,207.5 501.2,207.0 501.4,206.9 501.7,206.6 501.9,207.2 502.2,206.9 502.4,207.3 502.7,207.4 502.9,207.0 503.2,206.8 503.4,206.6 503.7,206.9 503.9,207.3 504.2,207.2 504.4,206.7 504.7,206.5 505.0,206.3 505.2,206.2 505.5,205.3 505.7,204.6 506.0,204.5 506.2,204.6 506.5,204.6 506.7,204.5 507.0,204.9 507.2,205.2 507.5,205.2 507.7,205.5 508.0,206.2 508.2,206.5 508.5,206.9 508.7,206.8 509.0,207.1 509.2,206.1 509.5,205.9 509.7,205.5 510.0,206.0 510.2,206.7 510.5,206.5 510.7,206.0 511.0,205.6 511.2,205.5 511.5,205.9 511.7,206.4 512.0,206.6 512.2,206.7 512.5,206.6 512.7,207.1 513.0,207.5 513.2,208.1 513.5,208.3 513.8,208.4 514.0,208.3 514.3,208.0 514.5,208.3 514.8,208.4 515.0,208.6 515.3,208.7 515.5,208.1 515.8,208.3 516.0,207.8 516.3,208.0 516.5,207.7 516.8,208.0 517.0,207.8 517.3,207.6 517.5,207.4 517.8,207.4 518.0,207.9 518.3,207.6 518.5,207.1 518.8,206.6 519.0,206.5 519.3,206.7 519.5,206.5 519.8,206.5 520.0,205.9 520.3,205.4 520.5,205.1 520.8,205.1 521.0,205.2 521.3,205.2 521.5,205.3 521.8,205.7 522.0,205.9 522.3,206.2 522.5,206.4 522.8,206.3 523.1,206.8 523.3,206.5 523.6,206.9 523.8,206.7 524.1,207.4 524.3,207.1 524.6,206.9 524.8,206.4 525.1,206.4 525.3,207.0 525.6,207.5 525.8,207.8 526.1,207.7 526.3,207.3 526.6,207.2 526.8,207.1 527.1,207.3 527.3,207.6 527.6,207.8 527.8,207.8 528.1,207.2 528.3,206.7 528.6,206.1 528.8,205.7 529.1,205.8 529.3,205.7 529.6,205.7 529.8,205.4 530.1,205.1 530.3,204.6 530.6,204.3 530.8,204.2 531.1,204.6 531.3,205.2 531.6,205.4 531.9,205.7 532.1,205.9 532.4,205.8 532.6,205.6 532.9,205.6 533.1,205.7 533.4,205.3 533.6,204.8 533.9,204.6 534.1,204.4 534.4,204.6 534.6,204.7 534.9,204.5 535.1,204.2 535.4,204.1 535.6,204.2 535.9,204.0 536.1,204.1 536.4,204.7 536.6,205.0 536.9,205.1 537.1,205.5 537.4,205.9 537.6,206.7 537.9,207.3 538.1,207.7 538.4,208.0 538.6,207.6 538.9,207.8 539.1,207.3 539.4,207.3 539.6,207.6 539.9,207.7 540.1,207.5 540.4,207.2 540.7,207.2 540.9,208.0 541.2,207.8 541.4,208.4 541.7,207.8 541.9,208.1 542.2,208.1 542.4,208.0 542.7,207.0 542.9,206.4 543.2,206.1 543.4,206.5 543.7,206.3 543.9,206.2 544.2,205.7 544.4,205.7 544.7,205.6 544.9,205.7 545.2,205.6 545.4,205.6 545.7,205.5 545.9,205.7 546.2,205.9 546.4,206.6 546.7,206.7 546.9,207.1 547.2,207.3 547.4,207.5 547.7,207.6 547.9,207.3 548.2,207.2 548.4,207.8 548.7,208.3 548.9,208.2 549.2,208.1 549.4,207.7 549.7,208.1 550.0,207.9 550.2,208.2 550.5,207.5 550.7,207.7 551.0,207.0 551.2,206.8 551.5,205.6 551.7,205.2 552.0,204.5 552.2,204.2 552.5,203.1 552.7,202.3 553.0,201.7 553.2,201.1 553.5,200.6 553.7,200.2 554.0,200.6 554.2,201.0 554.5,201.5 554.7,201.7 555.0,201.4 555.2,201.8 555.5,202.1 555.7,201.9 556.0,201.9 556.2,202.0 556.5,202.3 556.7,201.5 557.0,200.2 557.2,199.5 557.5,198.9 557.7,199.1 558.0,200.3 558.2,202.0 558.5,202.6 558.8,202.9 559.0,203.6 559.3,204.4 559.5,205.7 559.8,206.1 560.0,206.9 560.3,207.1 560.5,207.7 560.8,207.8 561.0,207.9 561.3,207.5 561.5,208.0 561.8,207.7 562.0,207.9 562.3,207.7 562.5,208.1 562.8,208.1 563.0,208.5 563.3,208.4 563.5,208.6 563.8,208.1 564.0,208.3 564.3,207.9 564.5,208.2 564.8,208.1 565.0,207.7 565.3,206.7 565.5,206.0 565.8,205.9 566.0,205.8 566.3,205.3 566.5,204.7 566.8,203.8 567.0,203.0 567.3,203.2 567.6,203.9 567.8,204.4 568.1,204.7 568.3,205.0 568.6,205.5 568.8,206.1 569.1,206.2 569.3,206.5 569.6,206.8 569.8,206.9 570.1,207.0 570.3,207.2 570.6,207.6 570.8,207.8 571.1,207.7 571.3,207.8 571.6,207.7 571.8,207.8 572.1,208.0 572.3,208.2 572.6,207.8 572.8,207.9 573.1,207.9 573.3,207.8 573.6,207.8 573.8,207.4 574.1,207.6 574.3,207.5 574.6,208.1 574.8,208.3 575.1,208.1 575.3,207.6 575.6,207.6 575.8,207.5 576.1,207.4 576.3,207.7 576.6,207.6 576.9,207.9 577.1,207.8 577.4,208.1 577.6,207.8 577.9,207.4 578.1,207.7 578.4,208.1 578.6,208.4 578.9,207.9 579.1,207.8 579.4,207.9 579.6,207.4 579.9,207.3 580.1,206.8 580.4,206.9 580.6,206.6 580.9,206.2 581.1,205.7 581.4,205.5 581.6,205.6 581.9,205.6 582.1,205.0 582.4,204.5 582.6,204.5 582.9,205.0 583.1,205.3 583.4,205.5 583.6,206.0 583.9,205.8 584.1,206.3 584.4,206.2 584.6,206.3 584.9,206.1 585.1,206.0 585.4,206.5 585.7,206.9 585.9,207.0 586.2,206.6 586.4,206.5 586.7,206.3 586.9,206.9 587.2,206.9 587.4,207.1 587.7,206.9 587.9,206.7 588.2,207.0 588.4,207.2 588.7,207.8 588.9,208.0 589.2,208.0 589.4,208.0 589.7,207.7 589.9,207.6 590.2,207.8 590.4,207.4 590.7,207.4 590.9,207.3 591.2,207.6 591.4,207.2 591.7,207.2 591.9,207.9 592.2,208.4 592.4,207.9 592.7,207.7 592.9,207.7 593.2,208.0 593.4,207.7 593.7,207.9 593.9,208.0 594.2,208.6 594.5,207.9 594.7,207.4 595.0,207.0 595.2,207.5 595.5,207.8 595.7,208.5 596.0,208.4 596.2,208.9 596.5,208.8 596.7,209.0 597.0,208.9 597.2,208.5 597.5,208.2 597.7,208.0 598.0,208.3 598.2,208.2 598.5,208.3 598.7,207.8 599.0,208.1 599.2,208.6 599.5,208.9 599.7,208.2 600.0,207.4 600.2,207.3 600.5,207.5 600.7,207.5 601.0,207.3 601.2,207.5 601.5,207.6 601.7,207.6 602.0,207.4 604.8,205.0 605.7,201.0 606.2,192.0 606.6,176.5 607.1,187.9 607.6,201.0 608.5,202.6 609.4,197.7 610.4,204.2 611.3,192.0 612.2,196.1 613.2,187.9 614.1,175.6 615.0,167.5 615.5,158.5 615.9,171.6 616.4,158.5 616.9,173.2 617.3,161.7 618.3,158.5 618.7,175.6 619.2,163.4 620.1,167.5"/>
<polyline fill="none" stroke="#d02020" stroke-width="0.6" stroke-opacity="0.8" stroke-linejoin="bevel" points="393.6,187.6 393.8,191.6 394.1,195.4 394.3,199.2 394.6,202.4 394.8,203.6 395.1,204.3 395.3,205.4 395.6,205.8 395.8,206.2 396.1,206.4 396.3,206.8 396.6,207.2 396.9,207.0 397.1,207.2 397.4,207.5 397.6,207.8 397.9,208.1 398.1,207.9 398.4,207.9 398.6,207.9 398.9,208.1 399.1,208.4 399.4,208.2 399.6,208.1 399.9,207.9 400.1,207.3 400.4,207.6 400.6,207.3 400.9,207.3 401.1,206.6 401.4,206.4 401.6,206.4 401.9,206.7 402.1,206.8 402.4,206.5 402.6,206.6 402.9,206.3 403.1,206.5 403.4,206.2 403.6,206.2 403.9,205.7 404.1,205.7 404.4,205.5 404.6,205.8 404.9,205.4 405.1,205.3 405.4,205.2 405.6,205.0 405.9,205.3 406.2,205.3 406.4,205.7 406.7,205.2 406.9,205.5 407.2,205.5 407.4,205.7 407.7,205.2 407.9,204.9 408.2,204.9 408.4,205.0 408.7,205.4 408.9,206.0 409.2,206.1 409.4,205.7 409.7,204.7 409.9,203.9 410.2,203.8 410.4,203.2 410.7,203.1 410.9,202.3 411.2,202.5 411.4,201.2 411.7,199.8 411.9,198.4 412.2,197.3 412.4,198.6 412.7,199.4 412.9,200.5 413.2,201.1 413.4,202.2 413.7,202.6 413.9,201.4 414.2,200.8 414.4,199.5 414.7,199.3 415.0,198.1 415.2,199.3 415.5,200.1 415.7,201.5 416.0,203.0 416.2,204.4 416.5,204.8 416.7,203.5 417.0,202.9 417.2,202.7 417.5,202.3 417.7,201.4 418.0,200.4 418.2,199.7 418.5,200.4 418.7,201.0 419.0,201.7 419.2,203.1 419.5,204.3 419.7,205.2 420.0,205.3 420.2,205.2 420.5,205.2 420.7,205.0 421.0,204.9 421.2,204.8 421.5,204.6 421.7,204.7 422.0,204.7 422.2,205.2 422.5,205.6 422.7,205.6 423.0,205.5 423.2,205.2 423.5,205.1 423.8,204.4 424.0,204.0 424.3,203.7 424.5,203.8 424.8,203.7 425.0,203.6 425.3,203.5 425.5,203.4 425.8,203.5 426.0,203.7 426.3,203.8 426.5,204.0 426.8,203.8 427.0,204.5 427.3,204.5 427.5,204.9 427.8,204.0 428.0,203.5 428.3,201.9 428.5,200.8 428.8,199.5 429.0,198.4 429.3,196.4 429.5,194.3 429.8,192.9 430.0,193.0 430.3,194.6 430.5,195.5 430.8,196.9 431.0,198.5 431.3,200.2 431.5,200.2 431.8,199.4 432.0,198.7 432.3,198.1 432.5,198.5 432.8,199.4 433.1,200.2 433.3,200.4 433.6,200.5 433.8,200.9 434.1,201.5 434.3,202.2 434.6,202.8 434.8,201.9 435.1,200.8 435.3,199.8 435.6,198.4 435.8,197.7 436.1,197.7 436.3,199.0 436.6,199.7 436.8,200.2 437.1,200.5 437.3,201.0 437.6,200.9 437.8,200.8 438.1,201.0 438.3,201.6 438.6,200.9 438.8,200.1 439.1,199.3 439.3,200.4 439.6,201.3 439.8,201.5 440.1,202.2 440.3,202.5 440.6,203.1 440.8,202.9 441.1,203.1 441.3,203.4 441.6,203.1 441.9,203.6 442.1,204.0 442.4,204.6 442.6,204.3 442.9,204.1 443.1,204.1 443.4,204.7 443.6,205.1 443.9,205.2 444.1,204.9 444.4,204.5 444.6,205.0 444.9,205.8 445.1,206.5 445.4,206.7 445.6,206.4 445.9,206.2 446.1,206.7 446.4,206.6 446.6,206.6 446.9,206.1 447.1,206.0 447.4,206.0 447.6,205.7 447.9,205.5 448.1,205.3 448.4,205.4 448.6,204.9 448.9,204.2 449.1,203.8 449.4,203.0 449.6,202.3 449.9,200.9 450.1,200.3 450.4,200.0 450.6,201.0 450.9,201.9 451.2,202.9 451.4,204.3 451.7,204.8 451.9,205.5 452.2,205.4 452.4,205.8 452.7,205.6 452.9,205.6 453.2,205.8 453.4,205.8 453.7,206.1 453.9,205.9 454.2,206.5 454.4,206.7 454.7,207.6 454.9,207.6 455.2,207.7 455.4,207.5 455.7,207.7 455.9,208.0 456.2,208.3 456.4,208.2 456.7,207.8 456.9,207.9 457.2,208.1 457.4,208.7 457.7,209.1 457.9,209.0 458.2,209.0 458.4,208.8 458.7,208.6 458.9,208.1 459.2,207.9 459.4,207.3 459.7,206.9 460.0,206.3 460.2,206.5 460.5,206.3 460.7,206.1 461.0,205.4 461.2,204.7 461.5,204.2 461.7,203.5 462.0,202.9 462.2,202.6 462.5,202.5 462.7,203.2 463.0,203.4 463.2,204.1 463.5,204.4 463.7,204.8 464.0,205.0 464.2,205.7 464.5,206.2 464.7,206.2 465.0,206.0 465.2,205.8 465.5,205.9 465.7,206.4 466.0,206.3 466.2,206.3 466.5,206.0 466.7,206.4 467.0,206.7 467.2,206.9 467.5,207.0 467.7,206.6 468.0,206.6 468.2,207.3 468.5,207.7 468.8,207.6 469.0,206.7 469.3,206.6 469.5,206.1 469.8,206.2 470.0,206.1 470.3,206.5 470.5,207.1 470.8,207.3 471.0,207.4 471.3,207.3 471.5,207.4 471.8,207.4 472.0,207.4 472.3,207.6 472.5,207.7 472.8,207.6 473.0,207.7 473.3,207.5 473.5,207.9 473.8,207.9 474.0,208.4 474.3,208.1 474.5,207.9 474.8,207.6 475.0,207.5 475.3,207.6 475.5,207.2 475.8,207.5 476.0,207.3 476.3,208.0 476.5,207.8 476.8,208.0 477.0,207.8 477.3,207.7 477.5,207.6 477.8,207.7 478.1,207.7 478.3,208.0 478.6,208.1 478.8,208.2 479.1,208.2 479.3,207.5 479.6,207.7 479.8,207.1 480.1,207.6 480.3,206.9 480.6,207.2 480.8,207.0 481.1,207.2 481.3,206.9 481.6,206.4 481.8,205.9 482.1,205.9 482.3,206.3 482.6,207.0 482.8,206.7 483.1,206.0 483.3,205.1 483.6,205.1 483.8,205.5 484.1,205.9 484.3,206.2 484.6,206.2 484.8,206.6 485.1,206.6 485.3,207.1 485.6,207.0 485.8,207.3 486.1,207.1 486.3,207.3 486.6,207.4 486.9,207.4 487.1,207.4 487.4,206.6 487.6,206.7 487.9,206.6 488.1,207.2 488.4,207.4 488.6,207.8 488.9,207.7 489.1,207.4 489.4,207.2 489.6,207.2 489.9,207.5 490.1,207.2 490.4,207.1 490.6,206.7 490.9,206.5 491.1,206.7 491.4,206.6 491.6,206.7 491.9,206.5 492.1,206.5 492.4,206.4 492.6,206.7 492.9,206.7 493.1,206.8 493.4,206.7 493.6,207.0 493.9,206.6 494.1,206.4 494.4,206.6 494.6,206.6 494.9,206.0 495.1,205.2 495.4,205.5 495.7,206.0 495.9,206.3 496.2,206.0 496.4,206.1 496.7,206.5 496.9,206.5 497.2,206.5 497.4,206.6 497.7,206.9 497.9,207.0 498.2,206.7 498.4,206.6 498.7,206.5 498.9,206.4 499.2,206.6 499.4,207.1 499.7,207.2 499.9,206.8 500.2,206.0 500.4,206.1 500.7,206.4 500.9,206.5 501.2,206.1 501.4,206.0 501.7,206.1 501.9,206.5 502.2,206.5 502.4,206.7 502.7,206.6 502.9,206.7 503.2,206.6 503.4,206.9 503.7,207.1 503.9,206.8 504.2,206.4 504.4,206.1 504.7,205.8 505.0,205.4 505.2,204.8 505.5,204.9 505.7,204.7 506.0,204.7 506.2,204.5 506.5,204.6 506.7,204.5 507.0,204.9 507.2,204.6 507.5,205.0 507.7,205.3 508.0,206.3 508.2,205.9 508.5,206.0 508.7,205.9 509.0,206.4 509.2,206.2 509.5,206.1 509.7,205.6 510.0,205.9 510.2,205.8 510.5,205.6 510.7,205.4 511.0,205.3 511.2,205.8 511.5,206.5 511.7,206.7 512.0,206.6 512.2,206.4 512.5,207.0 512.7,207.5 513.0,207.6 513.2,207.3 513.5,207.4 513.8,207.6 514.0,207.6 514.3,208.2 514.5,207.9 514.8,207.9 515.0,207.2 515.3,207.2 515.5,207.2 515.8,207.4 516.0,207.8 516.3,208.2 516.5,208.1 516.8,207.9 517.0,207.6 517.3,207.4 517.5,207.3 517.8,207.0 518.0,207.3 518.3,207.6 518.5,207.3 518.8,206.7 519.0,206.1 519.3,206.1 519.5,206.0 519.8,205.8 520.0,205.5 520.3,205.6 520.5,205.2 520.8,205.5 521.0,205.3 521.3,205.7 521.5,205.5 521.8,206.0 522.0,205.8 522.3,205.9 522.5,205.6 522.8,205.7 523.1,206.1 523.3,207.0 523.6,207.3 523.8,206.9 524.1,206.0 524.3,206.2 524.6,206.6 524.8,206.8 525.1,207.1 525.3,207.3 525.6,207.6 525.8,206.9 526.1,206.9 526.3,206.5 526.6,206.9 526.8,207.1 527.1,207.0 527.3,207.3 527.6,206.8 527.8,206.6 528.1,206.2 528.3,206.4 528.6,206.2 528.8,205.8 529.1,205.5 529.3,205.7 529.6,205.5 529.8,204.7 530.1,204.2 530.3,203.7 530.6,203.8 530.8,203.7 531.1,203.7 531.3,204.0 531.6,204.9 531.9,205.1 532.1,205.6 532.4,205.2 532.6,205.5 532.9,205.7 533.1,205.7 533.4,205.2 533.6,204.9 533.9,204.7 534.1,204.6 534.4,203.9 534.6,203.6 534.9,203.3 535.1,202.9 535.4,202.7 535.6,202.3 535.9,202.6 536.1,202.9 536.4,203.5 536.6,203.8 536.9,204.5 537.1,205.3 537.4,206.0 537.6,206.6 537.9,206.5 538.1,206.2 538.4,206.4 538.6,206.5 538.9,206.8 539.1,206.4 539.4,206.6 539.6,206.9 539.9,206.7 540.1,206.5 540.4,206.5 540.7,207.1 540.9,207.3 541.2,207.3 541.4,207.0 541.7,206.7 541.9,205.9 542.2,205.8 542.4,205.4 542.7,205.3 542.9,205.2 543.2,205.7 543.4,205.6 543.7,205.2 543.9,204.2 544.2,203.9 544.4,203.7 544.7,203.7 544.9,204.0 545.2,204.0 545.4,204.6 545.7,204.2 545.9,204.4 546.2,205.3 546.4,205.6 546.7,206.2 546.9,205.7 547.2,206.3 547.4,206.4 547.7,206.5 547.9,206.3 548.2,206.5 548.4,206.2 548.7,206.1 548.9,205.9 549.2,206.0 549.4,206.1 549.7,205.6 550.0,205.7 550.2,205.4 550.5,205.7 550.7,205.9 551.0,205.9 551.2,205.5 551.5,204.8 551.7,203.8 552.0,203.3 552.2,203.2 552.5,203.0 552.7,202.4 553.0,201.5 553.2,201.1 553.5,201.2 553.7,201.1 554.0,201.9 554.2,202.1 554.5,203.2 554.7,203.4 555.0,204.3 555.2,204.3 555.5,204.6 555.7,203.6 556.0,203.5 556.2,203.5 556.5,203.4 556.7,202.4 557.0,201.5 557.2,200.7 557.5,200.2 557.7,199.6 558.0,199.9 558.2,200.3 558.5,201.1 558.8,201.8 559.0,203.3 559.3,204.2 559.5,205.1 559.8,205.6 560.0,205.9 560.3,205.8 560.5,205.7 560.8,205.8 561.0,206.2 561.3,206.0 561.5,206.1 561.8,205.9 562.0,205.8 562.3,205.6 562.5,205.6 562.8,205.6 563.0,205.7 563.3,205.4 563.5,205.5 563.8,205.3 564.0,205.7 564.3,205.8 564.5,206.1 564.8,206.2 565.0,205.6 565.3,205.1 565.5,204.5 565.8,203.7 566.0,203.1 566.3,202.2 566.5,201.9 566.8,201.2 567.0,201.1 567.3,201.3 567.6,201.4 567.8,201.5 568.1,201.8 568.3,202.8 568.6,203.2 568.8,204.2 569.1,204.8 569.3,205.4 569.6,205.2 569.8,205.2 570.1,205.3 570.3,205.7 570.6,205.7 570.8,205.9 571.1,206.2 571.3,206.3 571.6,206.4 571.8,206.4 572.1,206.6 572.3,206.5 572.6,206.3 572.8,206.3 573.1,206.1 573.3,206.5 573.6,206.6 573.8,206.5 574.1,206.3 574.3,206.2 574.6,206.3 574.8,206.3 575.1,206.2 575.3,205.9 575.6,206.1 575.8,206.0 576.1,206.3 576.3,206.3 576.6,206.6 576.9,206.6 577.1,206.5 577.4,206.2 577.6,206.4 577.9,206.4 578.1,206.7 578.4,206.6 578.6,207.0 578.9,206.7 579.1,206.9 579.4,206.4 579.6,206.0 579.9,205.5 580.1,205.4 580.4,205.2 580.6,205.0 580.9,204.8 581.1,204.7 581.4,204.1 581.6,203.7 581.9,203.3 582.1,203.7 582.4,203.5 582.6,204.0 582.9,203.8 583.1,204.5 583.4,204.0 583.6,204.7 583.9,204.4 584.1,204.9 584.4,205.1 584.6,205.5 584.9,205.4 585.1,204.8 585.4,205.2 585.7,205.7 585.9,206.3 586.2,206.2 586.4,206.3 586.7,205.7 586.9,205.5 587.2,205.5 587.4,206.0 587.7,206.0 587.9,205.9 588.2,206.0 588.4,205.9 588.7,206.4 588.9,206.3 589.2,206.6 589.4,206.0 589.7,206.1 589.9,206.2 590.2,206.3 590.4,206.2 590.7,206.0 590.9,206.1 591.2,206.3 591.4,206.4 591.7,206.5 591.9,206.6 592.2,206.5 592.4,207.2 592.7,207.4 592.9,207.5 593.2,207.0 593.4,207.0 593.7,207.3 593.9,207.2 594.2,207.3 594.5,207.2 594.7,207.6 595.0,207.5 595.2,207.8 595.5,207.5 595.7,207.8 596.0,207.9 596.2,208.1 596.5,208.2 596.7,208.5 597.0,208.6 597.2,208.3 597.5,208.0 597.7,208.1 598.0,208.3 598.2,207.6 598.5,207.8 598.7,207.6 599.0,208.6 599.2,208.4 599.5,207.9 599.7,207.6 600.0,207.3 600.2,207.7 600.5,207.3 600.7,207.4 601.0,207.5 601.2,207.7 601.5,207.8 601.7,207.4 602.0,207.4 604.8,205.9 607.1,204.2 608.0,198.5 609.0,202.6 609.9,196.1 610.8,199.3 611.8,186.3 612.7,189.5 613.6,183.0 614.6,185.4 615.9,174.8 616.9,179.7 617.3,171.6 618.3,167.5 618.7,178.1 619.2,169.9 619.7,175.6 620.1,171.6"/>
<rect x="21.6" y="277.6" width="303.4" height="201.89999999999998" fill="none" stroke="#2c2c2c" stroke-width="1.15"/>
<line x1="56.6" y1="295.0" x2="301.6" y2="295.0" stroke="#555" stroke-width="1"/>
<line x1="56.6" y1="447.0" x2="301.6" y2="447.0" stroke="#555" stroke-width="1"/>
<line x1="56.6" y1="295.0" x2="56.6" y2="447.0" stroke="#ddd" stroke-width="0.7"/>
<line x1="301.6" y1="295.0" x2="301.6" y2="447.0" stroke="#ddd" stroke-width="0.7"/>
<rect x="55.2" y="293.6" width="2.8" height="2.8" fill="#000"/>
<rect x="300.20000000000005" y="293.6" width="2.8" height="2.8" fill="#000"/>
<rect x="55.2" y="445.6" width="2.8" height="2.8" fill="#000"/>
<rect x="300.20000000000005" y="445.6" width="2.8" height="2.8" fill="#000"/>
<text x="55.1" y="449.0" font-family="Liberation Serif" font-size="7" text-anchor="end" fill="#333" font-weight="normal">2.3</text>
<line x1="56.6" y1="428.0" x2="58.6" y2="428.0" stroke="#888" stroke-width="0.6"/>
<line x1="299.6" y1="428.0" x2="301.6" y2="428.0" stroke="#888" stroke-width="0.6"/>
<text x="55.1" y="411.0" font-family="Liberation Serif" font-size="7" text-anchor="end" fill="#333" font-weight="normal">2.35</text>
<line x1="56.6" y1="409.0" x2="60.6" y2="409.0" stroke="#777" stroke-width="0.7"/>
<line x1="297.6" y1="409.0" x2="301.6" y2="409.0" stroke="#777" stroke-width="0.7"/>
<line x1="56.6" y1="390.0" x2="58.6" y2="390.0" stroke="#888" stroke-width="0.6"/>
<line x1="299.6" y1="390.0" x2="301.6" y2="390.0" stroke="#888" stroke-width="0.6"/>
<text x="55.1" y="373.0" font-family="Liberation Serif" font-size="7" text-anchor="end" fill="#333" font-weight="normal">2.4</text>
<line x1="56.6" y1="371.0" x2="60.6" y2="371.0" stroke="#777" stroke-width="0.7"/>
<line x1="297.6" y1="371.0" x2="301.6" y2="371.0" stroke="#777" stroke-width="0.7"/>
<line x1="56.6" y1="352.0" x2="58.6" y2="352.0" stroke="#888" stroke-width="0.6"/>
<line x1="299.6" y1="352.0" x2="301.6" y2="352.0" stroke="#888" stroke-width="0.6"/>
<text x="55.1" y="335.0" font-family="Liberation Serif" font-size="7" text-anchor="end" fill="#333" font-weight="normal">2.45</text>
<line x1="56.6" y1="333.0" x2="60.6" y2="333.0" stroke="#777" stroke-width="0.7"/>
<line x1="297.6" y1="333.0" x2="301.6" y2="333.0" stroke="#777" stroke-width="0.7"/>
<line x1="56.6" y1="314.0" x2="58.6" y2="314.0" stroke="#888" stroke-width="0.6"/>
<line x1="299.6" y1="314.0" x2="301.6" y2="314.0" stroke="#888" stroke-width="0.6"/>
<text x="56.6" y="453" font-family="Liberation Serif" font-size="7" text-anchor="middle" fill="#333" font-weight="normal">0</text>
<line x1="81.10000000000001" y1="447.0" x2="81.10000000000001" y2="444.5" stroke="#777" stroke-width="0.7"/>
<line x1="81.10000000000001" y1="295.0" x2="81.10000000000001" y2="297.5" stroke="#777" stroke-width="0.7"/>
<text x="105.60000000000001" y="453" font-family="Liberation Serif" font-size="7" text-anchor="middle" fill="#333" font-weight="normal">20000</text>
<line x1="105.60000000000001" y1="447.0" x2="105.60000000000001" y2="444.0" stroke="#666" stroke-width="0.7"/>
<line x1="105.60000000000001" y1="295.0" x2="105.60000000000001" y2="298.0" stroke="#666" stroke-width="0.7"/>
<line x1="130.10000000000002" y1="447.0" x2="130.10000000000002" y2="444.5" stroke="#777" stroke-width="0.7"/>
<line x1="130.10000000000002" y1="295.0" x2="130.10000000000002" y2="297.5" stroke="#777" stroke-width="0.7"/>
<text x="154.60000000000002" y="453" font-family="Liberation Serif" font-size="7" text-anchor="middle" fill="#333" font-weight="normal">40000</text>
<line x1="154.60000000000002" y1="447.0" x2="154.60000000000002" y2="444.0" stroke="#666" stroke-width="0.7"/>
<line x1="154.60000000000002" y1="295.0" x2="154.60000000000002" y2="298.0" stroke="#666" stroke-width="0.7"/>
<line x1="179.10000000000002" y1="447.0" x2="179.10000000000002" y2="444.5" stroke="#777" stroke-width="0.7"/>
<line x1="179.10000000000002" y1="295.0" x2="179.10000000000002" y2="297.5" stroke="#777" stroke-width="0.7"/>
<text x="203.60000000000002" y="453" font-family="Liberation Serif" font-size="7" text-anchor="middle" fill="#333" font-weight="normal">60000</text>
<line x1="203.60000000000002" y1="447.0" x2="203.60000000000002" y2="444.0" stroke="#666" stroke-width="0.7"/>
<line x1="203.60000000000002" y1="295.0" x2="203.60000000000002" y2="298.0" stroke="#666" stroke-width="0.7"/>
<line x1="228.10000000000002" y1="447.0" x2="228.10000000000002" y2="444.5" stroke="#777" stroke-width="0.7"/>
<line x1="228.10000000000002" y1="295.0" x2="228.10000000000002" y2="297.5" stroke="#777" stroke-width="0.7"/>
<text x="252.60000000000002" y="453" font-family="Liberation Serif" font-size="7" text-anchor="middle" fill="#333" font-weight="normal">80000</text>
<line x1="252.60000000000002" y1="447.0" x2="252.60000000000002" y2="444.0" stroke="#666" stroke-width="0.7"/>
<line x1="252.60000000000002" y1="295.0" x2="252.60000000000002" y2="298.0" stroke="#666" stroke-width="0.7"/>
<line x1="277.1" y1="447.0" x2="277.1" y2="444.5" stroke="#777" stroke-width="0.7"/>
<line x1="277.1" y1="295.0" x2="277.1" y2="297.5" stroke="#777" stroke-width="0.7"/>
<text x="301.6000000000001" y="453" font-family="Liberation Serif" font-size="7" text-anchor="middle" fill="#333" font-weight="normal">1e+05</text>
<text x="187" y="467" font-family="Liberation Sans" font-size="9.2" text-anchor="middle" fill="#111" font-weight="normal" stroke="#111" stroke-width="0.22" textLength="38" lengthAdjust="spacingAndGlyphs">Time (ps)</text>
<text x="38.1" y="370" font-family="Liberation Sans" font-size="8.6" text-anchor="middle" fill="#222" font-weight="normal" stroke="#222" stroke-width="0.22" textLength="30.1" lengthAdjust="spacingAndGlyphs" transform="rotate(-90 38.1 370)">Rg (nm)</text>
<text x="176" y="495.9" font-family="Liberation Sans" font-size="9.6" text-anchor="middle" fill="#222" font-weight="normal" stroke="#222" stroke-width="0.22" textLength="10.6" lengthAdjust="spacingAndGlyphs">(c)</text>
<polyline fill="none" stroke="#0000e6" stroke-width="0.9" stroke-opacity="1.0" stroke-linejoin="bevel" points="56.6,422.4 56.7,414.9 56.8,416.3 56.9,414.7 57.0,414.5 57.1,414.6 57.2,416.5 57.3,408.3 57.4,417.5 57.5,418.6 57.6,413.4 57.7,408.5 57.8,417.3 57.9,414.9 58.0,426.1 58.1,410.8 58.2,418.2 58.3,406.3 58.4,417.4 58.5,410.0 58.6,417.6 58.7,415.0 58.8,417.1 58.9,414.4 59.1,415.1 59.2,411.9 59.3,415.5 59.4,413.7 59.5,419.5 59.6,415.7 59.7,419.3 59.8,411.2 59.9,419.1 60.0,394.5 60.1,412.7 60.2,404.0 60.3,412.6 60.4,420.7 60.5,414.5 60.6,413.6 60.7,420.3 60.8,416.6 60.9,414.9 61.0,414.5 61.1,415.1 61.2,414.0 61.3,419.4 61.4,418.0 61.5,417.1 61.6,415.0 61.7,417.5 61.8,408.1 61.9,416.3 62.0,414.6 62.1,415.3 62.2,409.1 62.3,413.2 62.4,413.1 62.5,415.4 62.6,410.9 62.7,413.0 62.8,410.7 62.9,418.1 63.0,415.2 63.1,419.9 63.2,413.3 63.3,414.1 63.4,415.1 63.5,416.4 63.6,413.4 63.7,416.2 63.9,411.1 64.0,412.9 64.1,411.8 64.2,421.2 64.3,413.0 64.4,418.8 64.5,410.2 64.6,415.4 64.7,401.2 64.8,416.9 64.9,414.4 65.0,415.4 65.1,412.2 65.2,414.7 65.3,410.1 65.4,412.0 65.5,410.3 65.6,412.9 65.7,414.0 65.8,417.3 65.9,412.2 66.0,417.2 66.1,414.9 66.2,416.8 66.3,412.0 66.4,419.9 66.5,419.2 66.6,421.7 66.7,416.5 66.8,419.7 66.9,412.8 67.0,412.7 67.1,409.6 67.2,412.1 67.3,411.0 67.4,414.6 67.5,415.0 67.6,415.0 67.7,411.1 67.8,407.5 67.9,408.8 68.0,413.1 68.1,411.6 68.2,413.8 68.3,409.0 68.4,414.4 68.5,410.4 68.7,416.7 68.8,410.8 68.9,413.7 69.0,395.2 69.1,409.7 69.2,407.4 69.3,413.6 69.4,409.8 69.5,415.9 69.6,412.0 69.7,417.1 69.8,414.1 69.9,426.2 70.0,413.2 70.1,420.7 70.2,414.3 70.3,419.9 70.4,415.2 70.5,414.2 70.6,420.9 70.7,413.9 70.8,411.6 70.9,414.8 71.0,412.1 71.1,417.1 71.2,411.7 71.3,419.0 71.4,411.4 71.5,419.7 71.6,411.4 71.7,419.9 71.8,411.6 71.9,417.8 72.0,409.9 72.1,419.8 72.2,416.2 72.3,414.3 72.4,408.8 72.5,413.7 72.6,410.8 72.7,418.1 72.8,414.3 72.9,418.2 73.0,412.1 73.1,411.6 73.2,405.2 73.3,412.0 73.5,409.4 73.6,416.0 73.7,404.7 73.8,410.3 73.9,408.9 74.0,413.5 74.1,410.0 74.2,411.7 74.3,408.4 74.4,413.3 74.5,411.6 74.6,409.7 74.7,408.6 74.8,401.8 74.9,409.4 75.0,411.7 75.1,405.9 75.2,411.4 75.3,405.8 75.4,417.8 75.5,411.9 75.6,418.9 75.7,409.2 75.8,411.2 75.9,409.8 76.0,421.6 76.1,407.6 76.2,409.6 76.3,403.3 76.4,410.6 76.5,407.4 76.6,414.6 76.7,405.0 76.8,413.4 76.9,408.1 77.0,410.1 77.1,407.9 77.2,411.0 77.3,409.4 77.4,414.6 77.5,414.0 77.6,412.2 77.7,412.1 77.8,416.0 77.9,412.2 78.0,415.2 78.1,407.7 78.3,411.8 78.4,409.7 78.5,410.8 78.6,409.6 78.7,411.8 78.8,406.2 78.9,411.6 79.0,406.9 79.1,411.8 79.2,407.8 79.3,412.5 79.4,409.2 79.5,413.0 79.6,408.2 79.7,408.4 79.8,402.7 79.9,408.5 80.0,408.6 80.1,412.6 80.2,409.7 80.3,412.8 80.4,406.8 80.5,417.1 80.6,406.0 80.7,416.8 80.8,405.1 80.9,413.3 81.0,402.7 81.1,409.5 81.2,402.6 81.3,408.3 81.4,409.0 81.5,413.5 81.6,419.4 81.7,411.2 81.8,405.1 81.9,407.5 82.0,401.8 82.1,409.4 82.2,406.1 82.3,410.4 82.4,406.4 82.5,410.9 82.6,409.9 82.7,412.4 82.8,409.5 82.9,411.0 83.1,408.4 83.2,413.9 83.3,403.3 83.4,407.0 83.5,403.6 83.6,407.8 83.7,404.8 83.8,406.8 83.9,406.4 84.0,410.7 84.1,401.3 84.2,405.5 84.3,406.0 84.4,411.0 84.5,407.4 84.6,413.0 84.7,401.6 84.8,401.8 84.9,402.2 85.0,405.6 85.1,401.6 85.2,405.9 85.3,398.6 85.4,402.2 85.5,400.4 85.6,407.7 85.7,404.8 85.8,409.3 85.9,400.2 86.0,406.3 86.1,407.7 86.2,406.5 86.3,402.5 86.4,406.9 86.5,402.5 86.6,406.8 86.7,398.6 86.8,405.9 86.9,400.0 87.0,399.4 87.1,395.4 87.2,398.9 87.3,395.8 87.4,398.4 87.5,393.9 87.6,402.3 87.7,398.0 87.9,403.0 88.0,397.8 88.1,404.9 88.2,397.1 88.3,400.6 88.4,401.8 88.5,405.1 88.6,394.9 88.7,403.4 88.8,393.6 88.9,399.2 89.0,394.2 89.1,400.4 89.2,395.1 89.3,400.0 89.4,400.6 89.5,405.8 89.6,401.0 89.7,401.8 89.8,401.8 89.9,401.3 90.0,396.9 90.1,396.6 90.2,400.8 90.3,395.2 90.4,400.8 90.5,401.5 90.6,395.1 90.7,399.1 90.8,384.7 90.9,397.4 91.0,396.5 91.1,401.3 91.2,397.1 91.3,401.5 91.4,392.3 91.5,397.7 91.6,391.8 91.7,399.8 91.8,402.8 91.9,406.5 92.0,397.7 92.1,402.8 92.2,398.8 92.3,408.0 92.4,400.7 92.5,402.5 92.7,395.6 92.8,405.0 92.9,397.6 93.0,402.7 93.1,398.7 93.2,414.8 93.3,405.4 93.4,408.7 93.5,402.7 93.6,404.6 93.7,406.6 93.8,407.7 93.9,399.7 94.0,400.6 94.1,395.0 94.2,405.1 94.3,398.1 94.4,407.7 94.5,404.8 94.6,403.3 94.7,402.0 94.8,413.4 94.9,407.9 95.0,415.3 95.1,405.0 95.2,408.2 95.3,405.7 95.4,406.6 95.5,406.3 95.6,412.4 95.7,413.8 95.8,413.4 95.9,409.7 96.0,413.1 96.1,401.8 96.2,411.2 96.3,407.2 96.4,413.1 96.5,408.0 96.6,411.7 96.7,407.9 96.8,407.0 96.9,405.7 97.0,408.8 97.1,403.9 97.2,412.0 97.3,409.3 97.5,406.8 97.6,410.7 97.7,415.1 97.8,417.1 97.9,422.8 98.0,415.4 98.1,420.6 98.2,409.7 98.3,410.1 98.4,413.8 98.5,416.3 98.6,413.9 98.7,412.3 98.8,411.6 98.9,415.7 99.0,410.4 99.1,413.7 99.2,409.1 99.3,411.9 99.4,407.9 99.5,410.8 99.6,404.7 99.7,414.7 99.8,416.0 99.9,417.0 100.0,417.2 100.1,417.6 100.2,413.7 100.3,415.5 100.4,433.0 100.5,415.8 100.6,423.1 100.7,419.4 100.8,412.5 100.9,416.1 101.0,413.2 101.1,415.1 101.2,411.7 101.3,414.7 101.4,406.9 101.5,412.5 101.6,405.3 101.7,411.9 101.8,411.6 101.9,415.4 102.0,406.7 102.1,401.8 102.3,408.2 102.4,413.7 102.5,411.1 102.6,416.2 102.7,416.2 102.8,419.4 102.9,407.4 103.0,414.1 103.1,410.1 103.2,423.5 103.3,415.6 103.4,420.1 103.5,420.4 103.6,428.6 103.7,421.5 103.8,422.0 103.9,416.2 104.0,420.6 104.1,413.2 104.2,416.6 104.3,412.1 104.4,414.4 104.5,410.1 104.6,412.7 104.7,408.9 104.8,415.5 104.9,411.2 105.0,416.8 105.1,403.7 105.2,410.7 105.3,410.5 105.4,414.9 105.5,413.8 105.6,419.6 105.7,419.6 105.8,422.0 105.9,418.7 106.0,416.3 106.1,411.5 106.2,418.3 106.3,414.7 106.4,418.8 106.5,408.7 106.6,409.8 106.7,406.9 106.8,416.4 106.9,417.1 107.1,418.6 107.2,413.3 107.3,414.6 107.4,412.3 107.5,419.1 107.6,419.1 107.7,426.0 107.8,415.5 107.9,415.6 108.0,411.2 108.1,416.2 108.2,409.5 108.3,415.6 108.4,412.7 108.5,418.3 108.6,411.2 108.7,417.5 108.8,413.4 108.9,416.6 109.0,414.6 109.1,414.8 109.2,418.5 109.3,420.2 109.4,417.7 109.5,416.8 109.6,414.4 109.7,419.5 109.8,416.5 109.9,418.4 110.0,413.3 110.1,415.6 110.2,410.6 110.3,414.0 110.4,416.6 110.5,420.9 110.6,418.0 110.7,418.3 110.8,409.9 110.9,417.8 111.0,412.8 111.1,415.5 111.2,412.3 111.3,418.7 111.4,416.0 111.5,418.9 111.6,417.6 111.7,423.1 111.9,414.3 112.0,416.7 112.1,411.0 112.2,422.8 112.3,415.5 112.4,413.2 112.5,409.7 112.6,421.6 112.7,420.8 112.8,421.8 112.9,415.2 113.0,413.9 113.1,408.2 113.2,418.9 113.3,416.1 113.4,417.7 113.5,415.0 113.6,415.6 113.7,419.5 113.8,421.2 113.9,414.0 114.0,413.7 114.1,407.8 114.2,417.3 114.3,410.2 114.4,417.1 114.5,412.6 114.6,418.5 114.7,416.3 114.8,418.4 114.9,413.7 115.0,416.9 115.1,415.0 115.2,417.7 115.3,413.1 115.4,414.0 115.5,416.6 115.6,420.4 115.7,415.3 115.8,422.5 115.9,419.3 116.0,421.9 116.1,416.3 116.2,418.9 116.3,415.6 116.4,423.2 116.5,420.7 116.7,417.4 116.8,403.9 116.9,413.1 117.0,410.2 117.1,421.0 117.2,408.6 117.3,415.6 117.4,412.1 117.5,416.5 117.6,417.0 117.7,420.0 117.8,412.9 117.9,414.6 118.0,409.6 118.1,416.0 118.2,410.7 118.3,418.3 118.4,408.0 118.5,417.7 118.6,406.4 118.7,414.1 118.8,404.4 118.9,419.3 119.0,408.1 119.1,413.3 119.2,407.9 119.3,416.9 119.4,414.5 119.5,418.5 119.6,411.3 119.7,414.5 119.8,410.1 119.9,414.3 120.0,408.0 120.1,413.6 120.2,405.6 120.3,409.6 120.4,399.7 120.5,409.9 120.6,405.0 120.7,413.2 120.8,407.2 120.9,413.4 121.0,413.5 121.1,410.9 121.2,406.7 121.3,414.4 121.4,409.5 121.6,416.1 121.7,407.7 121.8,413.9 121.9,406.4 122.0,407.3 122.1,404.1 122.2,408.9 122.3,408.4 122.4,409.3 122.5,406.5 122.6,410.0 122.7,410.9 122.8,412.6 122.9,409.5 123.0,409.5 123.1,407.3 123.2,425.0 123.3,401.2 123.4,415.3 123.5,403.3 123.6,410.7 123.7,405.9 123.8,405.3 123.9,407.7 124.0,411.8 124.1,406.1 124.2,406.0 124.3,401.4 124.4,406.6 124.5,403.9 124.6,410.2 124.7,402.0 124.8,406.8 124.9,406.3 125.0,406.4 125.1,403.8 125.2,407.4 125.3,403.2 125.4,408.8 125.5,408.9 125.6,417.1 125.7,413.1 125.8,412.8 125.9,408.9 126.0,404.8 126.1,402.5 126.2,401.4 126.4,396.3 126.5,401.5 126.6,402.7 126.7,409.6 126.8,405.7 126.9,411.8 127.0,403.3 127.1,404.1 127.2,400.9 127.3,410.6 127.4,404.3 127.5,406.7 127.6,400.9 127.7,408.4 127.8,405.8 127.9,406.5 128.0,397.0 128.1,404.1 128.2,399.1 128.3,401.5 128.4,397.7 128.5,403.8 128.6,399.7 128.7,404.8 128.8,414.6 128.9,409.2 129.0,405.6 129.1,402.0 129.2,395.7 129.3,399.9 129.4,404.3 129.5,406.5 129.6,405.2 129.7,403.2 129.8,403.4 129.9,400.4 130.0,399.6 130.1,414.6 130.2,403.7 130.3,405.2 130.4,400.9 130.5,404.2 130.6,403.5 130.7,413.7 130.8,394.1 130.9,401.3 131.0,398.5 131.2,400.6 131.3,397.8 131.4,404.6 131.5,400.0 131.6,404.8 131.7,400.7 131.8,404.8 131.9,401.9 132.0,405.4 132.1,403.3 132.2,405.6 132.3,407.6 132.4,401.8 132.5,398.4 132.6,404.6 132.7,402.4 132.8,401.9 132.9,399.2 133.0,398.3 133.1,392.5 133.2,400.7 133.3,399.3 133.4,405.2 133.5,397.6 133.6,403.0 133.7,401.6 133.8,404.6 133.9,404.8 134.0,401.7 134.1,394.1 134.2,401.7 134.3,397.3 134.4,402.9 134.5,394.0 134.6,395.0 134.7,393.4 134.8,401.1 134.9,390.8 135.0,404.2 135.1,398.4 135.2,405.4 135.3,399.9 135.4,403.8 135.5,386.5 135.6,403.8 135.7,399.9 135.8,404.5 136.0,404.2 136.1,404.4 136.2,400.2 136.3,407.2 136.4,398.7 136.5,406.7 136.6,397.9 136.7,402.9 136.8,395.6 136.9,402.6 137.0,389.7 137.1,405.0 137.2,397.2 137.3,399.4 137.4,400.4 137.5,403.5 137.6,402.0 137.7,401.0 137.8,398.1 137.9,399.8 138.0,394.6 138.1,403.4 138.2,401.5 138.3,405.1 138.4,398.3 138.5,407.9 138.6,401.7 138.7,404.3 138.8,399.1 138.9,399.3 139.0,392.3 139.1,400.0 139.2,396.3 139.3,401.6 139.4,402.0 139.5,403.5 139.6,400.1 139.7,404.5 139.8,400.5 139.9,405.7 140.0,398.4 140.1,406.5 140.2,398.6 140.3,406.4 140.4,403.3 140.5,402.2 140.6,396.9 140.8,406.8 140.9,406.8 141.0,406.2 141.1,401.2 141.2,400.3 141.3,395.5 141.4,401.7 141.5,400.9 141.6,403.0 141.7,401.7 141.8,405.6 141.9,398.0 142.0,400.2 142.1,396.0 142.2,405.3 142.3,402.8 142.4,407.8 142.5,405.6 142.6,404.0 142.7,401.9 142.8,407.4 142.9,406.0 143.0,409.0 143.1,401.9 143.2,409.6 143.3,403.1 143.4,403.1 143.5,399.1 143.6,405.2 143.7,401.7 143.8,417.0 143.9,410.5 144.0,405.3 144.1,392.7 144.2,400.9 144.3,395.5 144.4,409.1 144.5,405.0 144.6,411.0 144.7,405.5 144.8,406.3 144.9,401.2 145.0,401.9 145.1,397.6 145.2,403.9 145.3,397.2 145.4,401.3 145.6,404.9 145.7,407.9 145.8,400.0 145.9,402.5 146.0,396.2 146.1,404.1 146.2,397.4 146.3,396.8 146.4,391.0 146.5,393.5 146.6,393.1 146.7,401.6 146.8,389.0 146.9,396.0 147.0,391.0 147.1,395.0 147.2,391.9 147.3,396.9 147.4,392.9 147.5,398.1 147.6,394.7 147.7,397.6 147.8,396.1 147.9,402.2 148.0,397.0 148.1,398.2 148.2,392.4 148.3,394.6 148.4,386.8 148.5,391.6 148.6,386.1 148.7,395.2 148.8,385.5 148.9,390.7 149.0,387.9 149.1,396.1 149.2,390.8 149.3,396.1 149.4,395.2 149.5,399.5 149.6,390.5 149.7,394.9 149.8,388.1 149.9,389.2 150.0,385.6 150.1,387.4 150.2,387.9 150.4,393.8 150.5,398.1 150.6,398.6 150.7,391.0 150.8,392.5 150.9,387.7 151.0,390.9 151.1,387.6 151.2,393.7 151.3,391.6 151.4,396.4 151.5,394.8 151.6,396.1 151.7,392.2 151.8,396.2 151.9,394.4 152.0,397.2 152.1,393.7 152.2,394.7 152.3,392.4 152.4,396.7 152.5,396.2 152.6,396.8 152.7,392.6 152.8,395.5 152.9,388.0 153.0,396.4 153.1,395.5 153.2,401.2 153.3,399.7 153.4,401.2 153.5,397.9 153.6,402.9 153.7,397.3 153.8,402.7 153.9,397.4 154.0,400.2 154.1,395.4 154.2,400.5 154.3,395.5 154.4,396.4 154.5,397.4 154.6,400.6 154.7,399.2 154.8,399.7 154.9,397.4 155.0,402.0 155.2,397.2 155.3,396.2 155.4,400.6 155.5,401.3 155.6,398.4 155.7,407.2 155.8,395.9 155.9,400.7 156.0,394.5 156.1,399.5 156.2,403.7 156.3,403.0 156.4,399.0 156.5,395.6 156.6,389.3 156.7,401.9 156.8,401.9 156.9,404.7 157.0,400.1 157.1,405.4 157.2,402.8 157.3,401.7 157.4,394.3 157.5,398.5 157.6,398.2 157.7,400.3 157.8,395.6 157.9,395.9 158.0,390.4 158.1,405.5 158.2,393.6 158.3,397.8 158.4,389.8 158.5,400.0 158.6,397.7 158.7,404.3 158.8,389.5 158.9,392.9 159.0,390.8 159.1,393.5 159.2,389.2 159.3,400.1 159.4,395.7 159.5,397.6 159.6,391.0 159.7,399.7 159.8,395.4 160.0,398.2 160.1,388.1 160.2,396.6 160.3,392.0 160.4,405.2 160.5,402.8 160.6,404.3 160.7,397.2 160.8,401.2 160.9,391.9 161.0,396.1 161.1,388.6 161.2,405.3 161.3,400.1 161.4,404.8 161.5,391.0 161.6,398.6 161.7,393.5 161.8,399.7 161.9,396.4 162.0,397.8 162.1,394.3 162.2,401.2 162.3,396.7 162.4,402.7 162.5,394.2 162.6,403.4 162.7,401.3 162.8,401.4 162.9,401.2 163.0,399.4 163.1,394.5 163.2,396.9 163.3,395.8 163.4,402.4 163.5,397.3 163.6,399.0 163.7,395.1 163.8,403.9 163.9,396.7 164.0,403.0 164.1,397.6 164.2,400.0 164.3,398.6 164.4,405.5 164.5,400.5 164.6,401.9 164.8,395.0 164.9,394.5 165.0,400.1 165.1,400.6 165.2,398.5 165.3,404.0 165.4,397.0 165.5,402.8 165.6,395.3 165.7,402.6 165.8,399.8 165.9,405.9 166.0,398.4 166.1,401.7 166.2,396.9 166.3,397.6 166.4,400.4 166.5,405.5 166.6,406.9 166.7,411.5 166.8,399.7 166.9,400.5 167.0,404.0 167.1,406.3 167.2,403.2 167.3,407.2 167.4,402.8 167.5,406.3 167.6,404.8 167.7,409.7 167.8,399.2 167.9,404.4 168.0,406.1 168.1,407.4 168.2,402.1 168.3,399.7 168.4,397.5 168.5,406.8 168.6,406.2 168.7,409.5 168.8,407.0 168.9,409.4 169.0,400.2 169.1,408.4 169.2,400.1 169.3,405.7 169.4,414.4 169.6,408.0 169.7,400.9 169.8,405.1 169.9,403.5 170.0,406.1 170.1,404.7 170.2,414.2 170.3,402.4 170.4,405.6 170.5,400.7 170.6,406.9 170.7,398.6 170.8,403.0 170.9,398.7 171.0,403.7 171.1,402.6 171.2,402.6 171.3,394.6 171.4,407.1 171.5,395.2 171.6,402.7 171.7,394.3 171.8,404.3 171.9,399.1 172.0,403.7 172.1,403.2 172.2,415.1 172.3,399.7 172.4,404.6 172.5,403.5 172.6,403.4 172.7,400.5 172.8,405.3 172.9,403.8 173.0,410.3 173.1,403.4 173.2,396.0 173.3,406.6 173.4,400.8 173.5,398.1 173.6,400.6 173.7,401.9 173.8,408.6 173.9,404.1 174.0,404.8 174.1,396.5 174.2,404.8 174.4,396.4 174.5,406.2 174.6,402.4 174.7,406.1 174.8,399.3 174.9,406.6 175.0,406.7 175.1,405.6 175.2,400.6 175.3,401.8 175.4,394.9 175.5,404.5 175.6,401.9 175.7,396.0 175.8,396.6 175.9,400.2 176.0,391.6 176.1,407.3 176.2,397.5 176.3,406.6 176.4,400.5 176.5,392.7 176.6,391.9 176.7,398.0 176.8,394.9 176.9,406.7 177.0,403.3 177.1,406.3 177.2,398.6 177.3,403.1 177.4,400.2 177.5,401.5 177.6,397.8 177.7,400.7 177.8,399.9 177.9,402.1 178.0,395.3 178.1,391.4 178.2,394.6 178.3,397.1 178.4,384.0 178.5,400.8 178.6,398.1 178.7,403.3 178.8,400.6 178.9,406.3 179.0,396.9 179.2,403.2 179.3,395.0 179.4,411.8 179.5,402.3 179.6,409.2 179.7,400.0 179.8,402.7 179.9,393.3 180.0,397.1 180.1,396.4 180.2,399.3 180.3,399.3 180.4,402.2 180.5,400.6 180.6,406.6 180.7,403.2 180.8,408.0 180.9,398.0 181.0,400.7 181.1,391.0 181.2,402.8 181.3,399.4 181.4,399.5 181.5,393.9 181.6,403.5 181.7,394.3 181.8,399.4 181.9,396.6 182.0,409.1 182.1,399.3 182.2,402.6 182.3,394.3 182.4,399.9 182.5,396.4 182.6,404.3 182.7,395.8 182.8,397.2 182.9,394.2 183.0,400.9 183.1,396.8 183.2,398.5 183.3,391.2 183.4,386.9 183.5,398.7 183.6,404.0 183.7,402.8 183.8,405.2 184.0,402.4 184.1,400.6 184.2,399.4 184.3,402.8 184.4,403.2 184.5,404.2 184.6,399.6 184.7,404.3 184.8,395.8 184.9,400.8 185.0,394.5 185.1,403.3 185.2,394.5 185.3,400.0 185.4,397.9 185.5,407.1 185.6,401.5 185.7,400.1 185.8,395.4 185.9,397.2 186.0,399.0 186.1,400.8 186.2,418.0 186.3,396.3 186.4,407.9 186.5,404.2 186.6,403.4 186.7,407.6 186.8,400.6 186.9,407.5 187.0,405.7 187.1,406.9 187.2,398.6 187.3,404.6 187.4,401.4 187.5,405.9 187.6,404.9 187.7,405.7 187.8,401.8 187.9,408.2 188.0,396.9 188.1,415.2 188.2,402.7 188.3,407.8 188.4,397.4 188.5,412.8 188.6,394.6 188.8,403.4 188.9,400.3 189.0,407.8 189.1,404.9 189.2,409.2 189.3,405.5 189.4,406.6 189.5,405.3 189.6,406.5 189.7,401.5 189.8,407.4 189.9,402.0 190.0,405.7 190.1,402.8 190.2,405.7 190.3,404.7 190.4,407.4 190.5,403.4 190.6,408.9 190.7,405.3 190.8,406.2 190.9,402.5 191.0,407.8 191.1,407.0 191.2,408.2 191.3,403.7 191.4,403.8 191.5,398.7 191.6,404.0 191.7,401.6 191.8,407.6 191.9,402.2 192.0,411.0 192.1,404.7 192.2,413.0 192.3,406.4 192.4,410.7 192.5,402.1 192.6,412.7 192.7,410.9 192.8,412.8 192.9,401.9 193.0,407.1 193.1,405.6 193.2,409.8 193.3,409.5 193.4,411.3 193.6,404.2 193.7,397.0 193.8,398.4 193.9,403.1 194.0,397.2 194.1,404.4 194.2,401.7 194.3,407.3 194.4,399.4 194.5,401.6 194.6,400.5 194.7,404.3 194.8,393.8 194.9,400.7 195.0,397.9 195.1,402.7 195.2,403.3 195.3,411.2 195.4,403.2 195.5,406.4 195.6,405.3 195.7,414.6 195.8,407.3 195.9,412.8 196.0,400.6 196.1,408.7 196.2,403.9 196.3,414.6 196.4,400.8 196.5,403.9 196.6,401.1 196.7,394.6 196.8,401.9 196.9,407.7 197.0,401.8 197.1,406.6 197.2,397.9 197.3,403.0 197.4,397.1 197.5,407.2 197.6,404.8 197.7,410.9 197.8,406.5 197.9,411.8 198.0,402.2 198.1,409.7 198.2,401.5 198.4,407.6 198.5,401.6 198.6,409.1 198.7,400.1 198.8,402.8 198.9,397.7 199.0,404.9 199.1,401.6 199.2,400.3 199.3,396.2 199.4,403.3 199.5,402.0 199.6,403.8 199.7,401.2 199.8,409.5 199.9,404.8 200.0,412.5 200.1,403.9 200.2,405.6 200.3,400.0 200.4,407.7 200.5,401.9 200.6,404.4 200.7,398.5 200.8,403.0 200.9,403.9 201.0,406.9 201.1,400.4 201.2,399.3 201.3,401.9 201.4,407.3 201.5,402.0 201.6,404.4 201.7,402.7 201.8,403.8 201.9,396.6 202.0,402.7 202.1,401.7 202.2,404.3 202.3,401.1 202.4,407.2 202.5,401.3 202.6,412.7 202.7,407.7 202.8,408.4 202.9,398.0 203.0,403.3 203.2,398.3 203.3,408.8 203.4,403.0 203.5,407.5 203.6,402.2 203.7,401.7 203.8,396.7 203.9,407.3 204.0,404.9 204.1,409.2 204.2,403.2 204.3,406.4 204.4,402.6 204.5,407.2 204.6,402.3 204.7,411.7 204.8,402.7 204.9,404.0 205.0,399.9 205.1,401.7 205.2,399.3 205.3,406.2 205.4,399.8 205.5,402.3 205.6,396.1 205.7,401.8 205.8,401.3 205.9,406.1 206.0,405.8 206.1,407.7 206.2,408.4 206.3,409.0 206.4,405.1 206.5,403.4 206.6,399.9 206.7,401.4 206.8,395.3 206.9,402.0 207.0,400.9 207.1,408.8 207.2,404.1 207.3,409.7 207.4,396.9 207.5,406.5 207.6,403.7 207.7,410.0 207.8,409.0 208.0,415.2 208.1,410.1 208.2,413.1 208.3,400.3 208.4,405.7 208.5,400.2 208.6,408.3 208.7,402.1 208.8,404.1 208.9,398.0 209.0,406.8 209.1,403.8 209.2,411.4 209.3,401.9 209.4,405.7 209.5,398.1 209.6,399.4 209.7,399.8 209.8,404.9 209.9,402.0 210.0,406.5 210.1,401.0 210.2,399.9 210.3,403.0 210.4,404.0 210.5,403.7 210.6,409.7 210.7,400.6 210.8,399.7 210.9,398.8 211.0,402.8 211.1,402.0 211.2,406.5 211.3,407.1 211.4,404.0 211.5,400.4 211.6,400.7 211.7,399.0 211.8,404.1 211.9,401.0 212.0,405.6 212.1,404.4 212.2,405.0 212.3,400.0 212.4,404.7 212.5,398.0 212.6,400.8 212.8,395.5 212.9,398.1 213.0,392.6 213.1,401.8 213.2,396.9 213.3,403.4 213.4,399.6 213.5,404.5 213.6,402.2 213.7,408.6 213.8,398.8 213.9,394.9 214.0,390.8 214.1,397.0 214.2,396.5 214.3,403.1 214.4,399.5 214.5,399.4 214.6,396.3 214.7,397.0 214.8,400.6 214.9,404.3 215.0,400.9 215.1,397.7 215.2,399.6 215.3,407.6 215.4,396.8 215.5,397.5 215.6,395.6 215.7,399.8 215.8,397.2 215.9,403.8 216.0,406.9 216.1,408.5 216.2,400.6 216.3,400.5 216.4,396.9 216.5,404.4 216.6,403.0 216.7,404.8 216.8,402.8 216.9,405.1 217.0,398.9 217.1,399.4 217.2,399.2 217.3,400.4 217.4,400.2 217.6,403.9 217.7,399.4 217.8,401.6 217.9,400.9 218.0,405.6 218.1,397.3 218.2,402.4 218.3,395.6 218.4,401.1 218.5,394.5 218.6,396.8 218.7,394.5 218.8,396.3 218.9,397.4 219.0,398.3 219.1,396.0 219.2,400.5 219.3,401.6 219.4,403.6 219.5,403.7 219.6,403.4 219.7,399.3 219.8,400.7 219.9,390.7 220.0,400.3 220.1,394.6 220.2,399.5 220.3,398.2 220.4,400.3 220.5,396.7 220.6,398.4 220.7,394.7 220.8,398.7 220.9,393.4 221.0,397.3 221.1,397.4 221.2,399.3 221.3,396.9 221.4,395.0 221.5,391.8 221.6,395.3 221.7,394.9 221.8,400.0 221.9,394.4 222.0,401.6 222.1,404.6 222.2,395.4 222.4,395.9 222.5,401.4 222.6,394.2 222.7,407.8 222.8,398.2 222.9,403.9 223.0,398.9 223.1,406.9 223.2,397.5 223.3,400.5 223.4,398.4 223.5,402.2 223.6,395.1 223.7,397.4 223.8,395.6 223.9,402.0 224.0,401.3 224.1,402.2 224.2,396.6 224.3,402.0 224.4,396.3 224.5,403.7 224.6,392.4 224.7,397.9 224.8,393.6 224.9,402.9 225.0,396.9 225.1,397.7 225.2,394.3 225.3,396.5 225.4,398.5 225.5,399.5 225.6,396.5 225.7,395.0 225.8,392.1 225.9,396.8 226.0,392.1 226.1,401.5 226.2,397.2 226.3,401.5 226.4,394.7 226.5,403.1 226.6,400.4 226.7,404.5 226.8,397.8 226.9,403.4 227.0,398.9 227.2,401.3 227.3,390.8 227.4,397.4 227.5,394.6 227.6,391.2 227.7,387.2 227.8,395.5 227.9,396.7 228.0,404.8 228.1,396.6 228.2,400.8 228.3,394.5 228.4,393.5 228.5,395.4 228.6,393.6 228.7,392.9 228.8,398.4 228.9,395.7 229.0,402.1 229.1,396.8 229.2,401.3 229.3,394.9 229.4,400.4 229.5,388.7 229.6,393.1 229.7,387.0 229.8,396.5 229.9,393.7 230.0,400.1 230.1,391.1 230.2,397.2 230.3,392.5 230.4,395.8 230.5,394.0 230.6,396.8 230.7,393.6 230.8,396.4 230.9,393.1 231.0,397.0 231.1,391.8 231.2,395.1 231.3,390.6 231.4,394.8 231.5,396.3 231.6,403.3 231.7,398.0 231.8,401.3 232.0,390.9 232.1,401.0 232.2,397.8 232.3,403.9 232.4,402.7 232.5,396.2 232.6,393.1 232.7,396.7 232.8,385.9 232.9,388.3 233.0,392.8 233.1,399.9 233.2,396.4 233.3,395.7 233.4,393.5 233.5,400.2 233.6,396.7 233.7,399.0 233.8,399.0 233.9,411.1 234.0,399.7 234.1,396.7 234.2,393.1 234.3,390.6 234.4,392.4 234.5,393.1 234.6,395.0 234.7,394.1 234.8,388.4 234.9,389.3 235.0,393.5 235.1,397.9 235.2,394.8 235.3,396.6 235.4,390.2 235.5,398.2 235.6,390.5 235.7,398.7 235.8,395.4 235.9,398.7 236.0,391.7 236.1,396.4 236.2,392.1 236.3,397.0 236.4,393.7 236.5,400.8 236.6,393.1 236.8,400.6 236.9,396.6 237.0,397.3 237.1,389.6 237.2,399.2 237.3,394.1 237.4,402.9 237.5,399.8 237.6,404.8 237.7,397.1 237.8,405.4 237.9,396.0 238.0,405.3 238.1,392.1 238.2,397.7 238.3,396.1 238.4,408.1 238.5,406.4 238.6,400.7 238.7,395.7 238.8,401.1 238.9,394.0 239.0,399.3 239.1,393.5 239.2,402.3 239.3,394.5 239.4,401.0 239.5,393.4 239.6,399.2 239.7,396.4 239.8,399.3 239.9,397.6 240.0,402.9 240.1,399.8 240.2,401.0 240.3,393.4 240.4,398.2 240.5,397.2 240.6,402.3 240.7,397.8 240.8,398.1 240.9,397.5 241.0,401.5 241.1,395.2 241.2,400.4 241.3,402.5 241.4,401.0 241.5,399.2 241.7,405.3 241.8,401.1 241.9,402.2 242.0,395.0 242.1,400.4 242.2,398.0 242.3,403.2 242.4,394.9 242.5,402.2 242.6,397.3 242.7,402.6 242.8,397.1 242.9,399.9 243.0,398.1 243.1,402.1 243.2,404.0 243.3,405.8 243.4,402.5 243.5,398.1 243.6,398.6 243.7,404.0 243.8,399.1 243.9,404.5 244.0,398.8 244.1,405.2 244.2,399.2 244.3,404.0 244.4,400.8 244.5,404.0 244.6,402.0 244.7,410.7 244.8,400.4 244.9,403.8 245.0,396.2 245.1,397.2 245.2,395.6 245.3,396.8 245.4,397.7 245.5,397.9 245.6,400.5 245.7,408.6 245.8,403.9 245.9,406.2 246.0,403.9 246.1,406.9 246.2,403.6 246.3,406.4 246.5,396.9 246.6,406.1 246.7,402.6 246.8,405.5 246.9,402.0 247.0,406.1 247.1,401.9 247.2,408.2 247.3,401.9 247.4,407.5 247.5,404.8 247.6,405.3 247.7,395.5 247.8,399.4 247.9,397.8 248.0,407.1 248.1,399.5 248.2,412.9 248.3,401.6 248.4,407.0 248.5,404.1 248.6,410.7 248.7,403.7 248.8,406.7 248.9,402.0 249.0,407.6 249.1,403.0 249.2,404.4 249.3,401.4 249.4,406.1 249.5,404.7 249.6,409.6 249.7,402.4 249.8,407.7 249.9,402.2 250.0,407.1 250.1,403.6 250.2,404.7 250.3,402.2 250.4,408.8 250.5,404.5 250.6,399.8 250.7,399.8 250.8,403.0 250.9,397.9 251.0,410.1 251.1,399.5 251.3,404.9 251.4,401.5 251.5,408.0 251.6,399.3 251.7,400.5 251.8,400.5 251.9,404.5 252.0,399.8 252.1,401.1 252.2,394.7 252.3,397.1 252.4,398.1 252.5,401.5 252.6,400.9 252.7,402.5 252.8,397.2 252.9,398.8 253.0,398.4 253.1,406.3 253.2,403.9 253.3,413.8 253.4,405.3 253.5,412.6 253.6,399.0 253.7,400.6 253.8,399.9 253.9,405.8 254.0,402.7 254.1,403.7 254.2,399.3 254.3,401.4 254.4,397.7 254.5,404.4 254.6,400.5 254.7,402.8 254.8,399.0 254.9,404.8 255.0,403.4 255.1,408.4 255.2,400.6 255.3,406.1 255.4,403.7 255.5,406.2 255.6,401.1 255.7,401.2 255.8,396.8 255.9,399.0 256.1,396.0 256.2,405.1 256.3,401.2 256.4,405.7 256.5,405.0 256.6,409.8 256.7,407.8 256.8,410.7 256.9,410.4 257.0,409.8 257.1,405.7 257.2,404.6 257.3,404.0 257.4,407.6 257.5,404.2 257.6,413.3 257.7,411.6 257.8,409.9 257.9,401.3 258.0,405.4 258.1,402.6 258.2,409.0 258.3,403.5 258.4,405.8 258.5,401.5 258.6,405.2 258.7,406.1 258.8,407.4 258.9,400.3 259.0,420.0 259.1,409.5 259.2,418.0 259.3,407.5 259.4,404.7 259.5,400.9 259.6,402.0 259.7,394.6 259.8,402.0 259.9,402.5 260.0,409.9 260.1,405.5 260.2,408.3 260.3,405.5 260.4,402.7 260.5,402.5 260.6,407.4 260.7,405.5 260.9,400.8 261.0,402.0 261.1,402.6 261.2,399.8 261.3,398.8 261.4,395.6 261.5,404.2 261.6,400.8 261.7,405.5 261.8,394.5 261.9,402.2 262.0,399.6 262.1,409.3 262.2,395.1 262.3,403.6 262.4,399.8 262.5,407.9 262.6,398.3 262.7,400.2 262.8,394.8 262.9,402.7 263.0,398.9 263.1,393.3 263.2,400.2 263.3,403.9 263.4,396.2 263.5,400.3 263.6,395.2 263.7,400.8 263.8,395.2 263.9,401.8 264.0,402.4 264.1,404.5 264.2,404.2 264.3,404.6 264.4,400.2 264.5,399.9 264.6,395.1 264.7,403.6 264.8,396.6 264.9,402.6 265.0,399.9 265.1,401.2 265.2,397.0 265.3,403.0 265.4,400.4 265.5,404.6 265.7,391.2 265.8,398.7 265.9,397.1 266.0,401.0 266.1,392.4 266.2,398.0 266.3,393.2 266.4,397.1 266.5,397.9 266.6,403.9 266.7,400.6 266.8,393.9 266.9,390.6 267.0,407.4 267.1,392.5 267.2,400.4 267.3,394.0 267.4,401.6 267.5,387.5 267.6,397.5 267.7,397.6 267.8,401.4 267.9,397.1 268.0,401.5 268.1,407.3 268.2,404.2 268.3,392.8 268.4,398.0 268.5,396.0 268.6,398.3 268.7,391.2 268.8,396.5 268.9,390.5 269.0,390.4 269.1,390.7 269.2,393.3 269.3,395.5 269.4,395.3 269.5,394.4 269.6,393.4 269.7,394.0 269.8,401.3 269.9,391.0 270.0,398.3 270.1,395.2 270.2,400.2 270.3,397.1 270.5,400.3 270.6,385.8 270.7,396.5 270.8,389.7 270.9,395.4 271.0,390.2 271.1,399.3 271.2,389.0 271.3,394.1 271.4,386.4 271.5,389.6 271.6,382.8 271.7,395.2 271.8,397.2 271.9,401.4 272.0,395.9 272.1,396.7 272.2,391.9 272.3,394.2 272.4,394.1 272.5,397.3 272.6,393.4 272.7,400.6 272.8,395.0 272.9,400.7 273.0,396.4 273.1,394.7 273.2,391.4 273.3,396.6 273.4,394.6 273.5,395.4 273.6,393.4 273.7,391.5 273.8,390.6 273.9,394.7 274.0,394.0 274.1,394.0 274.2,389.4 274.3,391.9 274.4,393.1 274.5,396.3 274.6,396.7 274.7,400.8 274.8,394.3 274.9,393.3 275.0,387.4 275.1,390.8 275.3,390.9 275.4,398.4 275.5,394.5 275.6,398.2 275.7,394.6 275.8,396.5 275.9,386.9 276.0,396.2 276.1,392.6 276.2,396.2 276.3,386.3 276.4,394.5 276.5,388.3 276.6,395.7 276.7,396.0 276.8,400.0 276.9,393.5 277.0,393.4 277.1,391.4 277.2,399.3 277.3,392.7 277.4,398.9 277.5,394.7 277.6,398.9 277.7,395.6 277.8,398.1 277.9,391.4 278.0,392.9 278.1,388.0 278.2,390.4 278.3,389.7 278.4,400.2 278.5,396.9 278.6,397.7 278.7,391.0 278.8,395.3 278.9,391.9 279.0,393.4 279.1,390.2 279.2,393.6 279.3,392.2 279.4,393.9 279.5,394.7 279.6,392.9 279.7,390.6 279.8,393.8 279.9,390.1 280.1,396.2 280.2,384.1 280.3,390.2 280.4,387.9 280.5,387.3 280.6,389.8 280.7,395.7 280.8,388.9 280.9,397.2 281.0,393.9 281.1,394.9 281.2,387.8 281.3,395.1 281.4,402.8 281.5,397.1 281.6,391.7 281.7,397.8 281.8,390.0 281.9,398.1 282.0,390.7 282.1,396.9 282.2,393.3 282.3,400.5 282.4,394.3 282.5,396.1 282.6,393.9 282.7,396.2 282.8,393.8 282.9,394.1 283.0,395.1 283.1,402.7 283.2,395.5 283.3,404.6 283.4,391.8 283.5,392.9 283.6,392.9 283.7,397.1 283.8,391.8 283.9,394.2 284.0,386.7 284.1,399.5 284.2,396.7 284.3,396.2 284.4,390.4 284.5,395.7 284.6,398.7 284.7,402.7 284.9,394.9 285.0,396.1 285.1,395.4 285.2,397.9 285.3,393.6 285.4,397.6 285.5,394.1 285.6,399.1 285.7,392.1 285.8,395.0 285.9,390.9 286.0,399.8 286.1,390.4 286.2,397.2 286.3,388.0 286.4,392.8 286.5,390.2 286.6,391.8 286.7,393.5 286.8,398.2 286.9,393.4 287.0,396.9 287.1,405.4 287.2,400.4 287.3,381.5 287.4,394.7 287.5,387.4 287.6,396.6 287.7,387.5 287.8,399.4 287.9,392.8 288.0,395.1 288.1,391.1 288.2,396.8 288.3,397.4 288.4,398.9 288.5,398.0 288.6,401.7 288.7,398.0 288.8,402.2 288.9,394.2 289.0,396.9 289.1,397.1 289.2,402.1 289.3,396.8 289.4,395.3 289.5,390.7 289.7,396.1 289.8,390.8 289.9,396.5 290.0,390.1 290.1,392.0 290.2,383.9 290.3,392.0 290.4,381.6 290.5,391.4 290.6,389.8 290.7,394.4 290.8,384.0 290.9,386.3 291.0,387.4 291.1,390.2 291.2,386.1 291.3,392.0 291.4,394.2 291.5,390.1 291.6,386.3 291.7,390.0 291.8,387.4 291.9,396.2 292.0,391.3 292.1,395.7 292.2,390.5 292.3,394.2 292.4,386.9 292.5,394.0 292.6,383.5 292.7,388.9 292.8,383.8 292.9,398.8 293.0,391.2 293.1,399.6 293.2,387.0 293.3,391.6 293.4,384.3 293.5,390.9 293.6,381.4 293.7,386.1 293.8,377.2 293.9,392.6 294.0,386.8 294.1,391.5 294.2,384.9 294.3,389.7 294.5,384.6 294.6,393.9 294.7,389.7 294.8,389.7 294.9,387.0 295.0,392.0 295.1,387.4 295.2,389.1 295.3,384.5 295.4,388.4 295.5,387.6 295.6,395.7 295.7,389.8 295.8,392.5 295.9,381.2 296.0,392.5 296.1,388.4 296.2,393.8 296.3,392.6 296.4,394.9 296.5,387.7 296.6,388.9 296.7,386.8 296.8,385.5 296.9,377.7 297.0,384.6 297.1,385.7 297.2,389.7 297.3,387.9 297.4,394.3 297.5,391.1 297.6,397.3 297.7,393.4 297.8,394.0 297.9,389.3 298.0,392.7 298.1,383.2 298.2,387.4 298.3,381.6 298.4,388.3 298.5,380.9 298.6,389.4 298.7,382.6 298.8,390.2 298.9,381.0 299.0,383.1 299.1,385.1 299.3,392.3 299.4,389.1 299.5,391.4 299.6,385.3 299.7,385.4 299.8,376.8 299.9,386.8 300.0,385.1 300.1,392.7 300.2,384.8 300.3,387.4 300.4,385.6 300.5,390.0 300.6,387.5 300.7,386.9 300.8,379.7 300.9,387.1 301.0,382.7 301.1,387.9 301.2,386.7 301.3,390.7 301.4,384.4 301.5,388.8 301.6,378.6"/>
<polyline fill="none" stroke="#f00000" stroke-width="0.9" stroke-opacity="1.0" stroke-linejoin="bevel" points="56.6,408.1 56.7,407.4 56.8,411.2 56.9,407.2 57.0,414.8 57.1,410.4 57.2,410.9 57.3,407.2 57.4,413.7 57.5,414.8 57.6,414.0 57.7,407.6 57.8,410.5 57.9,412.2 58.0,415.3 58.1,413.0 58.2,418.3 58.3,408.8 58.4,408.8 58.5,403.8 58.6,414.6 58.7,408.6 58.8,411.9 58.9,407.6 59.1,407.6 59.2,402.6 59.3,411.6 59.4,410.3 59.5,413.8 59.6,406.4 59.7,411.8 59.8,402.2 59.9,414.9 60.0,415.0 60.1,422.2 60.2,413.1 60.3,415.8 60.4,410.7 60.5,419.5 60.6,412.1 60.7,412.4 60.8,407.9 60.9,414.5 61.0,405.9 61.1,410.1 61.2,408.1 61.3,414.3 61.4,406.3 61.5,407.3 61.6,402.5 61.7,407.3 61.8,404.6 61.9,412.2 62.0,406.9 62.1,411.4 62.2,403.2 62.3,409.9 62.4,403.2 62.5,414.1 62.6,401.4 62.7,411.7 62.8,400.7 62.9,411.0 63.0,403.9 63.1,407.8 63.2,399.7 63.3,416.2 63.4,412.2 63.5,415.0 63.6,407.1 63.7,418.5 63.9,406.1 64.0,412.5 64.1,408.3 64.2,413.3 64.3,407.8 64.4,409.9 64.5,408.6 64.6,406.6 64.7,400.7 64.8,404.6 64.9,399.7 65.0,410.4 65.1,408.8 65.2,408.4 65.3,404.7 65.4,408.2 65.5,410.6 65.6,407.5 65.7,408.6 65.8,415.1 65.9,408.6 66.0,409.8 66.1,405.8 66.2,409.4 66.3,407.6 66.4,416.6 66.5,407.4 66.6,413.6 66.7,410.2 66.8,412.9 66.9,412.3 67.0,413.7 67.1,409.1 67.2,404.4 67.3,402.1 67.4,407.9 67.5,399.4 67.6,404.3 67.7,401.5 67.8,406.3 67.9,397.2 68.0,406.9 68.1,394.6 68.2,405.1 68.3,402.5 68.4,408.6 68.5,408.1 68.7,410.3 68.8,409.5 68.9,411.4 69.0,404.9 69.1,411.7 69.2,404.1 69.3,416.1 69.4,407.9 69.5,408.0 69.6,406.0 69.7,409.3 69.8,406.1 69.9,409.2 70.0,413.3 70.1,410.9 70.2,402.1 70.3,409.1 70.4,402.7 70.5,405.1 70.6,399.6 70.7,406.6 70.8,401.6 70.9,406.8 71.0,398.9 71.1,399.4 71.2,396.0 71.3,407.5 71.4,403.5 71.5,408.0 71.6,413.9 71.7,398.9 71.8,396.9 71.9,398.5 72.0,395.0 72.1,408.5 72.2,403.7 72.3,399.1 72.4,398.6 72.5,403.5 72.6,404.0 72.7,408.0 72.8,400.6 72.9,403.6 73.0,394.8 73.1,403.9 73.2,398.9 73.3,398.6 73.5,392.8 73.6,397.5 73.7,400.2 73.8,402.3 73.9,396.6 74.0,396.1 74.1,392.2 74.2,396.2 74.3,393.4 74.4,406.2 74.5,394.5 74.6,395.4 74.7,395.8 74.8,400.8 74.9,398.1 75.0,391.7 75.1,390.9 75.2,395.5 75.3,395.7 75.4,395.5 75.5,389.9 75.6,397.1 75.7,394.5 75.8,383.0 75.9,384.8 76.0,391.7 76.1,388.7 76.2,394.5 76.3,390.9 76.4,396.4 76.5,388.1 76.6,397.6 76.7,393.4 76.8,394.8 76.9,387.8 77.0,389.8 77.1,389.7 77.2,395.0 77.3,385.4 77.4,386.9 77.5,390.7 77.6,399.9 77.7,402.3 77.8,404.2 77.9,398.8 78.0,406.7 78.1,393.3 78.3,390.8 78.4,392.3 78.5,393.4 78.6,391.2 78.7,398.2 78.8,386.9 78.9,391.7 79.0,391.7 79.1,399.1 79.2,399.6 79.3,400.1 79.4,399.5 79.5,401.6 79.6,399.2 79.7,399.2 79.8,394.5 79.9,393.4 80.0,390.6 80.1,403.2 80.2,389.8 80.3,399.5 80.4,391.1 80.5,387.8 80.6,389.2 80.7,392.1 80.8,387.7 80.9,394.1 81.0,390.7 81.1,398.2 81.2,394.2 81.3,393.2 81.4,396.7 81.5,396.9 81.6,394.8 81.7,397.4 81.8,395.4 81.9,400.2 82.0,397.0 82.1,402.8 82.2,394.7 82.3,401.1 82.4,397.5 82.5,400.0 82.6,391.7 82.7,391.6 82.8,387.6 82.9,403.4 83.1,388.2 83.2,392.0 83.3,390.1 83.4,399.8 83.5,394.8 83.6,394.8 83.7,390.2 83.8,392.5 83.9,390.7 84.0,395.6 84.1,392.6 84.2,394.9 84.3,391.9 84.4,397.3 84.5,394.1 84.6,401.3 84.7,388.3 84.8,397.3 84.9,387.6 85.0,401.6 85.1,386.1 85.2,391.7 85.3,380.1 85.4,384.5 85.5,385.2 85.6,390.8 85.7,389.8 85.8,388.7 85.9,388.2 86.0,399.3 86.1,386.5 86.2,378.0 86.3,382.3 86.4,383.7 86.5,384.5 86.6,388.1 86.7,383.0 86.8,386.8 86.9,385.2 87.0,396.1 87.1,390.0 87.2,393.6 87.3,383.0 87.4,384.0 87.5,379.9 87.6,392.0 87.7,381.2 87.9,390.1 88.0,387.9 88.1,381.9 88.2,385.6 88.3,388.6 88.4,384.4 88.5,387.4 88.6,381.5 88.7,390.2 88.8,387.0 88.9,391.7 89.0,385.2 89.1,390.7 89.2,383.8 89.3,386.8 89.4,381.2 89.5,388.2 89.6,382.3 89.7,391.7 89.8,388.4 89.9,392.5 90.0,383.9 90.1,388.4 90.2,380.6 90.3,386.2 90.4,382.5 90.5,388.0 90.6,382.4 90.7,384.4 90.8,380.6 90.9,387.1 91.0,382.1 91.1,389.6 91.2,385.2 91.3,390.2 91.4,386.1 91.5,394.0 91.6,385.7 91.7,388.0 91.8,388.3 91.9,394.5 92.0,384.1 92.1,390.8 92.2,388.5 92.3,382.9 92.4,385.9 92.5,389.1 92.7,403.4 92.8,395.8 92.9,389.7 93.0,396.5 93.1,391.5 93.2,397.5 93.3,384.6 93.4,387.3 93.5,382.2 93.6,386.0 93.7,391.2 93.8,388.8 93.9,390.9 94.0,390.8 94.1,384.9 94.2,386.7 94.3,382.6 94.4,390.0 94.5,388.4 94.6,397.6 94.7,385.3 94.8,384.1 94.9,385.2 95.0,389.6 95.1,383.0 95.2,391.8 95.3,388.9 95.4,392.3 95.5,387.9 95.6,392.5 95.7,384.1 95.8,388.8 95.9,385.3 96.0,391.9 96.1,386.7 96.2,389.3 96.3,384.7 96.4,387.7 96.5,381.6 96.6,386.7 96.7,387.2 96.8,394.5 96.9,385.4 97.0,395.0 97.1,384.5 97.2,388.9 97.3,385.3 97.5,389.3 97.6,382.2 97.7,391.5 97.8,386.3 97.9,390.5 98.0,387.7 98.1,386.2 98.2,383.4 98.3,387.8 98.4,384.7 98.5,388.6 98.6,384.1 98.7,383.2 98.8,378.2 98.9,386.0 99.0,381.7 99.1,390.8 99.2,385.1 99.3,387.6 99.4,382.6 99.5,392.2 99.6,384.0 99.7,390.0 99.8,386.4 99.9,391.0 100.0,379.4 100.1,385.9 100.2,387.3 100.3,394.4 100.4,387.8 100.5,386.4 100.6,382.5 100.7,392.8 100.8,387.8 100.9,392.0 101.0,391.5 101.1,395.1 101.2,391.1 101.3,390.4 101.4,388.6 101.5,389.1 101.6,384.2 101.7,392.9 101.8,381.6 101.9,391.0 102.0,389.8 102.1,395.3 102.3,388.7 102.4,396.3 102.5,389.5 102.6,394.8 102.7,388.1 102.8,385.0 102.9,382.3 103.0,392.6 103.1,389.6 103.2,379.3 103.3,378.3 103.4,391.6 103.5,390.1 103.6,400.1 103.7,387.9 103.8,391.2 103.9,387.6 104.0,391.9 104.1,381.5 104.2,391.5 104.3,388.3 104.4,395.7 104.5,387.8 104.6,398.0 104.7,392.6 104.8,398.3 104.9,391.0 105.0,398.1 105.1,391.2 105.2,398.4 105.3,393.9 105.4,401.4 105.5,394.0 105.6,396.7 105.7,388.5 105.8,395.0 105.9,391.2 106.0,400.7 106.1,392.5 106.2,393.2 106.3,386.6 106.4,399.4 106.5,388.9 106.6,393.4 106.7,384.4 106.8,399.3 106.9,391.6 107.1,397.9 107.2,389.0 107.3,394.4 107.4,396.3 107.5,398.6 107.6,392.5 107.7,403.1 107.8,396.1 107.9,398.5 108.0,392.4 108.1,393.8 108.2,389.5 108.3,392.6 108.4,380.0 108.5,396.3 108.6,395.0 108.7,397.3 108.8,393.6 108.9,397.6 109.0,392.7 109.1,396.6 109.2,390.7 109.3,400.3 109.4,396.8 109.5,398.6 109.6,391.3 109.7,395.2 109.8,394.0 109.9,397.4 110.0,389.1 110.1,402.7 110.2,373.0 110.3,400.4 110.4,385.7 110.5,401.5 110.6,395.0 110.7,397.4 110.8,390.4 110.9,395.5 111.0,386.1 111.1,394.7 111.2,402.2 111.3,404.3 111.4,401.2 111.5,400.0 111.6,392.2 111.7,389.5 111.9,392.7 112.0,399.2 112.1,390.3 112.2,393.9 112.3,391.6 112.4,399.9 112.5,391.9 112.6,393.0 112.7,392.1 112.8,395.8 112.9,389.4 113.0,393.0 113.1,388.1 113.2,395.6 113.3,393.4 113.4,399.8 113.5,395.4 113.6,403.9 113.7,394.4 113.8,399.4 113.9,396.1 114.0,401.0 114.1,401.9 114.2,399.2 114.3,396.2 114.4,397.1 114.5,400.1 114.6,400.8 114.7,392.4 114.8,397.5 114.9,388.7 115.0,396.8 115.1,394.4 115.2,405.2 115.3,398.2 115.4,401.4 115.5,392.6 115.6,397.0 115.7,396.0 115.8,397.1 115.9,397.1 116.0,404.2 116.1,397.8 116.2,395.4 116.3,394.3 116.4,397.3 116.5,394.1 116.7,401.3 116.8,394.1 116.9,397.9 117.0,395.0 117.1,405.4 117.2,391.8 117.3,391.8 117.4,387.1 117.5,394.0 117.6,395.4 117.7,402.6 117.8,385.3 117.9,387.5 118.0,386.1 118.1,397.0 118.2,388.2 118.3,392.9 118.4,380.4 118.5,397.2 118.6,394.0 118.7,389.5 118.8,385.9 118.9,391.7 119.0,385.4 119.1,391.3 119.2,386.4 119.3,392.2 119.4,385.9 119.5,391.7 119.6,384.0 119.7,391.9 119.8,388.9 119.9,394.1 120.0,383.3 120.1,388.6 120.2,384.3 120.3,393.7 120.4,387.6 120.5,391.7 120.6,386.9 120.7,388.6 120.8,382.4 120.9,379.7 121.0,379.2 121.1,383.0 121.2,381.6 121.3,378.3 121.4,376.0 121.6,389.2 121.7,386.8 121.8,389.3 121.9,380.8 122.0,385.1 122.1,383.2 122.2,383.7 122.3,375.0 122.4,386.6 122.5,386.3 122.6,386.8 122.7,381.8 122.8,388.3 122.9,384.5 123.0,386.0 123.1,385.7 123.2,389.7 123.3,388.2 123.4,390.1 123.5,385.0 123.6,387.5 123.7,379.9 123.8,389.3 123.9,390.4 124.0,394.0 124.1,390.3 124.2,389.8 124.3,383.2 124.4,386.6 124.5,380.6 124.6,384.4 124.7,380.0 124.8,383.3 124.9,382.6 125.0,388.5 125.1,389.9 125.2,388.6 125.3,385.8 125.4,384.3 125.5,377.5 125.6,381.5 125.7,376.4 125.8,384.5 125.9,380.3 126.0,383.8 126.1,377.7 126.2,387.2 126.4,382.8 126.5,386.3 126.6,381.3 126.7,377.4 126.8,371.4 126.9,380.1 127.0,379.9 127.1,390.7 127.2,381.9 127.3,384.3 127.4,378.0 127.5,381.1 127.6,375.3 127.7,383.0 127.8,376.4 127.9,382.0 128.0,372.2 128.1,382.1 128.2,373.1 128.3,378.8 128.4,373.9 128.5,382.6 128.6,374.8 128.7,380.4 128.8,376.6 128.9,385.5 129.0,386.4 129.1,386.5 129.2,378.3 129.3,379.8 129.4,389.5 129.5,380.0 129.6,383.2 129.7,384.8 129.8,382.2 129.9,384.5 130.0,381.1 130.1,385.1 130.2,378.0 130.3,385.0 130.4,376.0 130.5,382.2 130.6,373.9 130.7,381.7 130.8,380.3 130.9,384.0 131.0,380.7 131.2,383.6 131.3,379.4 131.4,378.8 131.5,377.5 131.6,379.1 131.7,375.4 131.8,379.3 131.9,382.5 132.0,384.7 132.1,378.0 132.2,385.3 132.3,377.9 132.4,384.4 132.5,382.9 132.6,387.5 132.7,380.1 132.8,380.2 132.9,377.7 133.0,384.8 133.1,369.0 133.2,387.0 133.3,376.5 133.4,377.7 133.5,371.2 133.6,379.2 133.7,373.1 133.8,382.9 133.9,376.1 134.0,382.2 134.1,378.3 134.2,385.0 134.3,376.1 134.4,377.1 134.5,371.3 134.6,381.1 134.7,372.7 134.8,383.1 134.9,380.1 135.0,370.2 135.1,373.3 135.2,384.6 135.3,369.2 135.4,375.9 135.5,369.9 135.6,378.3 135.7,366.3 135.8,374.7 136.0,373.6 136.1,380.9 136.2,379.9 136.3,381.3 136.4,376.3 136.5,377.2 136.6,369.4 136.7,380.1 136.8,377.4 136.9,380.2 137.0,380.3 137.1,370.9 137.2,371.4 137.3,367.9 137.4,368.1 137.5,371.4 137.6,371.0 137.7,374.4 137.8,370.6 137.9,382.1 138.0,377.2 138.1,380.5 138.2,363.9 138.3,371.9 138.4,360.6 138.5,369.2 138.6,367.7 138.7,377.3 138.8,369.4 138.9,367.7 139.0,367.4 139.1,366.4 139.2,353.0 139.3,369.8 139.4,360.1 139.5,367.8 139.6,368.2 139.7,376.4 139.8,370.5 139.9,369.9 140.0,362.2 140.1,368.0 140.2,370.7 140.3,380.2 140.4,373.6 140.5,371.2 140.6,368.6 140.8,370.1 140.9,373.1 141.0,377.7 141.1,375.2 141.2,383.0 141.3,375.8 141.4,376.0 141.5,366.7 141.6,372.9 141.7,364.7 141.8,377.4 141.9,372.1 142.0,370.2 142.1,371.2 142.2,372.0 142.3,370.8 142.4,376.1 142.5,372.2 142.6,372.5 142.7,368.8 142.8,370.9 142.9,364.9 143.0,381.6 143.1,375.9 143.2,378.6 143.3,373.1 143.4,377.1 143.5,372.4 143.6,383.2 143.7,374.8 143.8,376.4 143.9,372.5 144.0,380.1 144.1,374.2 144.2,375.1 144.3,367.9 144.4,371.7 144.5,364.7 144.6,373.0 144.7,371.9 144.8,375.3 144.9,370.4 145.0,375.9 145.1,372.7 145.2,372.9 145.3,375.8 145.4,380.3 145.6,379.2 145.7,379.9 145.8,376.1 145.9,377.5 146.0,374.1 146.1,376.4 146.2,374.5 146.3,377.4 146.4,375.2 146.5,382.5 146.6,368.3 146.7,371.4 146.8,367.7 146.9,378.9 147.0,375.1 147.1,375.4 147.2,374.3 147.3,378.2 147.4,369.1 147.5,375.2 147.6,365.3 147.7,379.0 147.8,376.7 147.9,384.3 148.0,382.0 148.1,371.1 148.2,375.2 148.3,381.8 148.4,373.1 148.5,385.5 148.6,372.8 148.7,379.4 148.8,378.3 148.9,382.7 149.0,378.9 149.1,386.3 149.2,381.0 149.3,383.8 149.4,377.9 149.5,382.3 149.6,377.9 149.7,380.1 149.8,377.3 149.9,379.6 150.0,379.6 150.1,385.0 150.2,382.7 150.4,384.8 150.5,384.5 150.6,383.7 150.7,380.8 150.8,389.5 150.9,386.6 151.0,389.0 151.1,375.0 151.2,383.4 151.3,377.1 151.4,382.7 151.5,380.0 151.6,382.7 151.7,378.9 151.8,380.6 151.9,376.6 152.0,380.2 152.1,371.9 152.2,379.8 152.3,375.8 152.4,386.1 152.5,379.1 152.6,386.2 152.7,372.9 152.8,380.1 152.9,379.7 153.0,384.0 153.1,381.6 153.2,389.6 153.3,384.3 153.4,386.8 153.5,381.7 153.6,380.2 153.7,377.4 153.8,379.5 153.9,378.1 154.0,381.6 154.1,380.7 154.2,381.7 154.3,383.2 154.4,385.7 154.5,378.6 154.6,380.9 154.7,381.4 154.8,383.8 154.9,381.1 155.0,385.5 155.2,376.7 155.3,368.9 155.4,375.1 155.5,372.8 155.6,378.3 155.7,373.0 155.8,373.6 155.9,378.7 156.0,379.9 156.1,377.7 156.2,371.9 156.3,376.3 156.4,375.0 156.5,385.2 156.6,382.1 156.7,379.0 156.8,376.5 156.9,378.6 157.0,379.7 157.1,381.5 157.2,380.5 157.3,379.0 157.4,373.3 157.5,376.9 157.6,370.9 157.7,375.6 157.8,374.2 157.9,380.3 158.0,380.1 158.1,383.3 158.2,376.9 158.3,382.6 158.4,379.4 158.5,383.2 158.6,378.0 158.7,382.3 158.8,376.4 158.9,381.6 159.0,380.0 159.1,382.9 159.2,363.0 159.3,382.0 159.4,371.5 159.5,383.2 159.6,377.2 159.7,379.1 159.8,375.5 160.0,375.4 160.1,373.4 160.2,378.5 160.3,376.9 160.4,383.0 160.5,381.4 160.6,389.0 160.7,380.0 160.8,389.7 160.9,388.6 161.0,389.9 161.1,381.1 161.2,383.8 161.3,382.4 161.4,382.0 161.5,367.9 161.6,382.7 161.7,386.8 161.8,389.4 161.9,379.6 162.0,383.7 162.1,381.1 162.2,384.8 162.3,383.4 162.4,386.2 162.5,379.9 162.6,389.7 162.7,383.9 162.8,389.9 162.9,390.4 163.0,397.2 163.1,394.7 163.2,399.6 163.3,391.0 163.4,398.5 163.5,393.5 163.6,396.6 163.7,386.3 163.8,393.3 163.9,388.5 164.0,391.8 164.1,390.4 164.2,393.8 164.3,390.6 164.4,394.1 164.5,386.7 164.6,394.9 164.8,393.6 164.9,406.2 165.0,391.4 165.1,395.1 165.2,395.9 165.3,398.3 165.4,396.6 165.5,401.6 165.6,390.8 165.7,395.9 165.8,389.5 165.9,392.7 166.0,388.9 166.1,399.1 166.2,394.2 166.3,394.8 166.4,388.9 166.5,391.5 166.6,389.8 166.7,399.4 166.8,393.2 166.9,402.9 167.0,395.9 167.1,399.5 167.2,393.1 167.3,398.6 167.4,400.5 167.5,401.3 167.6,396.0 167.7,395.2 167.8,392.6 167.9,400.4 168.0,395.8 168.1,397.9 168.2,396.7 168.3,399.5 168.4,394.3 168.5,401.5 168.6,394.4 168.7,401.5 168.8,386.8 168.9,396.1 169.0,391.5 169.1,394.4 169.2,396.2 169.3,403.4 169.4,395.1 169.6,400.9 169.7,395.4 169.8,399.5 169.9,398.2 170.0,403.7 170.1,399.6 170.2,396.7 170.3,392.5 170.4,393.5 170.5,391.4 170.6,394.9 170.7,393.2 170.8,399.7 170.9,396.2 171.0,396.2 171.1,396.2 171.2,404.3 171.3,397.6 171.4,402.6 171.5,397.6 171.6,398.4 171.7,397.7 171.8,399.8 171.9,396.0 172.0,403.3 172.1,399.5 172.2,403.2 172.3,402.1 172.4,405.7 172.5,403.2 172.6,404.3 172.7,401.1 172.8,404.1 172.9,400.6 173.0,405.1 173.1,396.9 173.2,403.8 173.3,398.1 173.4,399.5 173.5,393.9 173.6,392.4 173.7,392.5 173.8,392.2 173.9,391.1 174.0,402.5 174.1,393.5 174.2,396.1 174.4,393.9 174.5,399.5 174.6,393.1 174.7,382.0 174.8,393.1 174.9,392.6 175.0,387.2 175.1,390.1 175.2,393.0 175.3,399.4 175.4,393.5 175.5,391.9 175.6,389.3 175.7,390.5 175.8,391.8 175.9,398.8 176.0,399.0 176.1,400.0 176.2,397.1 176.3,399.9 176.4,392.7 176.5,393.6 176.6,386.7 176.7,390.8 176.8,395.8 176.9,401.8 177.0,395.5 177.1,393.9 177.2,385.8 177.3,403.1 177.4,390.8 177.5,389.6 177.6,388.8 177.7,397.1 177.8,387.6 177.9,393.1 178.0,385.2 178.1,396.5 178.2,380.7 178.3,385.3 178.4,382.3 178.5,387.2 178.6,378.8 178.7,385.1 178.8,381.7 178.9,388.3 179.0,376.0 179.2,381.4 179.3,376.2 179.4,387.1 179.5,386.8 179.6,387.6 179.7,380.7 179.8,381.7 179.9,384.7 180.0,407.2 180.1,387.6 180.2,387.9 180.3,381.0 180.4,384.0 180.5,375.8 180.6,389.7 180.7,381.5 180.8,384.8 180.9,379.9 181.0,385.0 181.1,384.0 181.2,389.5 181.3,381.6 181.4,378.2 181.5,372.2 181.6,380.4 181.7,381.3 181.8,394.4 181.9,387.8 182.0,395.4 182.1,388.6 182.2,391.9 182.3,385.9 182.4,390.9 182.5,385.6 182.6,393.0 182.7,387.4 182.8,389.8 182.9,383.8 183.0,389.5 183.1,385.1 183.2,387.9 183.3,389.9 183.4,393.9 183.5,390.0 183.6,395.1 183.7,386.2 183.8,392.3 184.0,381.7 184.1,396.0 184.2,389.2 184.3,394.5 184.4,384.1 184.5,390.5 184.6,387.8 184.7,388.6 184.8,385.2 184.9,390.8 185.0,386.5 185.1,392.2 185.2,388.1 185.3,389.1 185.4,382.4 185.5,392.5 185.6,386.5 185.7,391.1 185.8,386.7 185.9,393.3 186.0,389.1 186.1,393.6 186.2,386.5 186.3,385.0 186.4,385.7 186.5,392.8 186.6,381.8 186.7,375.7 186.8,358.9 186.9,393.2 187.0,379.7 187.1,395.0 187.2,387.1 187.3,384.2 187.4,382.8 187.5,382.2 187.6,379.8 187.7,388.2 187.8,383.1 187.9,388.4 188.0,386.9 188.1,386.5 188.2,381.4 188.3,386.2 188.4,375.7 188.5,380.3 188.6,379.3 188.8,387.6 188.9,384.7 189.0,391.5 189.1,387.0 189.2,384.4 189.3,380.9 189.4,385.0 189.5,381.2 189.6,383.4 189.7,373.0 189.8,399.6 189.9,380.4 190.0,388.0 190.1,379.1 190.2,389.7 190.3,387.5 190.4,391.9 190.5,386.7 190.6,387.9 190.7,388.6 190.8,387.9 190.9,388.3 191.0,386.5 191.1,380.9 191.2,391.4 191.3,384.1 191.4,391.9 191.5,385.1 191.6,391.1 191.7,387.0 191.8,387.6 191.9,381.2 192.0,377.7 192.1,386.4 192.2,387.4 192.3,383.0 192.4,377.1 192.5,381.9 192.6,385.6 192.7,384.5 192.8,401.4 192.9,394.5 193.0,397.3 193.1,389.4 193.2,384.9 193.3,392.6 193.4,395.7 193.6,390.9 193.7,395.5 193.8,385.8 193.9,395.3 194.0,395.5 194.1,394.8 194.2,390.3 194.3,395.1 194.4,390.8 194.5,396.0 194.6,390.8 194.7,400.1 194.8,389.8 194.9,400.5 195.0,397.6 195.1,400.1 195.2,390.1 195.3,388.8 195.4,386.0 195.5,392.3 195.6,387.0 195.7,391.8 195.8,389.1 195.9,392.2 196.0,382.8 196.1,386.1 196.2,380.8 196.3,394.1 196.4,390.8 196.5,398.5 196.6,388.2 196.7,394.9 196.8,382.6 196.9,392.9 197.0,387.1 197.1,388.7 197.2,389.6 197.3,391.4 197.4,386.3 197.5,388.7 197.6,387.8 197.7,387.1 197.8,387.9 197.9,388.0 198.0,392.3 198.1,392.3 198.2,385.8 198.4,395.7 198.5,392.3 198.6,398.6 198.7,389.5 198.8,394.6 198.9,393.8 199.0,402.9 199.1,391.6 199.2,389.4 199.3,380.0 199.4,388.9 199.5,387.7 199.6,397.3 199.7,392.7 199.8,391.4 199.9,389.4 200.0,390.7 200.1,390.9 200.2,396.4 200.3,394.0 200.4,403.6 200.5,395.1 200.6,396.4 200.7,389.2 200.8,392.0 200.9,386.7 201.0,391.5 201.1,388.4 201.2,392.3 201.3,385.4 201.4,393.2 201.5,383.9 201.6,391.3 201.7,385.5 201.8,392.7 201.9,385.6 202.0,394.1 202.1,386.1 202.2,391.3 202.3,384.9 202.4,391.2 202.5,390.0 202.6,396.7 202.7,390.2 202.8,391.1 202.9,391.3 203.0,393.8 203.2,392.4 203.3,403.6 203.4,399.8 203.5,391.8 203.6,384.6 203.7,386.3 203.8,389.8 203.9,393.2 204.0,390.8 204.1,395.2 204.2,390.6 204.3,392.3 204.4,391.7 204.5,390.4 204.6,388.1 204.7,388.0 204.8,387.4 204.9,391.8 205.0,388.7 205.1,385.9 205.2,389.3 205.3,397.0 205.4,393.4 205.5,392.0 205.6,394.5 205.7,396.3 205.8,391.4 205.9,390.5 206.0,385.7 206.1,388.9 206.2,382.8 206.3,386.7 206.4,391.3 206.5,394.0 206.6,397.1 206.7,397.7 206.8,393.5 206.9,393.1 207.0,389.1 207.1,393.9 207.2,401.0 207.3,387.4 207.4,390.5 207.5,392.7 207.6,389.2 207.7,390.3 207.8,388.9 208.0,393.8 208.1,388.7 208.2,391.3 208.3,384.9 208.4,388.3 208.5,383.2 208.6,387.4 208.7,390.6 208.8,392.2 208.9,390.0 209.0,393.4 209.1,393.0 209.2,396.5 209.3,390.4 209.4,393.0 209.5,386.5 209.6,386.5 209.7,381.4 209.8,392.5 209.9,389.9 210.0,394.7 210.1,388.1 210.2,394.6 210.3,389.7 210.4,400.0 210.5,403.5 210.6,396.7 210.7,390.9 210.8,392.8 210.9,391.8 211.0,392.9 211.1,391.0 211.2,391.5 211.3,389.4 211.4,395.0 211.5,392.7 211.6,400.1 211.7,394.0 211.8,396.8 211.9,390.4 212.0,396.3 212.1,394.9 212.2,397.4 212.3,390.8 212.4,389.3 212.5,385.9 212.6,389.8 212.8,390.6 212.9,391.4 213.0,387.1 213.1,389.4 213.2,390.3 213.3,393.5 213.4,390.6 213.5,391.9 213.6,386.3 213.7,393.6 213.8,387.6 213.9,390.3 214.0,380.1 214.1,387.0 214.2,389.9 214.3,394.4 214.4,389.7 214.5,395.7 214.6,390.5 214.7,388.3 214.8,388.6 214.9,394.5 215.0,393.0 215.1,396.8 215.2,393.8 215.3,395.6 215.4,387.4 215.5,386.3 215.6,384.2 215.7,391.7 215.8,385.7 215.9,391.5 216.0,386.4 216.1,392.0 216.2,390.8 216.3,393.9 216.4,389.7 216.5,398.9 216.6,395.6 216.7,395.8 216.8,387.3 216.9,388.9 217.0,388.4 217.1,396.1 217.2,385.9 217.3,392.0 217.4,387.9 217.6,387.1 217.7,376.2 217.8,385.2 217.9,386.8 218.0,388.9 218.1,387.4 218.2,389.4 218.3,388.6 218.4,397.7 218.5,394.4 218.6,400.1 218.7,388.4 218.8,389.8 218.9,382.1 219.0,384.5 219.1,381.8 219.2,386.7 219.3,381.1 219.4,388.7 219.5,387.8 219.6,388.3 219.7,389.1 219.8,387.3 219.9,379.1 220.0,388.0 220.1,384.5 220.2,390.6 220.3,383.1 220.4,386.0 220.5,381.7 220.6,387.4 220.7,384.3 220.8,384.9 220.9,383.6 221.0,391.3 221.1,382.6 221.2,388.4 221.3,380.3 221.4,383.4 221.5,382.5 221.6,390.7 221.7,382.2 221.8,386.3 221.9,382.9 222.0,389.4 222.1,380.6 222.2,388.8 222.4,383.1 222.5,387.0 222.6,384.0 222.7,386.7 222.8,382.0 222.9,388.4 223.0,389.7 223.1,392.3 223.2,383.7 223.3,382.3 223.4,374.3 223.5,387.4 223.6,385.6 223.7,391.1 223.8,384.4 223.9,390.0 224.0,389.2 224.1,397.1 224.2,388.7 224.3,394.4 224.4,389.9 224.5,396.6 224.6,390.8 224.7,391.7 224.8,387.7 224.9,388.1 225.0,383.4 225.1,388.6 225.2,382.5 225.3,388.9 225.4,384.8 225.5,388.1 225.6,383.7 225.7,393.6 225.8,386.4 225.9,394.5 226.0,387.1 226.1,396.6 226.2,389.1 226.3,394.9 226.4,388.6 226.5,392.8 226.6,387.9 226.7,396.6 226.8,388.8 226.9,398.4 227.0,391.8 227.2,399.1 227.3,396.4 227.4,396.7 227.5,391.5 227.6,391.7 227.7,386.4 227.8,389.2 227.9,390.7 228.0,395.6 228.1,389.9 228.2,395.0 228.3,388.4 228.4,392.9 228.5,388.9 228.6,397.3 228.7,393.4 228.8,396.4 228.9,391.7 229.0,401.4 229.1,393.5 229.2,396.9 229.3,390.5 229.4,395.0 229.5,389.7 229.6,391.7 229.7,391.7 229.8,399.1 229.9,397.7 230.0,403.1 230.1,394.1 230.2,370.0 230.3,392.8 230.4,385.9 230.5,397.3 230.6,397.9 230.7,397.0 230.8,397.9 230.9,394.4 231.0,394.7 231.1,393.4 231.2,399.3 231.3,394.3 231.4,402.3 231.5,393.7 231.6,404.5 231.7,391.0 231.8,405.3 232.0,398.6 232.1,398.1 232.2,394.8 232.3,398.2 232.4,398.9 232.5,400.5 232.6,395.8 232.7,401.5 232.8,401.9 232.9,407.6 233.0,400.5 233.1,400.8 233.2,396.0 233.3,399.0 233.4,396.2 233.5,396.3 233.6,386.9 233.7,397.9 233.8,399.5 233.9,406.1 234.0,400.7 234.1,404.2 234.2,399.2 234.3,401.0 234.4,397.6 234.5,399.1 234.6,397.5 234.7,399.3 234.8,393.1 234.9,394.3 235.0,392.3 235.1,400.4 235.2,395.0 235.3,401.8 235.4,397.8 235.5,398.5 235.6,399.0 235.7,401.9 235.8,398.9 235.9,402.9 236.0,402.8 236.1,399.4 236.2,396.8 236.3,398.2 236.4,398.8 236.5,400.4 236.6,401.6 236.8,412.5 236.9,404.9 237.0,406.1 237.1,395.7 237.2,405.2 237.3,397.6 237.4,404.1 237.5,397.7 237.6,398.1 237.7,394.5 237.8,404.4 237.9,393.3 238.0,403.9 238.1,399.7 238.2,399.5 238.3,396.4 238.4,400.9 238.5,400.7 238.6,401.4 238.7,396.5 238.8,400.9 238.9,401.1 239.0,403.6 239.1,389.4 239.2,394.7 239.3,391.0 239.4,397.8 239.5,397.1 239.6,400.4 239.7,395.9 239.8,396.6 239.9,400.8 240.0,404.6 240.1,403.8 240.2,402.7 240.3,397.0 240.4,399.3 240.5,398.1 240.6,402.1 240.7,399.6 240.8,402.1 240.9,398.5 241.0,402.6 241.1,398.4 241.2,400.6 241.3,394.8 241.4,402.9 241.5,397.8 241.7,402.0 241.8,391.2 241.9,395.1 242.0,391.2 242.1,403.7 242.2,400.7 242.3,406.5 242.4,399.8 242.5,404.1 242.6,402.3 242.7,402.8 242.8,395.8 242.9,401.5 243.0,393.9 243.1,396.0 243.2,392.6 243.3,398.1 243.4,399.5 243.5,406.5 243.6,400.8 243.7,410.5 243.8,404.0 243.9,403.6 244.0,401.0 244.1,401.4 244.2,396.7 244.3,407.6 244.4,405.7 244.5,405.4 244.6,403.9 244.7,406.3 244.8,406.1 244.9,406.9 245.0,402.6 245.1,400.6 245.2,394.8 245.3,404.0 245.4,403.6 245.5,405.5 245.6,402.4 245.7,405.2 245.8,397.9 245.9,410.4 246.0,400.8 246.1,406.4 246.2,399.0 246.3,407.5 246.5,398.9 246.6,405.2 246.7,401.9 246.8,403.9 246.9,397.2 247.0,402.3 247.1,396.4 247.2,413.7 247.3,410.3 247.4,401.8 247.5,400.4 247.6,406.4 247.7,409.0 247.8,405.6 247.9,399.5 248.0,405.8 248.1,397.5 248.2,404.7 248.3,398.3 248.4,409.7 248.5,400.2 248.6,405.5 248.7,394.8 248.8,407.6 248.9,390.9 249.0,397.8 249.1,391.2 249.2,399.6 249.3,394.6 249.4,400.4 249.5,393.0 249.6,398.5 249.7,385.2 249.8,406.8 249.9,393.4 250.0,403.5 250.1,396.4 250.2,402.5 250.3,395.6 250.4,403.6 250.5,397.6 250.6,399.4 250.7,387.5 250.8,395.0 250.9,390.6 251.0,393.2 251.1,388.9 251.3,396.5 251.4,396.4 251.5,400.3 251.6,392.2 251.7,388.0 251.8,380.7 251.9,397.0 252.0,388.7 252.1,394.2 252.2,387.7 252.3,396.0 252.4,386.9 252.5,390.5 252.6,378.8 252.7,391.2 252.8,388.3 252.9,391.0 253.0,387.9 253.1,389.6 253.2,378.7 253.3,384.3 253.4,386.6 253.5,397.3 253.6,390.7 253.7,390.8 253.8,389.0 253.9,395.9 254.0,391.0 254.1,395.7 254.2,390.5 254.3,392.9 254.4,387.9 254.5,394.6 254.6,386.2 254.7,391.2 254.8,387.0 254.9,391.4 255.0,390.3 255.1,395.1 255.2,386.5 255.3,394.7 255.4,391.0 255.5,394.4 255.6,387.4 255.7,376.5 255.8,380.6 255.9,387.8 256.1,386.4 256.2,384.8 256.3,380.5 256.4,383.3 256.5,384.1 256.6,388.6 256.7,382.5 256.8,384.4 256.9,382.3 257.0,387.5 257.1,382.7 257.2,381.8 257.3,383.1 257.4,396.1 257.5,388.3 257.6,391.7 257.7,383.3 257.8,388.0 257.9,380.3 258.0,386.1 258.1,382.8 258.2,393.2 258.3,379.7 258.4,385.2 258.5,378.3 258.6,381.7 258.7,377.4 258.8,385.7 258.9,383.5 259.0,384.8 259.1,379.0 259.2,380.8 259.3,377.3 259.4,390.8 259.5,382.4 259.6,383.1 259.7,375.4 259.8,377.7 259.9,375.8 260.0,376.8 260.1,376.1 260.2,377.7 260.3,382.0 260.4,380.3 260.5,382.1 260.6,384.0 260.7,379.3 260.9,380.5 261.0,371.8 261.1,378.8 261.2,374.4 261.3,377.3 261.4,380.8 261.5,385.5 261.6,372.9 261.7,373.1 261.8,366.2 261.9,374.6 262.0,372.4 262.1,372.0 262.2,367.5 262.3,372.3 262.4,367.4 262.5,376.3 262.6,374.8 262.7,376.3 262.8,370.0 262.9,371.7 263.0,374.1 263.1,378.6 263.2,374.9 263.3,373.8 263.4,371.0 263.5,372.9 263.6,375.4 263.7,380.8 263.8,379.3 263.9,377.0 264.0,373.6 264.1,370.2 264.2,368.0 264.3,368.5 264.4,371.2 264.5,376.6 264.6,373.6 264.7,376.4 264.8,370.7 264.9,375.8 265.0,372.1 265.1,377.2 265.2,374.0 265.3,380.9 265.4,372.2 265.5,376.4 265.7,375.8 265.8,377.2 265.9,367.9 266.0,372.7 266.1,371.7 266.2,353.0 266.3,372.4 266.4,363.0 266.5,371.2 266.6,375.9 266.7,373.5 266.8,378.5 266.9,373.2 267.0,379.4 267.1,377.0 267.2,379.3 267.3,374.5 267.4,378.1 267.5,376.1 267.6,383.4 267.7,382.7 267.8,387.6 267.9,383.0 268.0,381.7 268.1,381.5 268.2,381.6 268.3,381.0 268.4,386.0 268.5,383.8 268.6,388.5 268.7,381.7 268.8,387.7 268.9,379.2 269.0,383.5 269.1,382.1 269.2,382.8 269.3,384.3 269.4,382.1 269.5,376.3 269.6,378.7 269.7,378.2 269.8,384.3 269.9,380.7 270.0,387.1 270.1,390.0 270.2,387.2 270.3,387.1 270.5,385.0 270.6,381.4 270.7,387.7 270.8,381.9 270.9,390.1 271.0,382.4 271.1,379.3 271.2,388.4 271.3,388.9 271.4,381.6 271.5,386.8 271.6,385.3 271.7,387.7 271.8,382.2 271.9,391.2 272.0,387.4 272.1,392.0 272.2,378.1 272.3,382.4 272.4,377.8 272.5,385.6 272.6,376.2 272.7,385.5 272.8,377.3 272.9,380.3 273.0,382.0 273.1,382.9 273.2,389.4 273.3,379.4 273.4,374.4 273.5,385.6 273.6,386.9 273.7,387.0 273.8,380.8 273.9,385.6 274.0,384.3 274.1,386.0 274.2,381.2 274.3,391.4 274.4,384.5 274.5,386.8 274.6,375.1 274.7,388.7 274.8,386.6 274.9,393.6 275.0,384.2 275.1,392.2 275.3,388.4 275.4,387.6 275.5,380.8 275.6,384.9 275.7,382.0 275.8,388.9 275.9,380.5 276.0,389.5 276.1,385.0 276.2,389.6 276.3,385.6 276.4,387.0 276.5,384.0 276.6,389.2 276.7,390.1 276.8,394.1 276.9,393.2 277.0,390.3 277.1,386.7 277.2,389.6 277.3,391.3 277.4,396.5 277.5,386.9 277.6,390.2 277.7,385.8 277.8,391.4 277.9,383.4 278.0,385.9 278.1,388.3 278.2,392.6 278.3,389.3 278.4,389.3 278.5,385.1 278.6,390.7 278.7,390.5 278.8,392.8 278.9,388.7 279.0,395.3 279.1,389.8 279.2,396.0 279.3,398.2 279.4,396.3 279.5,389.0 279.6,387.9 279.7,385.3 279.8,394.3 279.9,387.6 280.1,394.5 280.2,388.1 280.3,390.5 280.4,382.3 280.5,384.6 280.6,384.1 280.7,384.6 280.8,382.5 280.9,387.2 281.0,382.8 281.1,387.0 281.2,382.3 281.3,391.0 281.4,383.3 281.5,388.6 281.6,384.9 281.7,384.8 281.8,380.1 281.9,387.3 282.0,384.3 282.1,392.0 282.2,382.5 282.3,395.9 282.4,387.1 282.5,389.9 282.6,389.2 282.7,390.0 282.8,382.8 282.9,390.1 283.0,384.3 283.1,391.3 283.2,384.4 283.3,387.0 283.4,378.7 283.5,390.3 283.6,385.8 283.7,393.6 283.8,388.3 283.9,394.5 284.0,387.5 284.1,389.9 284.2,384.9 284.3,389.6 284.4,387.3 284.5,393.1 284.6,393.6 284.7,393.8 284.9,389.6 285.0,394.6 285.1,389.5 285.2,381.8 285.3,386.4 285.4,393.9 285.5,391.6 285.6,394.6 285.7,383.4 285.8,396.6 285.9,390.6 286.0,394.5 286.1,386.6 286.2,389.8 286.3,388.0 286.4,384.6 286.5,386.9 286.6,388.6 286.7,389.2 286.8,395.8 286.9,389.0 287.0,392.8 287.1,389.1 287.2,395.1 287.3,389.1 287.4,390.8 287.5,383.7 287.6,389.5 287.7,386.9 287.8,383.1 287.9,388.1 288.0,394.5 288.1,390.1 288.2,390.2 288.3,388.0 288.4,392.4 288.5,391.0 288.6,397.3 288.7,396.2 288.8,403.2 288.9,395.1 289.0,391.6 289.1,390.3 289.2,397.3 289.3,397.6 289.4,398.3 289.5,392.5 289.7,390.3 289.8,386.9 289.9,391.4 290.0,387.1 290.1,395.7 290.2,385.8 290.3,399.4 290.4,388.8 290.5,393.4 290.6,391.2 290.7,395.8 290.8,392.5 290.9,396.2 291.0,393.4 291.1,395.3 291.2,389.5 291.3,392.1 291.4,382.9 291.5,397.2 291.6,387.9 291.7,400.0 291.8,391.9 291.9,406.6 292.0,393.0 292.1,391.6 292.2,388.5 292.3,397.5 292.4,392.2 292.5,401.1 292.6,395.0 292.7,401.8 292.8,398.8 292.9,400.6 293.0,393.3 293.1,392.5 293.2,383.3 293.3,395.0 293.4,388.4 293.5,394.5 293.6,386.7 293.7,398.6 293.8,391.6 293.9,406.1 294.0,400.3 294.1,397.8 294.2,391.1 294.3,396.6 294.5,390.6 294.6,395.7 294.7,387.5 294.8,391.2 294.9,382.1 295.0,400.6 295.1,383.5 295.2,391.2 295.3,389.7 295.4,393.7 295.5,387.6 295.6,392.8 295.7,392.1 295.8,393.8 295.9,390.7 296.0,391.2 296.1,388.2 296.2,391.1 296.3,390.9 296.4,395.0 296.5,391.6 296.6,392.9 296.7,387.9 296.8,391.5 296.9,387.7 297.0,400.5 297.1,393.6 297.2,397.9 297.3,391.6 297.4,393.0 297.5,393.5 297.6,396.2 297.7,391.7 297.8,392.5 297.9,391.6 298.0,393.6 298.1,386.8 298.2,390.2 298.3,387.9 298.4,398.3 298.5,388.9 298.6,397.3 298.7,390.6 298.8,395.5 298.9,392.0 299.0,392.5 299.1,382.6 299.3,384.0 299.4,384.4 299.5,393.3 299.6,389.6 299.7,390.7 299.8,387.4 299.9,390.0 300.0,379.2 300.1,389.6 300.2,385.3 300.3,385.9 300.4,385.2 300.5,386.0 300.6,384.2 300.7,392.5 300.8,385.3 300.9,397.4 301.0,392.4 301.1,394.3 301.2,388.7 301.3,389.1 301.4,388.3 301.5,392.3 301.6,391.2"/>
<rect x="353.6" y="277.6" width="303.0" height="201.89999999999998" fill="none" stroke="#2c2c2c" stroke-width="1.15"/>
<line x1="388.0" y1="307.2" x2="623.5" y2="307.2" stroke="#888" stroke-width="0.9"/>
<line x1="388.0" y1="449.4" x2="623.5" y2="449.4" stroke="#888" stroke-width="0.9"/>
<line x1="388.0" y1="307.2" x2="388.0" y2="449.4" stroke="#eee" stroke-width="0.6"/>
<line x1="623.5" y1="307.2" x2="623.5" y2="449.4" stroke="#eee" stroke-width="0.6"/>
<rect x="386.6" y="305.8" width="2.8" height="2.8" fill="#000"/>
<rect x="622.1" y="305.8" width="2.8" height="2.8" fill="#000"/>
<rect x="386.6" y="448.0" width="2.8" height="2.8" fill="#000"/>
<rect x="622.1" y="448.0" width="2.8" height="2.8" fill="#000"/>
<text x="386.0" y="451.9" font-family="Liberation Serif" font-size="7" text-anchor="end" fill="#333" font-weight="normal">200</text>
<line x1="388.0" y1="437.54999999999995" x2="390.0" y2="437.54999999999995" stroke="#888" stroke-width="0.6"/>
<line x1="621.5" y1="437.54999999999995" x2="623.5" y2="437.54999999999995" stroke="#888" stroke-width="0.6"/>
<text x="386.0" y="428.2" font-family="Liberation Serif" font-size="7" text-anchor="end" fill="#333" font-weight="normal">250</text>
<line x1="388.0" y1="425.7" x2="393.0" y2="425.7" stroke="#666" stroke-width="0.7"/>
<line x1="618.5" y1="425.7" x2="623.5" y2="425.7" stroke="#666" stroke-width="0.7"/>
<line x1="388.0" y1="413.84999999999997" x2="390.0" y2="413.84999999999997" stroke="#888" stroke-width="0.6"/>
<line x1="621.5" y1="413.84999999999997" x2="623.5" y2="413.84999999999997" stroke="#888" stroke-width="0.6"/>
<text x="386.0" y="404.5" font-family="Liberation Serif" font-size="7" text-anchor="end" fill="#333" font-weight="normal">300</text>
<line x1="388.0" y1="402.0" x2="393.0" y2="402.0" stroke="#666" stroke-width="0.7"/>
<line x1="618.5" y1="402.0" x2="623.5" y2="402.0" stroke="#666" stroke-width="0.7"/>
<line x1="388.0" y1="390.15" x2="390.0" y2="390.15" stroke="#888" stroke-width="0.6"/>
<line x1="621.5" y1="390.15" x2="623.5" y2="390.15" stroke="#888" stroke-width="0.6"/>
<text x="386.0" y="380.79999999999995" font-family="Liberation Serif" font-size="7" text-anchor="end" fill="#333" font-weight="normal">350</text>
<line x1="388.0" y1="378.29999999999995" x2="393.0" y2="378.29999999999995" stroke="#666" stroke-width="0.7"/>
<line x1="618.5" y1="378.29999999999995" x2="623.5" y2="378.29999999999995" stroke="#666" stroke-width="0.7"/>
<line x1="388.0" y1="366.44999999999993" x2="390.0" y2="366.44999999999993" stroke="#888" stroke-width="0.6"/>
<line x1="621.5" y1="366.44999999999993" x2="623.5" y2="366.44999999999993" stroke="#888" stroke-width="0.6"/>
<text x="386.0" y="357.09999999999997" font-family="Liberation Serif" font-size="7" text-anchor="end" fill="#333" font-weight="normal">400</text>
<line x1="388.0" y1="354.59999999999997" x2="393.0" y2="354.59999999999997" stroke="#666" stroke-width="0.7"/>
<line x1="618.5" y1="354.59999999999997" x2="623.5" y2="354.59999999999997" stroke="#666" stroke-width="0.7"/>
<line x1="388.0" y1="342.74999999999994" x2="390.0" y2="342.74999999999994" stroke="#888" stroke-width="0.6"/>
<line x1="621.5" y1="342.74999999999994" x2="623.5" y2="342.74999999999994" stroke="#888" stroke-width="0.6"/>
<text x="386.0" y="333.4" font-family="Liberation Serif" font-size="7" text-anchor="end" fill="#333" font-weight="normal">450</text>
<line x1="388.0" y1="330.9" x2="393.0" y2="330.9" stroke="#666" stroke-width="0.7"/>
<line x1="618.5" y1="330.9" x2="623.5" y2="330.9" stroke="#666" stroke-width="0.7"/>
<line x1="388.0" y1="319.04999999999995" x2="390.0" y2="319.04999999999995" stroke="#888" stroke-width="0.6"/>
<line x1="621.5" y1="319.04999999999995" x2="623.5" y2="319.04999999999995" stroke="#888" stroke-width="0.6"/>
<text x="386.0" y="309.7" font-family="Liberation Serif" font-size="7" text-anchor="end" fill="#333" font-weight="normal">500</text>
<text x="388.0" y="456" font-family="Liberation Serif" font-size="7" text-anchor="middle" fill="#333" font-weight="normal">0</text>
<line x1="411.55" y1="449.4" x2="411.55" y2="447.4" stroke="#888" stroke-width="0.6"/>
<line x1="411.55" y1="307.2" x2="411.55" y2="309.2" stroke="#888" stroke-width="0.6"/>
<text x="435.1" y="456" font-family="Liberation Serif" font-size="7" text-anchor="middle" fill="#333" font-weight="normal">20000</text>
<line x1="435.1" y1="449.4" x2="435.1" y2="445.4" stroke="#666" stroke-width="0.7"/>
<line x1="435.1" y1="307.2" x2="435.1" y2="311.2" stroke="#666" stroke-width="0.7"/>
<line x1="458.65000000000003" y1="449.4" x2="458.65000000000003" y2="447.4" stroke="#888" stroke-width="0.6"/>
<line x1="458.65000000000003" y1="307.2" x2="458.65000000000003" y2="309.2" stroke="#888" stroke-width="0.6"/>
<text x="482.2" y="456" font-family="Liberation Serif" font-size="7" text-anchor="middle" fill="#333" font-weight="normal">40000</text>
<line x1="482.2" y1="449.4" x2="482.2" y2="445.4" stroke="#666" stroke-width="0.7"/>
<line x1="482.2" y1="307.2" x2="482.2" y2="311.2" stroke="#666" stroke-width="0.7"/>
<line x1="505.75" y1="449.4" x2="505.75" y2="447.4" stroke="#888" stroke-width="0.6"/>
<line x1="505.75" y1="307.2" x2="505.75" y2="309.2" stroke="#888" stroke-width="0.6"/>
<text x="529.3" y="456" font-family="Liberation Serif" font-size="7" text-anchor="middle" fill="#333" font-weight="normal">60000</text>
<line x1="529.3" y1="449.4" x2="529.3" y2="445.4" stroke="#666" stroke-width="0.7"/>
<line x1="529.3" y1="307.2" x2="529.3" y2="311.2" stroke="#666" stroke-width="0.7"/>
<line x1="552.8499999999999" y1="449.4" x2="552.8499999999999" y2="447.4" stroke="#888" stroke-width="0.6"/>
<line x1="552.8499999999999" y1="307.2" x2="552.8499999999999" y2="309.2" stroke="#888" stroke-width="0.6"/>
<text x="576.4" y="456" font-family="Liberation Serif" font-size="7" text-anchor="middle" fill="#333" font-weight="normal">80000</text>
<line x1="576.4" y1="449.4" x2="576.4" y2="445.4" stroke="#666" stroke-width="0.7"/>
<line x1="576.4" y1="307.2" x2="576.4" y2="311.2" stroke="#666" stroke-width="0.7"/>
<line x1="599.9499999999999" y1="449.4" x2="599.9499999999999" y2="447.4" stroke="#888" stroke-width="0.6"/>
<line x1="599.9499999999999" y1="307.2" x2="599.9499999999999" y2="309.2" stroke="#888" stroke-width="0.6"/>
<text x="623.5" y="456" font-family="Liberation Serif" font-size="7" text-anchor="middle" fill="#333" font-weight="normal">1e+05</text>
<text x="509" y="466.5" font-family="Liberation Sans" font-size="8.8" text-anchor="middle" fill="#222" font-weight="normal" stroke="#222" stroke-width="0.22" textLength="36.8" lengthAdjust="spacingAndGlyphs">Time (ps)</text>
<text x="370.5" y="380.7" font-family="Liberation Sans" font-size="9" text-anchor="middle" fill="#222" font-weight="normal" stroke="#222" stroke-width="0.22" textLength="34.3" lengthAdjust="spacingAndGlyphs" transform="rotate(-90 370.5 380.7)">Area (nm)</text>
<text x="501.6" y="496.2" font-family="Liberation Sans" font-size="9.6" text-anchor="middle" fill="#222" font-weight="normal" stroke="#222" stroke-width="0.22" textLength="12" lengthAdjust="spacingAndGlyphs">(d)</text>
<polyline fill="none" stroke="#f00000" stroke-width="0.9" stroke-opacity="1.0" stroke-linejoin="bevel" points="388.0,340.5 388.1,335.1 388.2,336.5 388.4,336.8 388.5,340.5 388.6,336.8 388.7,341.1 388.8,337.1 388.9,339.0 389.1,336.8 389.2,341.8 389.3,336.7 389.4,339.0 389.5,333.8 389.6,341.0 389.8,337.6 389.9,347.2 390.0,334.1 390.1,336.9 390.2,329.6 390.4,337.7 390.5,332.9 390.6,340.3 390.7,333.6 390.8,341.6 390.9,335.6 391.1,340.1 391.2,333.1 391.3,335.9 391.4,336.9 391.5,338.7 391.7,332.1 391.8,336.6 391.9,335.4 392.0,337.7 392.1,336.4 392.2,336.6 392.4,333.7 392.5,340.6 392.6,337.4 392.7,340.0 392.8,334.5 392.9,339.9 393.1,329.6 393.2,336.1 393.3,334.5 393.4,337.5 393.5,329.9 393.7,340.0 393.8,332.7 393.9,343.2 394.0,336.2 394.1,347.1 394.2,331.8 394.4,339.0 394.5,332.6 394.6,344.6 394.7,340.0 394.8,343.8 395.0,342.4 395.1,347.1 395.2,335.9 395.3,339.9 395.4,334.7 395.5,342.6 395.7,336.8 395.8,341.1 395.9,338.7 396.0,342.2 396.1,333.7 396.2,345.8 396.4,335.6 396.5,340.9 396.6,340.1 396.7,342.9 396.8,337.0 397.0,340.7 397.1,338.2 397.2,341.6 397.3,333.9 397.4,337.7 397.5,336.2 397.7,337.3 397.8,330.7 397.9,334.7 398.0,333.7 398.1,337.9 398.2,333.7 398.4,337.9 398.5,331.5 398.6,340.7 398.7,335.6 398.8,340.3 399.0,328.7 399.1,336.3 399.2,328.6 399.3,337.3 399.4,333.0 399.5,339.4 399.7,333.9 399.8,335.0 399.9,335.3 400.0,338.2 400.1,335.2 400.3,339.1 400.4,335.6 400.5,339.1 400.6,334.8 400.7,347.2 400.8,335.2 401.0,340.7 401.1,335.7 401.2,343.2 401.3,334.5 401.4,339.1 401.5,336.6 401.7,343.3 401.8,337.6 401.9,341.0 402.0,338.2 402.1,341.8 402.3,333.4 402.4,338.8 402.5,334.7 402.6,342.8 402.7,334.9 402.8,338.7 403.0,331.3 403.1,341.5 403.2,332.2 403.3,342.5 403.4,333.8 403.6,339.8 403.7,336.4 403.8,344.8 403.9,339.4 404.0,342.4 404.1,337.7 404.3,340.4 404.4,336.0 404.5,340.1 404.6,339.5 404.7,344.0 404.8,338.9 405.0,340.5 405.1,337.2 405.2,342.8 405.3,335.0 405.4,342.2 405.6,335.2 405.7,348.0 405.8,341.3 405.9,341.5 406.0,336.4 406.1,339.1 406.3,337.2 406.4,344.2 406.5,334.3 406.6,337.3 406.7,334.3 406.8,340.4 407.0,335.2 407.1,341.0 407.2,333.5 407.3,343.0 407.4,336.8 407.6,342.5 407.7,336.3 407.8,341.9 407.9,332.6 408.0,342.3 408.1,338.7 408.3,339.9 408.4,338.9 408.5,341.5 408.6,335.0 408.7,339.7 408.9,332.7 409.0,341.8 409.1,334.4 409.2,346.2 409.3,339.7 409.4,338.2 409.6,328.5 409.7,341.0 409.8,335.8 409.9,343.1 410.0,335.6 410.1,347.2 410.3,338.9 410.4,341.2 410.5,337.7 410.6,342.1 410.7,333.3 410.9,339.7 411.0,333.6 411.1,341.7 411.2,339.6 411.3,344.2 411.4,337.0 411.6,341.4 411.7,337.7 411.8,339.6 411.9,338.1 412.0,341.6 412.2,334.6 412.3,342.4 412.4,341.0 412.5,345.6 412.6,336.3 412.7,342.2 412.9,337.1 413.0,345.9 413.1,338.0 413.2,344.0 413.3,335.9 413.4,342.7 413.6,336.9 413.7,339.3 413.8,336.4 413.9,339.0 414.0,335.2 414.2,345.0 414.3,335.8 414.4,343.8 414.5,338.7 414.6,337.4 414.7,334.5 414.9,337.7 415.0,339.3 415.1,341.3 415.2,336.0 415.3,342.1 415.4,336.5 415.6,340.4 415.7,339.1 415.8,341.1 415.9,335.2 416.0,336.8 416.2,331.9 416.3,337.7 416.4,333.9 416.5,338.1 416.6,331.2 416.7,334.9 416.9,332.1 417.0,340.7 417.1,332.7 417.2,342.1 417.3,331.6 417.5,344.6 417.6,333.6 417.7,338.0 417.8,336.2 417.9,341.7 418.0,330.2 418.2,342.7 418.3,334.9 418.4,339.5 418.5,333.9 418.6,339.0 418.7,334.7 418.9,339.5 419.0,335.6 419.1,341.9 419.2,337.7 419.3,341.6 419.5,336.1 419.6,343.5 419.7,335.5 419.8,340.7 419.9,337.0 420.0,339.0 420.2,335.8 420.3,345.1 420.4,335.8 420.5,338.2 420.6,331.7 420.8,340.8 420.9,324.5 421.0,339.8 421.1,329.0 421.2,339.6 421.3,337.5 421.5,339.0 421.6,330.1 421.7,337.3 421.8,336.7 421.9,338.8 422.0,331.7 422.2,344.5 422.3,337.0 422.4,342.4 422.5,332.9 422.6,336.9 422.8,336.3 422.9,340.6 423.0,335.5 423.1,341.6 423.2,338.3 423.3,344.7 423.5,334.3 423.6,338.9 423.7,336.2 423.8,339.6 423.9,335.4 424.0,338.6 424.2,333.7 424.3,342.6 424.4,334.3 424.5,339.4 424.6,332.3 424.8,340.2 424.9,338.2 425.0,339.4 425.1,336.7 425.2,340.7 425.3,338.2 425.5,339.3 425.6,335.7 425.7,339.1 425.8,333.3 425.9,340.3 426.1,334.9 426.2,338.4 426.3,331.8 426.4,337.4 426.5,333.4 426.6,339.2 426.8,335.4 426.9,342.8 427.0,335.6 427.1,345.7 427.2,337.6 427.3,337.1 427.5,336.1 427.6,338.1 427.7,338.3 427.8,346.5 427.9,334.6 428.1,338.2 428.2,337.7 428.3,338.8 428.4,334.2 428.5,339.8 428.6,334.9 428.8,339.8 428.9,334.0 429.0,339.9 429.1,331.8 429.2,339.8 429.4,335.6 429.5,338.4 429.6,329.3 429.7,334.7 429.8,329.0 429.9,336.8 430.1,330.5 430.2,334.1 430.3,332.8 430.4,340.7 430.5,328.9 430.6,339.7 430.8,330.8 430.9,338.6 431.0,335.7 431.1,336.2 431.2,333.9 431.4,342.4 431.5,333.9 431.6,337.9 431.7,329.9 431.8,339.5 431.9,335.7 432.1,344.7 432.2,333.4 432.3,342.1 432.4,333.7 432.5,338.3 432.6,333.1 432.8,341.7 432.9,332.9 433.0,342.9 433.1,337.2 433.2,340.6 433.4,335.8 433.5,338.9 433.6,336.3 433.7,344.5 433.8,342.0 433.9,343.0 434.1,339.4 434.2,347.2 434.3,336.9 434.4,339.5 434.5,336.6 434.7,340.4 434.8,335.2 434.9,338.7 435.0,339.1 435.1,343.1 435.2,340.9 435.4,339.3 435.5,333.8 435.6,344.7 435.7,338.7 435.8,346.1 435.9,334.5 436.1,340.9 436.2,334.9 436.3,344.6 436.4,339.2 436.5,345.8 436.7,340.7 436.8,340.6 436.9,338.3 437.0,347.8 437.1,339.6 437.2,346.5 437.4,335.0 437.5,338.8 437.6,330.9 437.7,343.9 437.8,333.4 438.0,340.0 438.1,338.2 438.2,342.3 438.3,336.7 438.4,348.6 438.5,337.6 438.7,353.4 438.8,336.8 438.9,342.8 439.0,335.9 439.1,339.0 439.2,336.8 439.4,351.9 439.5,337.0 439.6,341.2 439.7,333.8 439.8,338.9 440.0,336.7 440.1,346.1 440.2,339.8 440.3,340.3 440.4,337.0 440.5,340.4 440.7,337.8 440.8,341.0 440.9,338.2 441.0,344.3 441.1,337.6 441.2,338.4 441.4,336.9 441.5,339.4 441.6,337.7 441.7,341.3 441.8,336.5 442.0,340.9 442.1,333.2 442.2,338.7 442.3,336.1 442.4,340.9 442.5,339.1 442.7,342.5 442.8,337.3 442.9,346.8 443.0,335.9 443.1,340.6 443.3,338.8 443.4,342.6 443.5,331.6 443.6,340.7 443.7,335.5 443.8,338.7 444.0,330.9 444.1,339.9 444.2,329.8 444.3,339.2 444.4,334.4 444.5,340.5 444.7,337.8 444.8,341.3 444.9,336.7 445.0,338.3 445.1,331.0 445.3,337.3 445.4,339.6 445.5,346.3 445.6,338.8 445.7,339.5 445.8,330.1 446.0,347.3 446.1,333.7 446.2,339.9 446.3,330.9 446.4,342.5 446.6,335.9 446.7,340.6 446.8,333.8 446.9,339.6 447.0,334.0 447.1,339.0 447.3,333.4 447.4,345.8 447.5,335.5 447.6,339.5 447.7,334.0 447.8,338.8 448.0,333.2 448.1,337.9 448.2,329.3 448.3,340.4 448.4,329.9 448.6,342.3 448.7,329.7 448.8,337.7 448.9,332.4 449.0,335.7 449.1,331.0 449.3,335.5 449.4,336.4 449.5,343.0 449.6,328.8 449.7,345.2 449.8,336.5 450.0,338.8 450.1,332.5 450.2,341.2 450.3,332.7 450.4,337.0 450.6,335.9 450.7,339.6 450.8,336.4 450.9,339.8 451.0,333.5 451.1,337.6 451.3,332.7 451.4,341.5 451.5,336.0 451.6,339.7 451.7,335.3 451.9,340.8 452.0,333.2 452.1,340.0 452.2,329.6 452.3,339.0 452.4,333.4 452.6,336.8 452.7,333.0 452.8,340.9 452.9,334.4 453.0,338.3 453.1,333.7 453.3,337.0 453.4,330.1 453.5,334.7 453.6,330.3 453.7,336.8 453.9,332.6 454.0,339.1 454.1,332.9 454.2,336.6 454.3,335.6 454.4,335.2 454.6,329.9 454.7,337.1 454.8,332.2 454.9,341.6 455.0,330.7 455.2,340.0 455.3,333.8 455.4,343.7 455.5,336.7 455.6,336.9 455.7,337.4 455.9,342.7 456.0,335.3 456.1,339.7 456.2,330.5 456.3,338.0 456.4,331.5 456.6,339.3 456.7,333.3 456.8,340.2 456.9,335.0 457.0,337.7 457.2,333.4 457.3,339.0 457.4,333.4 457.5,342.0 457.6,337.6 457.7,339.4 457.9,335.2 458.0,342.7 458.1,333.5 458.2,340.9 458.3,336.1 458.4,342.8 458.6,333.2 458.7,339.6 458.8,335.3 458.9,343.9 459.0,334.6 459.2,338.2 459.3,337.3 459.4,340.2 459.5,336.6 459.6,340.5 459.7,332.9 459.9,343.0 460.0,332.4 460.1,338.3 460.2,336.9 460.3,341.9 460.5,340.3 460.6,348.0 460.7,339.9 460.8,341.9 460.9,340.1 461.0,351.8 461.2,339.4 461.3,341.5 461.4,338.1 461.5,341.2 461.6,336.0 461.7,347.2 461.9,340.4 462.0,341.8 462.1,336.4 462.2,341.9 462.3,338.1 462.5,343.2 462.6,338.0 462.7,345.5 462.8,338.8 462.9,350.2 463.0,330.6 463.2,340.4 463.3,331.2 463.4,338.7 463.5,334.2 463.6,341.5 463.8,340.0 463.9,341.7 464.0,332.6 464.1,343.1 464.2,339.0 464.3,343.0 464.5,332.5 464.6,340.8 464.7,333.3 464.8,341.0 464.9,338.0 465.0,343.6 465.2,335.0 465.3,340.6 465.4,333.5 465.5,341.0 465.6,329.8 465.8,345.2 465.9,334.1 466.0,343.0 466.1,333.0 466.2,346.0 466.3,334.2 466.5,338.8 466.6,338.3 466.7,340.4 466.8,335.3 466.9,341.1 467.0,332.0 467.2,341.0 467.3,331.5 467.4,337.0 467.5,333.0 467.6,339.8 467.8,336.3 467.9,339.9 468.0,333.9 468.1,346.1 468.2,334.6 468.3,340.4 468.5,334.7 468.6,338.1 468.7,333.8 468.8,335.2 468.9,332.9 469.1,338.9 469.2,335.4 469.3,339.6 469.4,333.3 469.5,336.6 469.6,334.9 469.8,338.6 469.9,329.2 470.0,342.8 470.1,332.2 470.2,339.1 470.3,335.0 470.5,337.5 470.6,330.4 470.7,341.2 470.8,333.7 470.9,342.8 471.1,331.3 471.2,337.3 471.3,332.8 471.4,338.2 471.5,338.3 471.6,341.9 471.8,338.5 471.9,343.6 472.0,333.7 472.1,342.0 472.2,336.8 472.4,338.8 472.5,337.1 472.6,343.5 472.7,336.4 472.8,341.4 472.9,331.7 473.1,345.0 473.2,335.0 473.3,340.3 473.4,333.3 473.5,340.2 473.6,336.0 473.8,342.8 473.9,337.4 474.0,343.1 474.1,337.6 474.2,344.3 474.4,336.7 474.5,340.4 474.6,335.7 474.7,339.5 474.8,332.2 474.9,343.0 475.1,337.0 475.2,342.8 475.3,340.1 475.4,342.8 475.5,341.0 475.6,340.6 475.8,332.8 475.9,341.5 476.0,339.2 476.1,342.6 476.2,338.5 476.4,337.8 476.5,331.0 476.6,339.4 476.7,337.8 476.8,340.9 476.9,332.5 477.1,340.1 477.2,334.3 477.3,340.2 477.4,326.1 477.5,341.6 477.7,334.0 477.8,343.0 477.9,335.0 478.0,336.3 478.1,329.2 478.2,337.4 478.4,331.5 478.5,336.6 478.6,335.9 478.7,340.9 478.8,338.9 478.9,340.3 479.1,336.4 479.2,342.9 479.3,332.0 479.4,342.1 479.5,334.0 479.7,337.8 479.8,334.8 479.9,335.1 480.0,330.3 480.1,338.2 480.2,330.8 480.4,338.7 480.5,335.0 480.6,336.2 480.7,336.2 480.8,343.2 481.0,337.6 481.1,340.4 481.2,334.7 481.3,339.1 481.4,336.7 481.5,341.4 481.7,331.4 481.8,338.1 481.9,333.4 482.0,339.2 482.1,337.1 482.2,345.9 482.4,335.5 482.5,340.9 482.6,336.4 482.7,343.4 482.8,338.9 483.0,348.7 483.1,335.5 483.2,340.6 483.3,339.6 483.4,345.9 483.5,339.7 483.7,345.0 483.8,338.4 483.9,340.9 484.0,331.4 484.1,338.8 484.2,336.0 484.4,341.0 484.5,335.0 484.6,342.6 484.7,334.6 484.8,338.7 485.0,337.5 485.1,342.7 485.2,335.0 485.3,340.5 485.4,331.7 485.5,339.2 485.7,329.7 485.8,341.8 485.9,338.6 486.0,338.4 486.1,332.8 486.3,345.2 486.4,336.2 486.5,340.6 486.6,337.1 486.7,343.6 486.8,337.5 487.0,341.8 487.1,334.4 487.2,339.3 487.3,333.0 487.4,341.8 487.5,332.9 487.7,343.6 487.8,336.2 487.9,337.4 488.0,335.4 488.1,336.8 488.3,336.4 488.4,344.2 488.5,336.6 488.6,339.7 488.7,332.1 488.8,336.6 489.0,331.5 489.1,334.1 489.2,332.9 489.3,339.8 489.4,333.4 489.6,341.2 489.7,334.5 489.8,335.1 489.9,333.0 490.0,337.2 490.1,333.0 490.3,335.9 490.4,328.0 490.5,338.5 490.6,333.0 490.7,336.7 490.8,329.8 491.0,342.4 491.1,328.9 491.2,341.9 491.3,334.0 491.4,340.4 491.6,337.9 491.7,349.9 491.8,338.9 491.9,344.1 492.0,334.5 492.1,337.3 492.3,338.2 492.4,337.4 492.5,332.6 492.6,339.4 492.7,331.7 492.8,338.7 493.0,336.4 493.1,341.4 493.2,334.3 493.3,341.3 493.4,338.8 493.6,339.4 493.7,329.8 493.8,339.9 493.9,337.2 494.0,346.3 494.1,337.9 494.3,340.8 494.4,338.1 494.5,340.3 494.6,333.3 494.7,338.1 494.9,334.5 495.0,341.7 495.1,334.7 495.2,345.8 495.3,336.6 495.4,339.2 495.6,342.7 495.7,340.1 495.8,330.8 495.9,338.3 496.0,336.0 496.1,345.2 496.3,337.7 496.4,339.6 496.5,334.3 496.6,346.3 496.7,334.1 496.9,338.2 497.0,335.5 497.1,339.5 497.2,339.5 497.3,338.1 497.4,334.6 497.6,336.1 497.7,337.2 497.8,343.7 497.9,336.8 498.0,342.1 498.2,336.6 498.3,339.9 498.4,334.7 498.5,347.3 498.6,338.2 498.7,342.9 498.9,330.4 499.0,341.2 499.1,338.9 499.2,347.8 499.3,338.4 499.4,343.1 499.6,335.5 499.7,343.2 499.8,332.2 499.9,340.9 500.0,337.6 500.2,342.7 500.3,331.7 500.4,342.4 500.5,334.4 500.6,342.3 500.7,337.2 500.9,338.8 501.0,335.2 501.1,339.2 501.2,331.7 501.3,339.4 501.4,334.0 501.6,340.5 501.7,336.3 501.8,339.1 501.9,331.9 502.0,339.8 502.2,339.3 502.3,341.5 502.4,331.1 502.5,342.0 502.6,337.6 502.7,341.0 502.9,336.8 503.0,343.2 503.1,336.1 503.2,345.6 503.3,337.1 503.5,339.7 503.6,337.3 503.7,343.0 503.8,336.7 503.9,341.7 504.0,333.8 504.2,342.0 504.3,336.4 504.4,342.1 504.5,335.9 504.6,346.0 504.7,332.6 504.9,343.3 505.0,335.9 505.1,341.0 505.2,330.3 505.3,342.2 505.5,334.0 505.6,342.6 505.7,338.4 505.8,350.7 505.9,333.7 506.0,338.9 506.2,337.9 506.3,346.2 506.4,333.6 506.5,337.2 506.6,336.5 506.8,339.6 506.9,336.4 507.0,338.0 507.1,336.3 507.2,342.9 507.3,337.8 507.5,342.5 507.6,332.5 507.7,338.0 507.8,335.9 507.9,340.9 508.0,335.9 508.2,348.4 508.3,338.4 508.4,348.9 508.5,338.9 508.6,343.9 508.8,336.2 508.9,342.8 509.0,337.3 509.1,345.9 509.2,341.1 509.3,342.9 509.5,337.0 509.6,344.6 509.7,335.7 509.8,342.9 509.9,339.9 510.1,341.0 510.2,339.5 510.3,341.3 510.4,336.6 510.5,345.3 510.6,335.4 510.8,338.9 510.9,337.0 511.0,342.4 511.1,336.0 511.2,342.3 511.3,335.7 511.5,340.6 511.6,337.4 511.7,338.2 511.8,336.6 511.9,340.2 512.1,333.1 512.2,348.1 512.3,335.1 512.4,341.0 512.5,330.9 512.6,340.6 512.8,333.7 512.9,338.7 513.0,338.0 513.1,339.6 513.2,340.0 513.3,340.0 513.5,331.6 513.6,338.6 513.7,335.1 513.8,339.5 513.9,334.0 514.1,343.2 514.2,335.4 514.3,339.7 514.4,338.0 514.5,343.6 514.6,337.2 514.8,348.8 514.9,336.9 515.0,341.6 515.1,331.0 515.2,346.3 515.4,342.4 515.5,341.1 515.6,338.6 515.7,339.7 515.8,337.9 515.9,343.7 516.1,331.8 516.2,336.6 516.3,331.8 516.4,337.6 516.5,331.5 516.6,342.8 516.8,337.9 516.9,340.8 517.0,332.5 517.1,341.0 517.2,335.9 517.4,337.1 517.5,335.5 517.6,340.9 517.7,332.7 517.8,340.4 517.9,335.2 518.1,342.7 518.2,332.5 518.3,339.6 518.4,332.9 518.5,340.1 518.7,335.6 518.8,339.5 518.9,333.6 519.0,338.2 519.1,330.5 519.2,340.4 519.4,337.4 519.5,343.1 519.6,339.3 519.7,346.8 519.8,339.7 519.9,345.4 520.1,339.1 520.2,341.0 520.3,333.9 520.4,341.2 520.5,337.0 520.7,339.7 520.8,338.4 520.9,339.3 521.0,336.4 521.1,338.9 521.2,339.7 521.4,342.0 521.5,332.0 521.6,344.8 521.7,333.8 521.8,340.0 521.9,333.1 522.1,342.7 522.2,337.5 522.3,344.2 522.4,338.8 522.5,341.7 522.7,332.0 522.8,339.0 522.9,336.7 523.0,341.3 523.1,336.4 523.2,345.2 523.4,339.1 523.5,344.2 523.6,336.1 523.7,344.8 523.8,337.6 524.0,343.1 524.1,337.5 524.2,341.4 524.3,334.3 524.4,338.5 524.5,332.9 524.7,340.3 524.8,336.4 524.9,337.4 525.0,336.3 525.1,345.0 525.2,339.2 525.4,343.4 525.5,336.7 525.6,340.0 525.7,338.0 525.8,342.2 526.0,336.8 526.1,338.9 526.2,336.1 526.3,338.2 526.4,335.4 526.5,339.6 526.7,332.5 526.8,340.4 526.9,336.8 527.0,342.4 527.1,340.1 527.3,339.5 527.4,334.4 527.5,338.6 527.6,336.6 527.7,340.7 527.8,336.4 528.0,345.7 528.1,338.2 528.2,343.8 528.3,339.2 528.4,347.1 528.5,338.2 528.7,344.1 528.8,340.1 528.9,339.5 529.0,336.9 529.1,340.3 529.3,338.0 529.4,340.7 529.5,330.6 529.6,340.4 529.7,336.1 529.8,340.0 530.0,339.2 530.1,339.9 530.2,330.6 530.3,339.1 530.4,332.1 530.5,343.2 530.7,337.5 530.8,341.8 530.9,336.2 531.0,342.1 531.1,335.7 531.3,342.3 531.4,333.6 531.5,341.5 531.6,329.8 531.7,341.5 531.8,332.8 532.0,343.0 532.1,334.2 532.2,339.4 532.3,331.7 532.4,341.3 532.6,333.1 532.7,340.0 532.8,336.7 532.9,340.7 533.0,336.5 533.1,338.5 533.3,331.4 533.4,339.5 533.5,333.6 533.6,340.7 533.7,337.2 533.8,343.1 534.0,334.7 534.1,338.5 534.2,333.5 534.3,339.1 534.4,336.6 534.6,339.4 534.7,333.9 534.8,337.3 534.9,333.0 535.0,338.7 535.1,333.8 535.3,339.6 535.4,335.1 535.5,340.3 535.6,337.0 535.7,341.9 535.9,334.5 536.0,341.1 536.1,333.3 536.2,343.6 536.3,334.2 536.4,343.4 536.6,336.9 536.7,343.1 536.8,339.1 536.9,339.1 537.0,331.0 537.1,344.4 537.3,335.0 537.4,338.3 537.5,334.6 537.6,337.0 537.7,336.7 537.9,339.7 538.0,336.2 538.1,343.8 538.2,333.8 538.3,340.7 538.4,338.9 538.6,342.5 538.7,337.8 538.8,338.0 538.9,336.9 539.0,338.2 539.1,331.8 539.3,337.3 539.4,335.5 539.5,338.2 539.6,326.0 539.7,341.8 539.9,338.6 540.0,341.2 540.1,334.5 540.2,339.5 540.3,333.5 540.4,338.3 540.6,335.5 540.7,340.0 540.8,338.6 540.9,340.2 541.0,334.8 541.2,338.8 541.3,338.3 541.4,342.6 541.5,335.6 541.6,339.6 541.7,338.3 541.9,339.1 542.0,337.7 542.1,342.4 542.2,337.8 542.3,340.1 542.4,337.7 542.6,343.7 542.7,333.8 542.8,342.8 542.9,334.4 543.0,342.8 543.2,339.1 543.3,343.6 543.4,339.0 543.5,346.7 543.6,338.6 543.7,348.2 543.9,341.1 544.0,342.3 544.1,337.7 544.2,347.6 544.3,338.2 544.5,345.4 544.6,333.1 544.7,340.2 544.8,334.1 544.9,341.2 545.0,334.3 545.2,346.2 545.3,340.2 545.4,347.2 545.5,338.1 545.6,345.4 545.7,339.1 545.9,345.3 546.0,337.8 546.1,339.4 546.2,334.6 546.3,339.2 546.5,337.2 546.6,342.3 546.7,338.4 546.8,341.9 546.9,337.0 547.0,339.6 547.2,337.6 547.3,340.2 547.4,336.7 547.5,342.4 547.6,336.3 547.7,338.7 547.9,337.5 548.0,343.6 548.1,339.9 548.2,342.7 548.3,337.5 548.5,339.9 548.6,335.2 548.7,338.9 548.8,338.1 548.9,341.1 549.0,333.3 549.2,336.4 549.3,335.7 549.4,339.8 549.5,333.2 549.6,343.3 549.8,333.4 549.9,344.0 550.0,333.4 550.1,339.6 550.2,328.9 550.3,343.1 550.5,335.9 550.6,340.2 550.7,336.4 550.8,337.8 550.9,332.5 551.0,339.2 551.2,334.8 551.3,345.2 551.4,338.3 551.5,339.6 551.6,336.9 551.8,337.5 551.9,335.8 552.0,336.7 552.1,333.9 552.2,340.0 552.3,332.7 552.5,336.4 552.6,336.3 552.7,338.0 552.8,338.0 552.9,340.4 553.1,333.8 553.2,340.2 553.3,332.3 553.4,341.5 553.5,336.5 553.6,341.4 553.8,334.9 553.9,340.7 554.0,331.6 554.1,340.9 554.2,337.1 554.3,339.2 554.5,340.5 554.6,341.6 554.7,335.0 554.8,338.7 554.9,335.6 555.1,339.7 555.2,336.8 555.3,338.7 555.4,336.2 555.5,339.5 555.6,337.2 555.8,342.0 555.9,338.0 556.0,341.4 556.1,337.9 556.2,342.7 556.3,338.0 556.5,341.6 556.6,337.3 556.7,344.2 556.8,337.4 556.9,342.5 557.1,339.2 557.2,342.3 557.3,334.7 557.4,342.9 557.5,337.2 557.6,343.4 557.8,327.4 557.9,343.7 558.0,336.5 558.1,341.0 558.2,337.0 558.4,342.6 558.5,333.3 558.6,344.5 558.7,332.4 558.8,338.9 558.9,336.3 559.1,340.2 559.2,336.9 559.3,340.0 559.4,334.3 559.5,340.4 559.6,336.5 559.8,339.7 559.9,338.0 560.0,339.7 560.1,332.7 560.2,339.2 560.4,334.5 560.5,340.4 560.6,337.0 560.7,340.2 560.8,336.4 560.9,336.2 561.1,330.2 561.2,338.3 561.3,336.6 561.4,342.0 561.5,338.5 561.7,340.3 561.8,333.9 561.9,344.6 562.0,334.3 562.1,338.6 562.2,338.2 562.4,344.3 562.5,333.0 562.6,341.5 562.7,333.5 562.8,339.0 562.9,335.0 563.1,338.3 563.2,337.0 563.3,339.5 563.4,332.6 563.5,340.3 563.7,336.8 563.8,340.8 563.9,334.1 564.0,340.1 564.1,335.6 564.2,341.6 564.4,338.8 564.5,344.5 564.6,339.8 564.7,345.6 564.8,337.7 564.9,353.1 565.1,337.2 565.2,341.5 565.3,338.9 565.4,341.9 565.5,339.6 565.7,346.3 565.8,340.4 565.9,350.6 566.0,336.3 566.1,340.3 566.2,332.7 566.4,343.4 566.5,337.2 566.6,340.2 566.7,337.4 566.8,343.5 567.0,333.9 567.1,343.1 567.2,337.4 567.3,342.6 567.4,335.2 567.5,341.5 567.7,336.4 567.8,346.9 567.9,336.1 568.0,339.3 568.1,331.5 568.2,338.3 568.4,338.3 568.5,343.8 568.6,335.1 568.7,339.5 568.8,337.1 569.0,340.0 569.1,335.2 569.2,343.9 569.3,338.0 569.4,341.6 569.5,340.4 569.7,346.2 569.8,336.6 569.9,339.1 570.0,334.1 570.1,338.9 570.3,334.2 570.4,337.9 570.5,335.1 570.6,340.0 570.7,333.1 570.8,346.5 571.0,338.1 571.1,338.9 571.2,336.2 571.3,341.4 571.4,335.9 571.5,337.5 571.7,337.9 571.8,343.3 571.9,338.7 572.0,342.8 572.1,335.7 572.3,341.1 572.4,335.5 572.5,341.4 572.6,336.1 572.7,338.2 572.8,336.1 573.0,339.2 573.1,334.5 573.2,342.4 573.3,334.4 573.4,339.1 573.5,333.0 573.7,343.4 573.8,335.5 573.9,340.5 574.0,337.2 574.1,340.5 574.3,337.7 574.4,342.4 574.5,337.5 574.6,341.0 574.7,333.8 574.8,343.9 575.0,333.6 575.1,342.4 575.2,336.6 575.3,342.7 575.4,336.4 575.6,342.0 575.7,336.4 575.8,345.9 575.9,335.8 576.0,344.2 576.1,332.2 576.3,337.6 576.4,332.6 576.5,342.2 576.6,336.8 576.7,340.5 576.8,331.3 577.0,341.5 577.1,331.0 577.2,341.2 577.3,336.8 577.4,341.8 577.6,335.3 577.7,345.0 577.8,333.8 577.9,344.2 578.0,331.3 578.1,340.8 578.3,338.0 578.4,339.9 578.5,334.5 578.6,341.2 578.7,337.1 578.9,345.3 579.0,339.1 579.1,341.3 579.2,334.9 579.3,341.5 579.4,336.1 579.6,339.2 579.7,338.0 579.8,343.6 579.9,335.9 580.0,342.3 580.1,337.6 580.3,341.5 580.4,337.9 580.5,341.0 580.6,331.9 580.7,341.1 580.9,330.4 581.0,341.7 581.1,335.2 581.2,341.7 581.3,336.6 581.4,345.5 581.6,340.6 581.7,343.0 581.8,340.8 581.9,344.0 582.0,339.6 582.1,342.9 582.3,341.5 582.4,344.1 582.5,334.6 582.6,342.3 582.7,338.3 582.9,344.9 583.0,337.2 583.1,341.4 583.2,341.7 583.3,345.9 583.4,338.7 583.6,339.7 583.7,339.2 583.8,349.6 583.9,337.0 584.0,340.4 584.2,332.0 584.3,341.9 584.4,338.2 584.5,343.1 584.6,339.6 584.7,342.6 584.9,336.5 585.0,344.3 585.1,338.3 585.2,343.3 585.3,338.7 585.4,343.8 585.6,338.3 585.7,341.7 585.8,337.7 585.9,343.0 586.0,335.5 586.2,343.8 586.3,334.7 586.4,346.6 586.5,336.2 586.6,341.7 586.7,338.6 586.9,342.9 587.0,338.5 587.1,341.1 587.2,335.5 587.3,339.4 587.5,334.3 587.6,343.0 587.7,330.7 587.8,353.0 587.9,334.0 588.0,346.5 588.2,335.3 588.3,341.0 588.4,339.1 588.5,338.6 588.6,336.8 588.7,343.8 588.9,338.8 589.0,348.9 589.1,339.7 589.2,338.7 589.3,335.2 589.5,344.4 589.6,339.6 589.7,342.0 589.8,338.6 589.9,342.4 590.0,337.1 590.2,341.9 590.3,334.9 590.4,339.6 590.5,338.0 590.6,341.5 590.7,333.9 590.9,341.3 591.0,334.3 591.1,340.5 591.2,337.0 591.3,338.7 591.5,331.4 591.6,340.9 591.7,334.9 591.8,342.2 591.9,332.1 592.0,340.8 592.2,337.6 592.3,339.7 592.4,335.8 592.5,339.7 592.6,330.5 592.8,337.1 592.9,336.9 593.0,342.6 593.1,337.5 593.2,341.3 593.3,337.4 593.5,340.6 593.6,337.8 593.7,338.3 593.8,336.8 593.9,340.5 594.0,338.7 594.2,345.9 594.3,338.8 594.4,345.8 594.5,341.3 594.6,343.6 594.8,341.2 594.9,342.3 595.0,338.4 595.1,351.4 595.2,338.2 595.3,345.4 595.5,334.1 595.6,344.5 595.7,336.8 595.8,339.5 595.9,333.2 596.1,336.0 596.2,336.3 596.3,343.6 596.4,336.2 596.5,341.8 596.6,331.4 596.8,342.7 596.9,337.4 597.0,340.9 597.1,338.0 597.2,346.1 597.3,340.8 597.5,342.9 597.6,332.1 597.7,340.8 597.8,338.4 597.9,347.3 598.1,335.7 598.2,345.2 598.3,330.9 598.4,339.7 598.5,333.2 598.6,342.3 598.8,326.9 598.9,340.8 599.0,339.3 599.1,342.6 599.2,339.0 599.3,341.9 599.5,339.3 599.6,342.7 599.7,336.9 599.8,340.6 599.9,335.1 600.1,349.7 600.2,329.5 600.3,337.0 600.4,333.0 600.5,339.1 600.6,331.3 600.8,338.5 600.9,335.8 601.0,342.2 601.1,330.5 601.2,341.6 601.4,336.2 601.5,337.4 601.6,333.8 601.7,339.0 601.8,335.0 601.9,341.9 602.1,335.9 602.2,342.0 602.3,340.1 602.4,340.5 602.5,339.7 602.6,341.5 602.8,336.3 602.9,344.6 603.0,339.6 603.1,342.5 603.2,337.2 603.4,343.6 603.5,335.5 603.6,342.7 603.7,339.1 603.8,344.2 603.9,340.1 604.1,342.5 604.2,339.3 604.3,344.3 604.4,334.4 604.5,341.6 604.7,337.7 604.8,340.7 604.9,337.3 605.0,340.5 605.1,333.2 605.2,343.8 605.4,337.4 605.5,340.8 605.6,337.2 605.7,340.9 605.8,328.2 605.9,340.4 606.1,335.8 606.2,345.5 606.3,335.2 606.4,339.6 606.5,331.6 606.7,335.2 606.8,332.8 606.9,344.4 607.0,334.1 607.1,342.1 607.2,336.3 607.4,339.6 607.5,335.0 607.6,341.4 607.7,337.1 607.8,339.4 607.9,339.3 608.1,342.0 608.2,337.3 608.3,345.2 608.4,337.9 608.5,340.4 608.7,332.7 608.8,339.3 608.9,336.8 609.0,346.1 609.1,338.7 609.2,346.9 609.4,334.2 609.5,339.1 609.6,335.8 609.7,343.6 609.8,331.8 610.0,344.3 610.1,338.9 610.2,347.7 610.3,339.6 610.4,347.9 610.5,335.1 610.7,343.2 610.8,336.8 610.9,341.6 611.0,338.2 611.1,339.8 611.2,330.4 611.4,343.1 611.5,333.2 611.6,343.7 611.7,337.2 611.8,340.3 612.0,335.5 612.1,341.4 612.2,332.6 612.3,338.1 612.4,333.9 612.5,340.6 612.7,332.5 612.8,339.8 612.9,333.2 613.0,339.6 613.1,332.9 613.3,339.6 613.4,338.0 613.5,343.8 613.6,334.0 613.7,338.6 613.8,337.5 614.0,340.0 614.1,330.2 614.2,337.1 614.3,332.2 614.4,336.9 614.5,337.5 614.7,344.4 614.8,337.5 614.9,340.8 615.0,336.7 615.1,341.7 615.3,337.2 615.4,343.2 615.5,336.4 615.6,338.0 615.7,334.6 615.8,339.9 616.0,337.8 616.1,341.8 616.2,335.9 616.3,338.9 616.4,332.0 616.5,341.6 616.7,339.2 616.8,346.9 616.9,336.3 617.0,341.1 617.1,336.0 617.3,337.7 617.4,331.1 617.5,339.4 617.6,338.5 617.7,342.8 617.8,335.0 618.0,338.7 618.1,331.5 618.2,345.1 618.3,336.3 618.4,341.1 618.6,339.5 618.7,340.0 618.8,336.9 618.9,343.1 619.0,338.4 619.1,345.0 619.3,339.8 619.4,343.9 619.5,337.1 619.6,344.7 619.7,335.8 619.8,342.8 620.0,338.8 620.1,340.2 620.2,336.4 620.3,341.0 620.4,337.4 620.6,344.7 620.7,338.5 620.8,345.1 620.9,333.5 621.0,339.0 621.1,334.8 621.3,340.8 621.4,335.2 621.5,342.6 621.6,338.2 621.7,343.9 621.9,336.0 622.0,342.0 622.1,336.8 622.2,345.9 622.3,339.3 622.4,342.7 622.6,334.6 622.7,344.3 622.8,337.7 622.9,342.2 623.0,336.0 623.1,340.0 623.3,336.1 623.4,343.5 623.5,338.1"/>
<polyline fill="none" stroke="#0000e6" stroke-width="0.9" stroke-opacity="1.0" stroke-linejoin="bevel" points="388.0,441.7 388.2,440.7 388.4,441.8 388.6,439.3 388.8,440.4 389.0,439.9 389.2,440.7 389.4,438.8 389.6,439.4 389.8,438.2 390.0,439.7 390.2,438.4 390.4,441.0 390.6,438.6 390.8,440.2 391.0,438.7 391.2,440.0 391.4,438.6 391.6,440.7 391.8,438.3 392.0,440.8 392.2,438.7 392.4,438.4 392.6,437.0 392.8,439.3 393.0,437.4 393.2,438.3 393.4,437.7 393.6,439.8 393.8,438.0 394.0,440.9 394.2,439.9 394.4,440.9 394.6,439.6 394.8,441.7 395.0,439.7 395.2,439.2 395.4,438.5 395.6,441.3 395.8,437.8 396.0,439.8 396.2,439.4 396.4,441.2 396.6,439.1 396.8,441.4 397.0,439.4 397.2,440.1 397.4,439.7 397.6,439.8 397.8,439.4 398.0,440.3 398.2,437.3 398.4,440.8 398.6,437.2 398.8,438.8 399.0,437.3 399.2,438.3 399.4,437.9 399.6,440.1 399.8,438.2 400.0,440.0 400.2,439.1 400.4,441.4 400.6,439.4 400.8,440.1 401.0,438.5 401.2,440.8 401.4,438.8 401.6,439.5 401.8,438.2 402.0,438.1 402.2,438.5 402.4,440.3 402.6,437.6 402.8,438.8 403.0,438.3 403.2,439.2 403.4,438.1 403.6,440.0 403.8,436.9 404.0,439.9 404.2,437.2 404.4,440.6 404.6,438.5 404.8,439.0 405.0,438.1 405.2,440.0 405.4,439.2 405.6,441.9 405.8,438.9 406.0,439.4 406.2,437.4 406.4,440.4 406.6,438.7 406.8,441.5 407.0,439.1 407.2,439.1 407.4,439.2 407.6,440.3 407.8,438.5 408.0,441.4 408.2,437.3 408.4,439.3 408.6,436.5 408.8,439.3 409.0,437.8 409.2,438.1 409.4,437.3 409.6,439.0 409.8,435.8 410.0,439.4 410.2,437.6 410.4,440.3 410.6,437.8 410.8,439.3 411.0,437.6 411.2,441.4 411.4,439.8 411.6,439.5 411.8,437.9 412.0,440.5 412.2,437.3 412.4,440.2 412.6,438.3 412.8,439.5 413.0,439.2 413.2,441.0 413.4,440.0 413.6,441.3 413.8,439.4 414.0,441.3 414.2,439.5 414.4,439.7 414.6,439.7 414.8,441.4 415.0,438.8 415.2,440.3 415.4,439.0 415.6,440.5 415.8,438.3 416.0,441.5 416.2,439.1 416.4,441.1 416.6,439.3 416.8,441.4 417.0,438.6 417.2,440.9 417.4,439.1 417.6,441.7 417.8,440.8 418.0,442.2 418.2,440.3 418.4,441.3 418.6,441.2 418.8,440.7 419.0,438.5 419.2,441.3 419.4,438.8 419.6,439.3 419.8,437.2 420.0,439.0 420.2,438.9 420.4,440.7 420.6,438.5 420.8,439.5 421.0,438.8 421.2,440.9 421.4,440.1 421.6,442.6 421.8,440.7 422.0,443.6 422.2,441.1 422.4,443.3 422.6,442.0 422.8,442.2 423.0,440.5 423.2,440.8 423.4,437.8 423.6,441.9 423.8,439.9 424.0,441.2 424.2,440.0 424.4,443.3 424.6,440.5 424.8,442.2 425.0,440.9 425.2,441.3 425.4,439.3 425.6,440.6 425.8,440.4 426.0,441.5 426.2,442.1 426.4,443.2 426.6,440.8 426.8,443.7 427.0,441.9 427.2,442.0 427.3,440.0 427.5,440.5 427.7,439.5 427.9,441.0 428.1,439.5 428.3,441.3 428.5,440.3 428.7,442.0 428.9,441.0 429.1,442.4 429.3,441.7 429.5,443.5 429.7,442.1 429.9,442.7 430.1,442.2 430.3,445.1 430.5,440.2 430.7,442.9 430.9,440.6 431.1,441.9 431.3,439.2 431.5,441.9 431.7,439.2 431.9,441.3 432.1,440.2 432.3,440.4 432.5,439.7 432.7,439.8 432.9,439.4 433.1,440.8 433.3,440.9 433.5,441.8 433.7,440.5 433.9,441.9 434.1,439.7 434.3,442.4 434.5,440.0 434.7,441.6 434.9,439.9 435.1,442.4 435.3,440.4 435.5,441.2 435.7,438.3 435.9,441.9 436.1,439.7 436.3,441.8 436.5,439.7 436.7,442.6 436.9,441.4 437.1,443.0 437.3,441.7 437.5,443.0 437.7,442.3 437.9,442.5 438.1,441.7 438.3,442.4 438.5,440.4 438.7,440.5 438.9,439.7 439.1,441.1 439.3,440.8 439.5,441.8 439.7,441.4 439.9,443.3 440.1,441.0 440.3,441.8 440.5,439.3 440.7,442.3 440.9,440.9 441.1,440.8 441.3,440.5 441.5,440.7 441.7,439.6 441.9,441.5 442.1,439.0 442.3,441.6 442.5,441.0 442.7,440.8 442.9,438.9 443.1,440.0 443.3,437.1 443.5,440.3 443.7,437.7 443.9,440.2 444.1,438.8 444.3,441.0 444.5,438.2 444.7,442.3 444.9,439.6 445.1,440.9 445.3,439.2 445.5,440.8 445.7,439.2 445.9,440.3 446.1,438.4 446.3,440.2 446.5,437.9 446.7,439.4 446.9,438.1 447.1,440.1 447.3,438.7 447.5,440.3 447.7,439.1 447.9,440.7 448.1,439.4 448.3,439.1 448.5,437.5 448.7,439.0 448.9,438.2 449.1,439.8 449.3,439.0 449.5,439.5 449.7,437.3 449.9,438.0 450.1,436.2 450.3,438.9 450.5,436.8 450.7,438.8 450.9,438.2 451.1,439.3 451.3,438.6 451.5,440.0 451.7,437.0 451.9,439.7 452.1,437.2 452.3,437.7 452.5,434.8 452.7,436.5 452.9,436.3 453.1,437.8 453.3,436.5 453.5,437.1 453.7,436.6 453.9,438.5 454.1,437.3 454.3,439.2 454.5,438.3 454.7,438.4 454.9,436.7 455.1,437.9 455.3,437.3 455.5,438.9 455.7,437.2 455.9,438.5 456.1,437.4 456.3,439.4 456.5,438.7 456.7,439.7 456.9,438.1 457.1,438.5 457.3,437.9 457.5,439.1 457.7,437.7 457.9,437.5 458.1,435.4 458.3,437.0 458.5,435.8 458.7,437.7 458.9,437.5 459.1,438.8 459.3,434.6 459.5,439.2 459.7,436.5 459.9,438.5 460.1,437.4 460.3,439.6 460.5,436.0 460.7,438.3 460.9,437.7 461.1,437.9 461.3,436.0 461.5,437.3 461.7,436.2 461.9,438.6 462.1,435.1 462.3,436.6 462.5,433.0 462.7,435.1 462.9,436.1 463.1,438.2 463.3,437.2 463.5,438.0 463.7,438.0 463.9,438.0 464.1,436.6 464.3,437.3 464.5,436.6 464.7,438.2 464.9,437.0 465.1,437.8 465.3,435.6 465.5,437.5 465.7,436.9 465.9,437.5 466.1,434.2 466.3,435.5 466.5,435.6 466.7,436.5 466.9,435.1 467.1,436.4 467.3,435.4 467.5,436.9 467.7,434.1 467.9,437.6 468.1,434.1 468.3,437.0 468.5,434.2 468.7,435.6 468.9,432.3 469.1,436.1 469.3,435.8 469.5,437.4 469.7,435.7 469.9,436.0 470.1,435.5 470.3,437.7 470.5,434.6 470.7,435.6 470.9,434.5 471.1,435.0 471.3,432.2 471.5,436.4 471.7,433.6 471.9,434.8 472.1,434.9 472.3,437.0 472.5,434.5 472.7,436.6 472.9,433.7 473.1,435.1 473.3,434.5 473.5,437.0 473.7,435.6 473.9,435.3 474.1,434.4 474.3,435.7 474.5,435.3 474.7,436.5 474.9,432.7 475.1,435.0 475.3,432.7 475.5,435.9 475.7,434.9 475.9,436.0 476.1,433.5 476.3,433.9 476.5,433.0 476.7,434.7 476.9,433.1 477.1,435.2 477.3,432.5 477.5,434.2 477.7,434.1 477.9,434.4 478.1,433.7 478.3,435.1 478.5,433.7 478.7,436.1 478.9,435.2 479.1,435.6 479.3,433.3 479.5,435.4 479.7,435.3 479.9,435.8 480.1,434.8 480.3,435.0 480.5,434.2 480.7,435.9 480.9,434.0 481.1,436.0 481.3,434.8 481.5,437.0 481.7,435.5 481.9,437.4 482.1,436.1 482.3,437.7 482.5,434.1 482.7,437.2 482.9,434.3 483.1,437.9 483.3,435.0 483.5,435.6 483.7,434.3 483.9,434.3 484.1,433.1 484.3,435.2 484.5,434.5 484.7,435.6 484.9,434.2 485.1,436.5 485.3,434.9 485.5,435.9 485.7,433.7 485.9,436.4 486.1,433.4 486.3,435.5 486.5,434.3 486.7,435.7 486.9,433.0 487.1,434.6 487.3,431.9 487.5,435.2 487.7,434.5 487.9,436.1 488.1,433.1 488.3,436.6 488.5,433.5 488.7,435.7 488.9,432.2 489.1,436.4 489.3,434.8 489.5,434.9 489.7,433.8 489.9,434.9 490.1,433.8 490.3,437.0 490.5,435.2 490.7,438.8 490.9,433.7 491.1,435.5 491.3,434.0 491.5,436.6 491.7,436.2 491.9,438.0 492.1,435.4 492.3,437.6 492.5,435.3 492.7,437.1 492.9,435.0 493.1,436.2 493.3,435.5 493.5,435.8 493.7,435.1 493.9,435.3 494.1,434.6 494.3,435.1 494.5,435.2 494.7,436.7 494.9,433.3 495.1,434.7 495.3,434.9 495.5,435.6 495.7,435.4 495.9,437.5 496.1,434.9 496.3,438.0 496.5,435.6 496.7,437.3 496.9,436.3 497.1,438.8 497.3,435.6 497.5,438.8 497.7,437.8 497.9,438.7 498.1,437.1 498.3,437.1 498.5,435.8 498.7,438.1 498.9,436.0 499.1,435.9 499.3,435.5 499.5,437.0 499.7,435.2 499.9,437.9 500.1,437.4 500.3,438.3 500.5,436.0 500.7,437.0 500.9,435.6 501.1,436.4 501.3,436.4 501.5,437.9 501.7,436.3 501.9,437.6 502.1,435.7 502.3,437.3 502.5,435.7 502.7,438.1 502.9,435.2 503.1,436.5 503.3,435.8 503.5,438.0 503.7,437.8 503.9,437.9 504.1,437.1 504.3,437.6 504.5,435.4 504.7,438.1 504.9,434.4 505.1,437.3 505.3,434.3 505.5,436.0 505.7,434.3 505.8,437.6 506.0,435.9 506.2,437.1 506.4,436.3 506.6,436.7 506.8,434.7 507.0,436.9 507.2,434.6 507.4,435.3 507.6,435.1 507.8,436.3 508.0,434.1 508.2,436.9 508.4,434.5 508.6,437.7 508.8,433.7 509.0,437.1 509.2,436.7 509.4,437.5 509.6,436.6 509.8,435.8 510.0,434.3 510.2,437.3 510.4,436.5 510.6,438.1 510.8,437.0 511.0,437.4 511.2,434.9 511.4,436.3 511.6,433.6 511.8,437.8 512.0,435.4 512.2,436.5 512.4,435.6 512.6,436.3 512.8,436.1 513.0,437.3 513.2,435.7 513.4,435.5 513.6,435.5 513.8,436.2 514.0,435.7 514.2,437.8 514.4,434.8 514.6,436.6 514.8,435.0 515.0,438.2 515.2,436.1 515.4,436.4 515.6,435.9 515.8,436.8 516.0,436.9 516.2,437.6 516.4,436.5 516.6,436.8 516.8,435.1 517.0,436.7 517.2,435.6 517.4,437.3 517.6,436.8 517.8,437.0 518.0,436.0 518.2,437.5 518.4,436.1 518.6,436.3 518.8,435.6 519.0,438.6 519.2,435.7 519.4,438.5 519.6,436.2 519.8,437.2 520.0,435.8 520.2,436.8 520.4,436.1 520.6,436.6 520.8,435.1 521.0,436.1 521.2,436.3 521.4,436.6 521.6,435.4 521.8,436.9 522.0,434.4 522.2,437.3 522.4,435.9 522.6,438.0 522.8,433.8 523.0,437.2 523.2,436.0 523.4,437.4 523.6,434.8 523.8,438.4 524.0,434.8 524.2,436.8 524.4,435.2 524.6,437.0 524.8,435.7 525.0,437.3 525.2,435.9 525.4,436.6 525.6,434.7 525.8,435.9 526.0,434.4 526.2,436.9 526.4,435.0 526.6,436.9 526.8,436.4 527.0,437.9 527.2,437.1 527.4,438.3 527.6,437.5 527.8,437.3 528.0,436.6 528.2,437.3 528.4,436.0 528.6,436.4 528.8,435.7 529.0,436.3 529.2,434.0 529.4,437.5 529.6,434.1 529.8,437.3 530.0,434.3 530.2,437.0 530.4,434.3 530.6,436.9 530.8,434.4 531.0,437.4 531.2,435.4 531.4,437.5 531.6,433.4 531.8,434.0 532.0,433.9 532.2,435.6 532.4,436.0 532.6,438.3 532.8,436.0 533.0,438.8 533.2,433.3 533.4,437.3 533.6,435.1 533.8,436.0 534.0,435.2 534.2,436.7 534.4,436.2 534.6,436.8 534.8,436.3 535.0,438.9 535.2,437.0 535.4,436.4 535.6,436.3 535.8,437.0 536.0,434.8 536.2,438.0 536.4,435.5 536.6,436.0 536.8,435.5 537.0,436.1 537.2,434.9 537.4,437.3 537.6,435.9 537.8,437.0 538.0,436.5 538.2,438.0 538.4,437.6 538.6,438.1 538.8,436.2 539.0,437.5 539.2,436.8 539.4,440.6 539.6,437.3 539.8,439.7 540.0,437.8 540.2,439.1 540.4,436.9 540.6,440.7 540.8,436.5 541.0,438.3 541.2,437.3 541.4,438.4 541.6,436.8 541.8,438.5 542.0,437.7 542.2,439.6 542.4,438.0 542.6,439.2 542.8,436.7 543.0,436.9 543.2,435.7 543.4,437.9 543.6,435.9 543.8,438.0 544.0,437.8 544.2,439.3 544.4,437.4 544.6,438.1 544.8,436.2 545.0,437.1 545.2,436.4 545.4,436.3 545.6,434.9 545.8,436.8 546.0,435.9 546.2,438.4 546.4,437.2 546.6,437.9 546.8,435.9 547.0,436.9 547.2,436.5 547.4,437.1 547.6,435.7 547.8,438.0 548.0,435.7 548.2,439.2 548.4,435.2 548.6,439.6 548.8,436.8 549.0,437.3 549.2,436.2 549.4,437.1 549.6,435.9 549.8,436.0 550.0,435.4 550.2,438.2 550.4,436.0 550.6,436.8 550.8,435.4 551.0,436.9 551.2,436.4 551.4,436.7 551.6,435.8 551.8,435.5 552.0,435.3 552.2,436.8 552.4,434.1 552.6,436.3 552.8,435.4 553.0,439.0 553.2,434.3 553.4,436.3 553.6,434.8 553.8,436.3 554.0,434.7 554.2,436.1 554.4,431.6 554.6,435.2 554.8,432.5 555.0,434.6 555.2,433.9 555.4,436.0 555.6,434.8 555.8,436.5 556.0,435.3 556.2,436.7 556.4,435.8 556.6,437.0 556.8,436.3 557.0,436.7 557.2,435.6 557.4,437.7 557.6,435.3 557.8,437.1 558.0,435.6 558.2,437.4 558.4,436.4 558.6,436.3 558.8,435.4 559.0,436.5 559.2,435.5 559.4,437.1 559.6,435.9 559.8,438.2 560.0,435.5 560.2,438.4 560.4,435.5 560.6,436.7 560.8,435.1 561.0,437.2 561.2,435.1 561.4,436.9 561.6,436.1 561.8,437.7 562.0,436.8 562.2,437.8 562.4,437.7 562.6,438.8 562.8,436.1 563.0,438.5 563.2,435.9 563.4,437.5 563.6,436.7 563.8,437.5 564.0,435.4 564.2,438.0 564.4,437.9 564.6,440.2 564.8,436.3 565.0,437.5 565.2,436.4 565.4,438.1 565.6,436.1 565.8,439.4 566.0,438.5 566.2,439.1 566.4,437.3 566.6,437.2 566.8,435.4 567.0,435.9 567.2,435.8 567.4,437.4 567.6,436.8 567.8,437.5 568.0,436.3 568.2,436.1 568.4,435.2 568.6,436.9 568.8,436.6 569.0,438.9 569.2,437.2 569.4,438.6 569.6,437.7 569.8,437.8 570.0,435.8 570.2,438.2 570.4,436.6 570.6,437.9 570.8,435.8 571.0,435.9 571.2,435.3 571.4,437.6 571.6,435.7 571.8,437.6 572.0,435.1 572.2,436.1 572.4,436.3 572.6,437.4 572.8,436.1 573.0,437.7 573.2,434.9 573.4,436.3 573.6,434.5 573.8,437.1 574.0,435.4 574.2,437.5 574.4,436.3 574.6,438.4 574.8,437.6 575.0,439.3 575.2,435.3 575.4,437.5 575.6,436.9 575.8,437.0 576.0,435.2 576.2,436.8 576.4,436.2 576.6,436.7 576.8,435.2 577.0,436.7 577.2,435.2 577.4,436.5 577.6,435.1 577.8,438.1 578.0,436.0 578.2,438.6 578.4,436.9 578.6,438.5 578.8,436.7 579.0,436.7 579.2,436.5 579.4,436.8 579.6,435.4 579.8,437.4 580.0,434.7 580.2,437.9 580.4,434.8 580.6,436.8 580.8,434.6 581.0,435.3 581.2,434.6 581.4,436.4 581.6,436.3 581.8,437.1 582.0,435.8 582.2,436.1 582.4,436.0 582.6,437.2 582.8,436.1 583.0,437.6 583.2,435.5 583.4,436.9 583.6,435.0 583.8,436.0 584.0,435.2 584.2,436.3 584.3,435.1 584.5,438.0 584.7,434.1 584.9,436.4 585.1,434.7 585.3,436.7 585.5,434.6 585.7,437.6 585.9,436.6 586.1,437.8 586.3,436.3 586.5,439.5 586.7,436.4 586.9,437.8 587.1,436.3 587.3,437.5 587.5,435.5 587.7,437.5 587.9,434.5 588.1,437.3 588.3,436.0 588.5,439.8 588.7,436.7 588.9,438.4 589.1,437.6 589.3,439.7 589.5,437.3 589.7,438.0 589.9,435.7 590.1,437.0 590.3,437.3 590.5,438.0 590.7,436.8 590.9,436.6 591.1,435.0 591.3,437.9 591.5,434.5 591.7,435.9 591.9,436.3 592.1,436.4 592.3,434.6 592.5,436.7 592.7,434.4 592.9,435.8 593.1,435.2 593.3,436.5 593.5,435.3 593.7,438.6 593.9,435.0 594.1,437.2 594.3,436.7 594.5,437.8 594.7,436.5 594.9,439.3 595.1,438.0 595.3,439.1 595.5,437.8 595.7,437.6 595.9,434.6 596.1,438.6 596.3,436.1 596.5,437.9 596.7,435.4 596.9,437.4 597.1,437.2 597.3,437.0 597.5,437.5 597.7,438.1 597.9,436.0 598.1,437.1 598.3,435.7 598.5,436.7 598.7,433.8 598.9,436.1 599.1,433.6 599.3,435.1 599.5,432.9 599.7,434.9 599.9,435.3 600.1,436.6 600.3,434.3 600.5,436.0 600.7,435.4 600.9,438.5 601.1,437.3 601.3,437.6 601.5,435.9 601.7,437.9 601.9,435.3 602.1,435.8 602.3,434.1 602.5,435.7 602.7,434.2 602.9,435.5 603.1,435.2 603.3,436.3 603.5,434.8 603.7,436.1 603.9,435.7 604.1,437.5 604.3,435.2 604.5,436.3 604.7,435.7 604.9,436.4 605.1,436.3 605.3,436.8 605.5,437.4 605.7,437.4 605.9,436.5 606.1,436.9 606.3,435.6 606.5,436.0 606.7,434.8 606.9,435.1 607.1,434.9 607.3,436.3 607.5,436.0 607.7,439.1 607.9,435.9 608.1,436.6 608.3,434.0 608.5,435.3 608.7,435.4 608.9,436.7 609.1,436.1 609.3,437.7 609.5,436.0 609.7,436.8 609.9,436.8 610.1,438.0 610.3,436.0 610.5,439.3 610.7,434.5 610.9,437.6 611.1,435.6 611.3,437.9 611.5,435.9 611.7,438.1 611.9,434.6 612.1,435.6 612.3,434.8 612.5,436.7 612.7,435.0 612.9,437.1 613.1,435.7 613.3,436.0 613.5,434.8 613.7,435.7 613.9,434.0 614.1,436.6 614.3,436.0 614.5,438.1 614.7,435.8 614.9,436.8 615.1,435.0 615.3,435.9 615.5,435.4 615.7,435.6 615.9,435.5 616.1,437.2 616.3,434.8 616.5,436.0 616.7,434.4 616.9,436.9 617.1,435.5 617.3,436.8 617.5,435.7 617.7,438.0 617.9,434.7 618.1,437.0 618.3,435.4 618.5,436.5 618.7,434.5 618.9,438.1 619.1,437.1 619.3,438.4 619.5,436.9 619.7,437.1 619.9,435.9 620.1,437.0 620.3,435.6 620.5,436.9 620.7,435.9 620.9,436.5 621.1,434.9 621.3,436.2 621.5,436.0 621.7,437.9 621.9,435.3 622.1,436.4 622.3,436.3 622.5,436.5 622.7,436.7 622.9,438.4 623.1,436.5 623.3,437.6 623.5,436.9"/>
<rect x="200.1" y="506.5" width="284.1" height="217.70000000000005" fill="none" stroke="#666" stroke-width="1.25"/>
<line x1="232.4" y1="538.6" x2="451.4" y2="538.6" stroke="#e4e4e4" stroke-width="0.6"/>
<line x1="232.4" y1="692.4" x2="451.4" y2="692.4" stroke="#bbb" stroke-width="0.7"/>
<line x1="232.4" y1="538.6" x2="232.4" y2="692.4" stroke="#333" stroke-width="0.9"/>
<line x1="451.4" y1="538.6" x2="451.4" y2="692.4" stroke="#888" stroke-width="0.7"/>
<rect x="231.0" y="537.2" width="2.8" height="2.8" fill="#000"/>
<rect x="450.0" y="537.2" width="2.8" height="2.8" fill="#000"/>
<rect x="231.0" y="691.0" width="2.8" height="2.8" fill="#000"/>
<rect x="450.0" y="691.0" width="2.8" height="2.8" fill="#000"/>
<text x="230.4" y="694.9" font-family="Liberation Serif" font-size="7" text-anchor="end" fill="#333" font-weight="normal">0</text>
<line x1="232.4" y1="673.175" x2="234.4" y2="673.175" stroke="#888" stroke-width="0.6"/>
<line x1="449.4" y1="673.175" x2="451.4" y2="673.175" stroke="#888" stroke-width="0.6"/>
<text x="230.4" y="656.45" font-family="Liberation Serif" font-size="7" text-anchor="end" fill="#333" font-weight="normal">5</text>
<line x1="232.4" y1="653.95" x2="236.4" y2="653.95" stroke="#888" stroke-width="0.7"/>
<line x1="447.4" y1="653.95" x2="451.4" y2="653.95" stroke="#888" stroke-width="0.7"/>
<line x1="232.4" y1="634.725" x2="234.4" y2="634.725" stroke="#888" stroke-width="0.6"/>
<line x1="449.4" y1="634.725" x2="451.4" y2="634.725" stroke="#888" stroke-width="0.6"/>
<text x="230.4" y="618.0" font-family="Liberation Serif" font-size="7" text-anchor="end" fill="#333" font-weight="normal">10</text>
<line x1="232.4" y1="615.5" x2="236.4" y2="615.5" stroke="#888" stroke-width="0.7"/>
<line x1="447.4" y1="615.5" x2="451.4" y2="615.5" stroke="#888" stroke-width="0.7"/>
<line x1="232.4" y1="596.275" x2="234.4" y2="596.275" stroke="#888" stroke-width="0.6"/>
<line x1="449.4" y1="596.275" x2="451.4" y2="596.275" stroke="#888" stroke-width="0.6"/>
<text x="230.4" y="579.55" font-family="Liberation Serif" font-size="7" text-anchor="end" fill="#333" font-weight="normal">15</text>
<line x1="232.4" y1="577.05" x2="236.4" y2="577.05" stroke="#888" stroke-width="0.7"/>
<line x1="447.4" y1="577.05" x2="451.4" y2="577.05" stroke="#888" stroke-width="0.7"/>
<line x1="232.4" y1="557.8249999999999" x2="234.4" y2="557.8249999999999" stroke="#888" stroke-width="0.6"/>
<line x1="449.4" y1="557.8249999999999" x2="451.4" y2="557.8249999999999" stroke="#888" stroke-width="0.6"/>
<text x="230.4" y="541.1" font-family="Liberation Serif" font-size="7" text-anchor="end" fill="#333" font-weight="normal">20</text>
<text x="232.4" y="698.8" font-family="Liberation Serif" font-size="7" text-anchor="middle" fill="#333" font-weight="normal">0</text>
<line x1="254.3" y1="692.4" x2="254.3" y2="690.4" stroke="#777" stroke-width="0.6"/>
<line x1="254.3" y1="538.6" x2="254.3" y2="540.6" stroke="#777" stroke-width="0.6"/>
<text x="276.2" y="698.8" font-family="Liberation Serif" font-size="7" text-anchor="middle" fill="#333" font-weight="normal">1000</text>
<line x1="276.2" y1="692.4" x2="276.2" y2="688.4" stroke="#777" stroke-width="0.7"/>
<line x1="276.2" y1="538.6" x2="276.2" y2="542.6" stroke="#555" stroke-width="0.8"/>
<line x1="298.09999999999997" y1="692.4" x2="298.09999999999997" y2="690.4" stroke="#777" stroke-width="0.6"/>
<line x1="298.09999999999997" y1="538.6" x2="298.09999999999997" y2="540.6" stroke="#777" stroke-width="0.6"/>
<text x="320.0" y="698.8" font-family="Liberation Serif" font-size="7" text-anchor="middle" fill="#333" font-weight="normal">2000</text>
<line x1="320.0" y1="692.4" x2="320.0" y2="688.4" stroke="#777" stroke-width="0.7"/>
<line x1="320.0" y1="538.6" x2="320.0" y2="542.6" stroke="#555" stroke-width="0.8"/>
<line x1="341.9" y1="692.4" x2="341.9" y2="690.4" stroke="#777" stroke-width="0.6"/>
<line x1="341.9" y1="538.6" x2="341.9" y2="540.6" stroke="#777" stroke-width="0.6"/>
<text x="363.79999999999995" y="698.8" font-family="Liberation Serif" font-size="7" text-anchor="middle" fill="#333" font-weight="normal">3000</text>
<line x1="363.79999999999995" y1="692.4" x2="363.79999999999995" y2="688.4" stroke="#777" stroke-width="0.7"/>
<line x1="363.79999999999995" y1="538.6" x2="363.79999999999995" y2="542.6" stroke="#555" stroke-width="0.8"/>
<line x1="385.69999999999993" y1="692.4" x2="385.69999999999993" y2="690.4" stroke="#777" stroke-width="0.6"/>
<line x1="385.69999999999993" y1="538.6" x2="385.69999999999993" y2="540.6" stroke="#777" stroke-width="0.6"/>
<text x="407.6" y="698.8" font-family="Liberation Serif" font-size="7" text-anchor="middle" fill="#333" font-weight="normal">4000</text>
<line x1="407.6" y1="692.4" x2="407.6" y2="688.4" stroke="#777" stroke-width="0.7"/>
<line x1="407.6" y1="538.6" x2="407.6" y2="542.6" stroke="#555" stroke-width="0.8"/>
<line x1="429.5" y1="692.4" x2="429.5" y2="690.4" stroke="#777" stroke-width="0.6"/>
<line x1="429.5" y1="538.6" x2="429.5" y2="540.6" stroke="#777" stroke-width="0.6"/>
<text x="451.4" y="698.8" font-family="Liberation Serif" font-size="7" text-anchor="middle" fill="#333" font-weight="normal">5000</text>
<text x="342" y="709" font-family="Liberation Sans" font-size="8.4" text-anchor="middle" fill="#222" font-weight="normal" stroke="#222" stroke-width="0.22">Eigenvector index</text>
<text x="218.6" y="614" font-family="Liberation Sans" font-size="8.6" text-anchor="middle" fill="#222" font-weight="normal" stroke="#222" stroke-width="0.22" textLength="16.4" lengthAdjust="spacingAndGlyphs" transform="rotate(-90 218.6 614)">(nm)</text>
<text x="340.5" y="740.2" font-family="Liberation Sans" font-size="10" text-anchor="middle" fill="#222" font-weight="normal" stroke="#222" stroke-width="0.22" textLength="11.8" lengthAdjust="spacingAndGlyphs">(e)</text>
<polyline fill="none" stroke="#a04040" stroke-width="0.9" points="232.70000000000002,572.436 232.70000000000002,692.4 244.4,692.4"/>
<circle cx="232.4" cy="571.667" r="0.7" fill="#4040c0"/>
</svg>
</body></html>
